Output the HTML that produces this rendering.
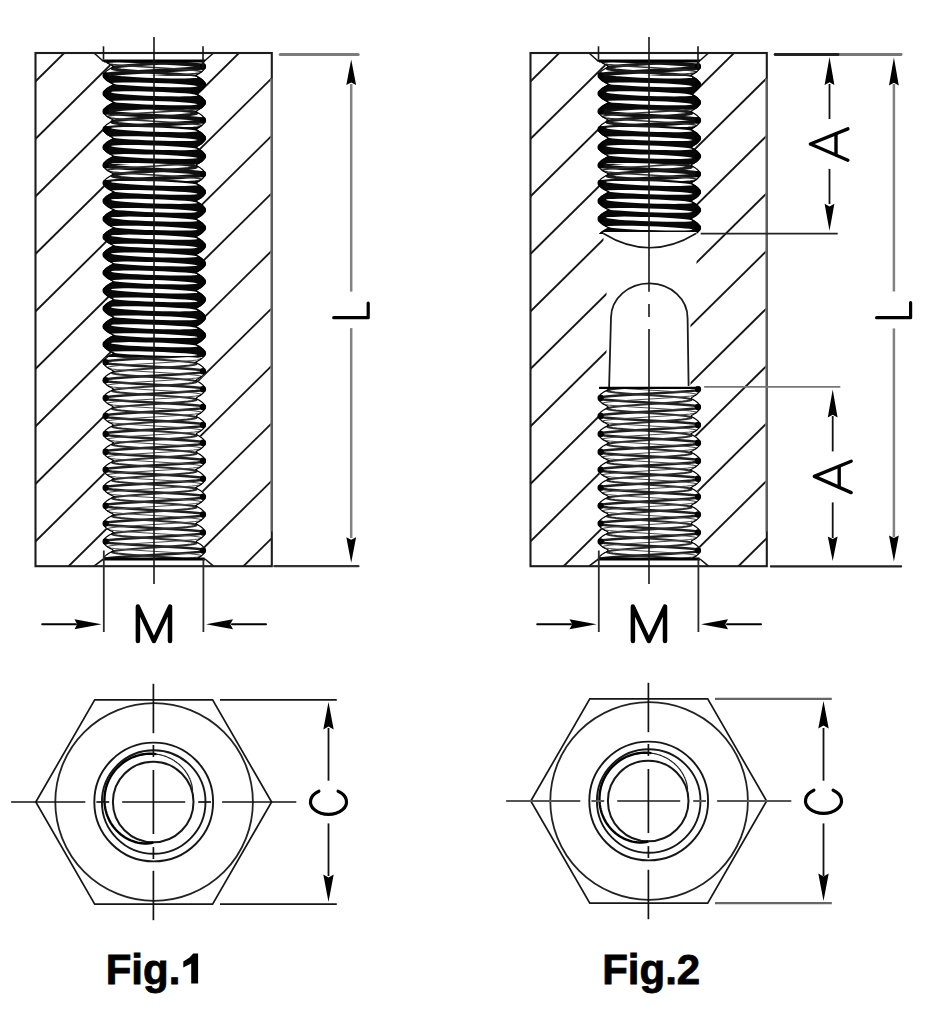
<!DOCTYPE html>
<html><head><meta charset="utf-8"><style>
html,body{margin:0;padding:0;background:#fff;}
body{width:938px;height:1013px;overflow:hidden;font-family:"Liberation Sans",sans-serif;}
svg{display:block;}
</style></head><body>
<svg width="938" height="1013" viewBox="0 0 938 1013">
<rect width="938" height="1013" fill="#fff"/>
<clipPath id="cp0"><rect x="35.5" y="53" width="236.3" height="513.2"/></clipPath>
<line x1="15.5" y1="-13.9" x2="295.5" y2="-290.2" stroke="#161616" stroke-width="1.9" clip-path="url(#cp0)"/>
<line x1="15.5" y1="43.6" x2="295.5" y2="-232.7" stroke="#161616" stroke-width="1.9" clip-path="url(#cp0)"/>
<line x1="15.5" y1="101.1" x2="295.5" y2="-175.2" stroke="#161616" stroke-width="1.9" clip-path="url(#cp0)"/>
<line x1="15.5" y1="158.6" x2="295.5" y2="-117.7" stroke="#161616" stroke-width="1.9" clip-path="url(#cp0)"/>
<line x1="15.5" y1="216.1" x2="295.5" y2="-60.2" stroke="#161616" stroke-width="1.9" clip-path="url(#cp0)"/>
<line x1="15.5" y1="273.6" x2="295.5" y2="-2.7" stroke="#161616" stroke-width="1.9" clip-path="url(#cp0)"/>
<line x1="15.5" y1="331.1" x2="295.5" y2="54.8" stroke="#161616" stroke-width="1.9" clip-path="url(#cp0)"/>
<line x1="15.5" y1="388.6" x2="295.5" y2="112.3" stroke="#161616" stroke-width="1.9" clip-path="url(#cp0)"/>
<line x1="15.5" y1="446.1" x2="295.5" y2="169.8" stroke="#161616" stroke-width="1.9" clip-path="url(#cp0)"/>
<line x1="15.5" y1="503.6" x2="295.5" y2="227.3" stroke="#161616" stroke-width="1.9" clip-path="url(#cp0)"/>
<line x1="15.5" y1="561.1" x2="295.5" y2="284.8" stroke="#161616" stroke-width="1.9" clip-path="url(#cp0)"/>
<line x1="15.5" y1="618.6" x2="295.5" y2="342.3" stroke="#161616" stroke-width="1.9" clip-path="url(#cp0)"/>
<line x1="15.5" y1="676.1" x2="295.5" y2="399.8" stroke="#161616" stroke-width="1.9" clip-path="url(#cp0)"/>
<line x1="15.5" y1="733.6" x2="295.5" y2="457.3" stroke="#161616" stroke-width="1.9" clip-path="url(#cp0)"/>
<line x1="15.5" y1="791.1" x2="295.5" y2="514.8" stroke="#161616" stroke-width="1.9" clip-path="url(#cp0)"/>
<line x1="15.5" y1="848.6" x2="295.5" y2="572.3" stroke="#161616" stroke-width="1.9" clip-path="url(#cp0)"/>
<line x1="15.5" y1="906.1" x2="295.5" y2="629.8" stroke="#161616" stroke-width="1.9" clip-path="url(#cp0)"/>
<line x1="15.5" y1="963.6" x2="295.5" y2="687.3" stroke="#161616" stroke-width="1.9" clip-path="url(#cp0)"/>
<path d="M94.5 53 L103 60.8 L205.4 60.8 L213.5 53Z" fill="#fff"/>
<path d="M94.5 566.2 L103 559.5 L205.4 559.5 L213.5 566.2Z" fill="#fff"/>
<clipPath id="th1"><path d="M104 60.5 L104.5 61.1 L105 61.7 L105.7 62.3 L106.4 62.9 L107.2 63.5 L108.2 64.1 L109.2 64.7 L110.3 65.3 L111.5 65.9 L112.7 66.5 L112 67.1 L110.7 67.7 L109.6 68.3 L108.6 68.9 L107.6 69.5 L106.7 70.1 L106 70.7 L105.3 71.3 L104.7 71.9 L104.2 72.5 L103.8 73.1 L103.4 73.7 L103.2 74.3 L103.1 74.9 L103 75.5 L103 76.1 L103.2 76.7 L103.4 77.3 L103.7 77.9 L104.1 78.5 L104.5 79.1 L105.1 79.7 L105.8 80.3 L106.5 80.9 L107.4 81.5 L108.3 82.1 L109.3 82.7 L110.4 83.3 L111.6 83.9 L112.9 84.5 L111.8 85.1 L110.6 85.7 L109.5 86.3 L108.4 86.9 L107.5 87.5 L106.6 88.1 L105.9 88.7 L105.2 89.3 L104.6 89.9 L104.1 90.5 L103.7 91.1 L103.4 91.7 L103.2 92.3 L103 92.9 L103 93.5 L103 94.1 L103.2 94.7 L103.4 95.3 L103.7 95.9 L104.1 96.5 L104.6 97.1 L105.2 97.7 L105.9 98.3 L106.6 98.9 L107.5 99.5 L108.4 100.1 L109.5 100.7 L110.6 101.3 L111.8 101.9 L112.9 102.5 L111.6 103.1 L110.4 103.7 L109.3 104.3 L108.3 104.9 L107.4 105.5 L106.5 106.1 L105.8 106.7 L105.1 107.3 L104.5 107.9 L104.1 108.5 L103.7 109.1 L103.4 109.7 L103.2 110.3 L103 110.9 L103 111.5 L103.1 112.1 L103.2 112.7 L103.4 113.3 L103.8 113.9 L104.2 114.5 L104.7 115.1 L105.3 115.7 L106 116.3 L106.7 116.9 L107.6 117.5 L108.6 118.1 L109.6 118.7 L110.7 119.3 L112 119.9 L112.7 120.5 L111.5 121.1 L110.3 121.7 L109.2 122.3 L108.2 122.9 L107.2 123.5 L106.4 124.1 L105.7 124.7 L105 125.3 L104.5 125.9 L104 126.5 L103.6 127.1 L103.3 127.7 L103.1 128.3 L103 128.9 L103 129.5 L103.1 130.1 L103.2 130.7 L103.5 131.3 L103.8 131.9 L104.2 132.5 L104.8 133.1 L105.4 133.7 L106.1 134.3 L106.9 134.9 L107.7 135.5 L108.7 136.1 L109.7 136.7 L110.9 137.3 L112.1 137.9 L112.6 138.5 L111.3 139.1 L110.1 139.7 L109 140.3 L108 140.9 L107.1 141.5 L106.3 142.1 L105.6 142.7 L105 143.3 L104.4 143.9 L103.9 144.5 L103.6 145.1 L103.3 145.7 L103.1 146.3 L103 146.9 L103 147.5 L103.1 148.1 L103.3 148.7 L103.5 149.3 L103.9 149.9 L104.3 150.5 L104.8 151.1 L105.5 151.7 L106.2 152.3 L107 152.9 L107.9 153.5 L108.8 154.1 L109.9 154.7 L111.1 155.3 L112.3 155.9 L112.4 156.5 L111.1 157.1 L110 157.7 L108.9 158.3 L107.9 158.9 L107 159.5 L106.2 160.1 L105.5 160.7 L104.9 161.3 L104.3 161.9 L103.9 162.5 L103.5 163.1 L103.3 163.7 L103.1 164.3 L103 164.9 L103 165.5 L103.1 166.1 L103.3 166.7 L103.6 167.3 L103.9 167.9 L104.4 168.5 L104.9 169.1 L105.5 169.7 L106.3 170.3 L107.1 170.9 L108 171.5 L109 172.1 L110 172.7 L111.2 173.3 L112.5 173.9 L112.2 174.5 L111 175.1 L109.8 175.7 L108.8 176.3 L107.8 176.9 L106.9 177.5 L106.1 178.1 L105.4 178.7 L104.8 179.3 L104.3 179.9 L103.8 180.5 L103.5 181.1 L103.2 181.7 L103.1 182.3 L103 182.9 L103 183.5 L103.1 184.1 L103.3 184.7 L103.6 185.3 L104 185.9 L104.4 186.5 L105 187.1 L105.6 187.7 L106.4 188.3 L107.2 188.9 L108.1 189.5 L109.1 190.1 L110.2 190.7 L111.4 191.3 L112.6 191.9 L112 192.5 L110.8 193.1 L109.7 193.7 L108.6 194.3 L107.7 194.9 L106.8 195.5 L106 196.1 L105.3 196.7 L104.7 197.3 L104.2 197.9 L103.8 198.5 L103.5 199.1 L103.2 199.7 L103.1 200.3 L103 200.9 L103 201.5 L103.1 202.1 L103.4 202.7 L103.6 203.3 L104 203.9 L104.5 204.5 L105.1 205.1 L105.7 205.7 L106.5 206.3 L107.3 206.9 L108.2 207.5 L109.2 208.1 L110.3 208.7 L111.5 209.3 L112.8 209.9 L111.9 210.5 L110.7 211.1 L109.5 211.7 L108.5 212.3 L107.5 212.9 L106.7 213.5 L105.9 214.1 L105.2 214.7 L104.7 215.3 L104.2 215.9 L103.7 216.5 L103.4 217.1 L103.2 217.7 L103.1 218.3 L103 218.9 L103 219.5 L103.2 220.1 L103.4 220.7 L103.7 221.3 L104.1 221.9 L104.6 222.5 L105.2 223.1 L105.8 223.7 L106.6 224.3 L107.4 224.9 L108.4 225.5 L109.4 226.1 L110.5 226.7 L111.7 227.3 L113 227.9 L111.7 228.5 L110.5 229.1 L109.4 229.7 L108.4 230.3 L107.4 230.9 L106.6 231.5 L105.8 232.1 L105.2 232.7 L104.6 233.3 L104.1 233.9 L103.7 234.5 L103.4 235.1 L103.2 235.7 L103 236.3 L103 236.9 L103.1 237.5 L103.2 238.1 L103.4 238.7 L103.7 239.3 L104.2 239.9 L104.7 240.5 L105.2 241.1 L105.9 241.7 L106.7 242.3 L107.5 242.9 L108.5 243.5 L109.5 244.1 L110.7 244.7 L111.9 245.3 L112.8 245.9 L111.5 246.5 L110.3 247.1 L109.2 247.7 L108.2 248.3 L107.3 248.9 L106.5 249.5 L105.7 250.1 L105.1 250.7 L104.5 251.3 L104 251.9 L103.6 252.5 L103.4 253.1 L103.1 253.7 L103 254.3 L103 254.9 L103.1 255.5 L103.2 256.1 L103.5 256.7 L103.8 257.3 L104.2 257.9 L104.7 258.5 L105.3 259.1 L106 259.7 L106.8 260.3 L107.7 260.9 L108.6 261.5 L109.7 262.1 L110.8 262.7 L112 263.3 L112.6 263.9 L111.4 264.5 L110.2 265.1 L109.1 265.7 L108.1 266.3 L107.2 266.9 L106.4 267.5 L105.6 268.1 L105 268.7 L104.4 269.3 L104 269.9 L103.6 270.5 L103.3 271.1 L103.1 271.7 L103 272.3 L103 272.9 L103.1 273.5 L103.2 274.1 L103.5 274.7 L103.8 275.3 L104.3 275.9 L104.8 276.5 L105.4 277.1 L106.1 277.7 L106.9 278.3 L107.8 278.9 L108.8 279.5 L109.8 280.1 L111 280.7 L112.2 281.3 L112.5 281.9 L111.2 282.5 L110 283.1 L109 283.7 L108 284.3 L107.1 284.9 L106.3 285.5 L105.5 286.1 L104.9 286.7 L104.4 287.3 L103.9 287.9 L103.6 288.5 L103.3 289.1 L103.1 289.7 L103 290.3 L103 290.9 L103.1 291.5 L103.3 292.1 L103.5 292.7 L103.9 293.3 L104.3 293.9 L104.9 294.5 L105.5 295.1 L106.2 295.7 L107 296.3 L107.9 296.9 L108.9 297.5 L110 298.1 L111.1 298.7 L112.4 299.3 L112.3 299.9 L111.1 300.5 L109.9 301.1 L108.8 301.7 L107.9 302.3 L107 302.9 L106.2 303.5 L105.5 304.1 L104.8 304.7 L104.3 305.3 L103.9 305.9 L103.5 306.5 L103.3 307.1 L103.1 307.7 L103 308.3 L103 308.9 L103.1 309.5 L103.3 310.1 L103.6 310.7 L103.9 311.3 L104.4 311.9 L105 312.5 L105.6 313.1 L106.3 313.7 L107.1 314.3 L108 314.9 L109 315.5 L110.1 316.1 L111.3 316.7 L112.6 317.3 L112.1 317.9 L110.9 318.5 L109.7 319.1 L108.7 319.7 L107.7 320.3 L106.9 320.9 L106.1 321.5 L105.4 322.1 L104.8 322.7 L104.2 323.3 L103.8 323.9 L103.5 324.5 L103.2 325.1 L103.1 325.7 L103 326.3 L103 326.9 L103.1 327.5 L103.3 328.1 L103.6 328.7 L104 329.3 L104.5 329.9 L105 330.5 L105.7 331.1 L106.4 331.7 L107.2 332.3 L108.2 332.9 L109.2 333.5 L110.3 334.1 L111.5 334.7 L112.7 335.3 L112 335.9 L110.7 336.5 L109.6 337.1 L108.6 337.7 L107.6 338.3 L106.7 338.9 L106 339.5 L105.3 340.1 L104.7 340.7 L104.2 341.3 L103.8 341.9 L103.4 342.5 L103.2 343.1 L103.1 343.7 L103 344.3 L103 344.9 L103.2 345.5 L103.4 346.1 L103.7 346.7 L104.1 347.3 L104.5 347.9 L105.1 348.5 L105.8 349.1 L106.5 349.7 L107.4 350.3 L108.3 350.9 L109.3 351.5 L110.4 352.1 L111.6 352.7 L112.9 353.3 L111.8 353.9 L110.6 354.5 L109.5 355.1 L108.4 355.7 L107.5 356.3 L106.6 356.9 L105.9 357.5 L105.2 358.1 L104.6 358.7 L104.1 359.3 L103.7 359.9 L103.4 360.5 L103.2 361.1 L103 361.7 L103 362.3 L103 362.9 L103.2 363.5 L103.4 364.1 L103.7 364.7 L104.1 365.3 L104.6 365.9 L105.2 366.5 L105.9 367.1 L106.6 367.7 L107.5 368.3 L108.4 368.9 L109.5 369.5 L110.6 370.1 L111.8 370.7 L112.9 371.3 L111.6 371.9 L110.4 372.5 L109.3 373.1 L108.3 373.7 L107.4 374.3 L106.5 374.9 L105.8 375.5 L105.1 376.1 L104.5 376.7 L104.1 377.3 L103.7 377.9 L103.4 378.5 L103.2 379.1 L103 379.7 L103 380.3 L103.1 380.9 L103.2 381.5 L103.4 382.1 L103.8 382.7 L104.2 383.3 L104.7 383.9 L105.3 384.5 L106 385.1 L106.7 385.7 L107.6 386.3 L108.6 386.9 L109.6 387.5 L110.7 388.1 L112 388.7 L112.7 389.3 L111.5 389.9 L110.3 390.5 L109.2 391.1 L108.2 391.7 L107.2 392.3 L106.4 392.9 L105.7 393.5 L105 394.1 L104.5 394.7 L104 395.3 L103.6 395.9 L103.3 396.5 L103.1 397.1 L103 397.7 L103 398.3 L103.1 398.9 L103.2 399.5 L103.5 400.1 L103.8 400.7 L104.2 401.3 L104.8 401.9 L105.4 402.5 L106.1 403.1 L106.9 403.7 L107.7 404.3 L108.7 404.9 L109.7 405.5 L110.9 406.1 L112.1 406.7 L112.6 407.3 L111.3 407.9 L110.1 408.5 L109 409.1 L108 409.7 L107.1 410.3 L106.3 410.9 L105.6 411.5 L105 412.1 L104.4 412.7 L103.9 413.3 L103.6 413.9 L103.3 414.5 L103.1 415.1 L103 415.7 L103 416.3 L103.1 416.9 L103.3 417.5 L103.5 418.1 L103.9 418.7 L104.3 419.3 L104.8 419.9 L105.5 420.5 L106.2 421.1 L107 421.7 L107.9 422.3 L108.8 422.9 L109.9 423.5 L111.1 424.1 L112.3 424.7 L112.4 425.3 L111.1 425.9 L110 426.5 L108.9 427.1 L107.9 427.7 L107 428.3 L106.2 428.9 L105.5 429.5 L104.9 430.1 L104.3 430.7 L103.9 431.3 L103.5 431.9 L103.3 432.5 L103.1 433.1 L103 433.7 L103 434.3 L103.1 434.9 L103.3 435.5 L103.6 436.1 L103.9 436.7 L104.4 437.3 L104.9 437.9 L105.5 438.5 L106.3 439.1 L107.1 439.7 L108 440.3 L109 440.9 L110 441.5 L111.2 442.1 L112.5 442.7 L112.2 443.3 L111 443.9 L109.8 444.5 L108.8 445.1 L107.8 445.7 L106.9 446.3 L106.1 446.9 L105.4 447.5 L104.8 448.1 L104.3 448.7 L103.8 449.3 L103.5 449.9 L103.2 450.5 L103.1 451.1 L103 451.7 L103 452.3 L103.1 452.9 L103.3 453.5 L103.6 454.1 L104 454.7 L104.4 455.3 L105 455.9 L105.6 456.5 L106.4 457.1 L107.2 457.7 L108.1 458.3 L109.1 458.9 L110.2 459.5 L111.4 460.1 L112.6 460.7 L112 461.3 L110.8 461.9 L109.7 462.5 L108.6 463.1 L107.7 463.7 L106.8 464.3 L106 464.9 L105.3 465.5 L104.7 466.1 L104.2 466.7 L103.8 467.3 L103.5 467.9 L103.2 468.5 L103.1 469.1 L103 469.7 L103 470.3 L103.1 470.9 L103.4 471.5 L103.6 472.1 L104 472.7 L104.5 473.3 L105.1 473.9 L105.7 474.5 L106.5 475.1 L107.3 475.7 L108.2 476.3 L109.2 476.9 L110.3 477.5 L111.5 478.1 L112.8 478.7 L111.9 479.3 L110.7 479.9 L109.5 480.5 L108.5 481.1 L107.5 481.7 L106.7 482.3 L105.9 482.9 L105.2 483.5 L104.7 484.1 L104.2 484.7 L103.7 485.3 L103.4 485.9 L103.2 486.5 L103.1 487.1 L103 487.7 L103 488.3 L103.2 488.9 L103.4 489.5 L103.7 490.1 L104.1 490.7 L104.6 491.3 L105.2 491.9 L105.8 492.5 L106.6 493.1 L107.4 493.7 L108.4 494.3 L109.4 494.9 L110.5 495.5 L111.7 496.1 L113 496.7 L111.7 497.3 L110.5 497.9 L109.4 498.5 L108.4 499.1 L107.4 499.7 L106.6 500.3 L105.8 500.9 L105.2 501.5 L104.6 502.1 L104.1 502.7 L103.7 503.3 L103.4 503.9 L103.2 504.5 L103 505.1 L103 505.7 L103.1 506.3 L103.2 506.9 L103.4 507.5 L103.7 508.1 L104.2 508.7 L104.7 509.3 L105.2 509.9 L105.9 510.5 L106.7 511.1 L107.5 511.7 L108.5 512.3 L109.5 512.9 L110.7 513.5 L111.9 514.1 L112.8 514.7 L111.5 515.3 L110.3 515.9 L109.2 516.5 L108.2 517.1 L107.3 517.7 L106.5 518.3 L105.7 518.9 L105.1 519.5 L104.5 520.1 L104 520.7 L103.6 521.3 L103.4 521.9 L103.1 522.5 L103 523.1 L103 523.7 L103.1 524.3 L103.2 524.9 L103.5 525.5 L103.8 526.1 L104.2 526.7 L104.7 527.3 L105.3 527.9 L106 528.5 L106.8 529.1 L107.7 529.7 L108.6 530.3 L109.7 530.9 L110.8 531.5 L112 532.1 L112.6 532.7 L111.4 533.3 L110.2 533.9 L109.1 534.5 L108.1 535.1 L107.2 535.7 L106.4 536.3 L105.6 536.9 L105 537.5 L104.4 538.1 L104 538.7 L103.6 539.3 L103.3 539.9 L103.1 540.5 L103 541.1 L103 541.7 L103.1 542.3 L103.2 542.9 L103.5 543.5 L103.8 544.1 L104.3 544.7 L104.8 545.3 L105.4 545.9 L106.1 546.5 L106.9 547.1 L107.8 547.7 L108.8 548.3 L109.8 548.9 L111 549.5 L112.2 550.1 L112.5 550.7 L111.2 551.3 L110 551.9 L109 552.5 L108 553.1 L107.1 553.7 L106.3 554.3 L105.5 554.9 L104.9 555.5 L104.4 556.1 L103.9 556.7 L103.6 557.3 L103.3 557.9 L103.1 558.5 L103 559.1 L197.2 559.1 L198.4 558.5 L199.4 557.9 L200.4 557.3 L201.2 556.7 L202 556.1 L202.8 555.5 L203.4 554.9 L203.9 554.3 L204.4 553.7 L204.8 553.1 L205.1 552.5 L205.4 551.9 L205.5 551.3 L205.6 550.7 L205.6 550.1 L205.5 549.5 L205.3 548.9 L205.1 548.3 L204.7 547.7 L204.3 547.1 L203.8 546.5 L203.3 545.9 L202.6 545.3 L201.9 544.7 L201.1 544.1 L200.2 543.5 L199.2 542.9 L198.1 542.3 L197 541.7 L197.4 541.1 L198.5 540.5 L199.5 539.9 L200.5 539.3 L201.3 538.7 L202.1 538.1 L202.8 537.5 L203.5 536.9 L204 536.3 L204.5 535.7 L204.9 535.1 L205.2 534.5 L205.4 533.9 L205.5 533.3 L205.6 532.7 L205.6 532.1 L205.5 531.5 L205.3 530.9 L205 530.3 L204.7 529.7 L204.3 529.1 L203.8 528.5 L203.2 527.9 L202.5 527.3 L201.8 526.7 L201 526.1 L200 525.5 L199.1 524.9 L198 524.3 L196.8 523.7 L197.5 523.1 L198.6 522.5 L199.7 521.9 L200.6 521.3 L201.5 520.7 L202.2 520.1 L202.9 519.5 L203.5 518.9 L204.1 518.3 L204.5 517.7 L204.9 517.1 L205.2 516.5 L205.4 515.9 L205.5 515.3 L205.6 514.7 L205.6 514.1 L205.5 513.5 L205.3 512.9 L205 512.3 L204.6 511.7 L204.2 511.1 L203.7 510.5 L203.1 509.9 L202.4 509.3 L201.7 508.7 L200.8 508.1 L199.9 507.5 L198.9 506.9 L197.8 506.3 L196.7 505.7 L197.7 505.1 L198.8 504.5 L199.8 503.9 L200.7 503.3 L201.6 502.7 L202.3 502.1 L203 501.5 L203.6 500.9 L204.1 500.3 L204.6 499.7 L205 499.1 L205.2 498.5 L205.4 497.9 L205.6 497.3 L205.6 496.7 L205.6 496.1 L205.4 495.5 L205.2 494.9 L205 494.3 L204.6 493.7 L204.1 493.1 L203.6 492.5 L203 491.9 L202.3 491.3 L201.6 490.7 L200.7 490.1 L199.8 489.5 L198.8 488.9 L197.7 488.3 L196.7 487.7 L197.8 487.1 L198.9 486.5 L199.9 485.9 L200.8 485.3 L201.7 484.7 L202.4 484.1 L203.1 483.5 L203.7 482.9 L204.2 482.3 L204.6 481.7 L205 481.1 L205.3 480.5 L205.5 479.9 L205.6 479.3 L205.6 478.7 L205.5 478.1 L205.4 477.5 L205.2 476.9 L204.9 476.3 L204.5 475.7 L204.1 475.1 L203.5 474.5 L202.9 473.9 L202.2 473.3 L201.5 472.7 L200.6 472.1 L199.7 471.5 L198.6 470.9 L197.5 470.3 L196.8 469.7 L198 469.1 L199.1 468.5 L200 467.9 L201 467.3 L201.8 466.7 L202.5 466.1 L203.2 465.5 L203.8 464.9 L204.3 464.3 L204.7 463.7 L205 463.1 L205.3 462.5 L205.5 461.9 L205.6 461.3 L205.6 460.7 L205.5 460.1 L205.4 459.5 L205.2 458.9 L204.9 458.3 L204.5 457.7 L204 457.1 L203.5 456.5 L202.8 455.9 L202.1 455.3 L201.3 454.7 L200.5 454.1 L199.5 453.5 L198.5 452.9 L197.4 452.3 L197 451.7 L198.1 451.1 L199.2 450.5 L200.2 449.9 L201.1 449.3 L201.9 448.7 L202.6 448.1 L203.3 447.5 L203.8 446.9 L204.3 446.3 L204.7 445.7 L205.1 445.1 L205.3 444.5 L205.5 443.9 L205.6 443.3 L205.6 442.7 L205.5 442.1 L205.4 441.5 L205.1 440.9 L204.8 440.3 L204.4 439.7 L203.9 439.1 L203.4 438.5 L202.8 437.9 L202 437.3 L201.2 436.7 L200.4 436.1 L199.4 435.5 L198.4 434.9 L197.2 434.3 L197.2 433.7 L198.3 433.1 L199.3 432.5 L200.3 431.9 L201.2 431.3 L202 430.7 L202.7 430.1 L203.3 429.5 L203.9 428.9 L204.4 428.3 L204.8 427.7 L205.1 427.1 L205.4 426.5 L205.5 425.9 L205.6 425.3 L205.6 424.7 L205.5 424.1 L205.3 423.5 L205.1 422.9 L204.8 422.3 L204.4 421.7 L203.9 421.1 L203.3 420.5 L202.7 419.9 L201.9 419.3 L201.1 418.7 L200.2 418.1 L199.3 417.5 L198.2 416.9 L197.1 416.3 L197.3 415.7 L198.4 415.1 L199.5 414.5 L200.4 413.9 L201.3 413.3 L202.1 412.7 L202.8 412.1 L203.4 411.5 L204 410.9 L204.5 410.3 L204.8 409.7 L205.2 409.1 L205.4 408.5 L205.5 407.9 L205.6 407.3 L205.6 406.7 L205.5 406.1 L205.3 405.5 L205.1 404.9 L204.7 404.3 L204.3 403.7 L203.8 403.1 L203.2 402.5 L202.6 401.9 L201.8 401.3 L201 400.7 L200.1 400.1 L199.1 399.5 L198.1 398.9 L196.9 398.3 L197.5 397.7 L198.6 397.1 L199.6 396.5 L200.5 395.9 L201.4 395.3 L202.2 394.7 L202.9 394.1 L203.5 393.5 L204 392.9 L204.5 392.3 L204.9 391.7 L205.2 391.1 L205.4 390.5 L205.5 389.9 L205.6 389.3 L205.6 388.7 L205.5 388.1 L205.3 387.5 L205 386.9 L204.7 386.3 L204.2 385.7 L203.7 385.1 L203.1 384.5 L202.5 383.9 L201.7 383.3 L200.9 382.7 L200 382.1 L199 381.5 L197.9 380.9 L196.8 380.3 L197.6 379.7 L198.7 379.1 L199.7 378.5 L200.7 377.9 L201.5 377.3 L202.3 376.7 L203 376.1 L203.6 375.5 L204.1 374.9 L204.6 374.3 L204.9 373.7 L205.2 373.1 L205.4 372.5 L205.6 371.9 L205.6 371.3 L205.6 370.7 L205.4 370.1 L205.3 369.5 L205 368.9 L204.6 368.3 L204.2 367.7 L203.7 367.1 L203.1 366.5 L202.4 365.9 L201.6 365.3 L200.8 364.7 L199.9 364.1 L198.8 363.5 L197.8 362.9 L196.6 362.3 L197.8 361.7 L198.8 361.1 L199.9 360.5 L200.8 359.9 L201.6 359.3 L202.4 358.7 L203.1 358.1 L203.7 357.5 L204.2 356.9 L204.6 356.3 L205 355.7 L205.3 355.1 L205.4 354.5 L205.6 353.9 L205.6 353.3 L205.6 352.7 L205.4 352.1 L205.2 351.5 L204.9 350.9 L204.6 350.3 L204.1 349.7 L203.6 349.1 L203 348.5 L202.3 347.9 L201.5 347.3 L200.7 346.7 L199.7 346.1 L198.7 345.5 L197.6 344.9 L196.8 344.3 L197.9 343.7 L199 343.1 L200 342.5 L200.9 341.9 L201.7 341.3 L202.5 340.7 L203.1 340.1 L203.7 339.5 L204.2 338.9 L204.7 338.3 L205 337.7 L205.3 337.1 L205.5 336.5 L205.6 335.9 L205.6 335.3 L205.5 334.7 L205.4 334.1 L205.2 333.5 L204.9 332.9 L204.5 332.3 L204 331.7 L203.5 331.1 L202.9 330.5 L202.2 329.9 L201.4 329.3 L200.5 328.7 L199.6 328.1 L198.6 327.5 L197.5 326.9 L196.9 326.3 L198.1 325.7 L199.1 325.1 L200.1 324.5 L201 323.9 L201.8 323.3 L202.6 322.7 L203.2 322.1 L203.8 321.5 L204.3 320.9 L204.7 320.3 L205.1 319.7 L205.3 319.1 L205.5 318.5 L205.6 317.9 L205.6 317.3 L205.5 316.7 L205.4 316.1 L205.2 315.5 L204.8 314.9 L204.5 314.3 L204 313.7 L203.4 313.1 L202.8 312.5 L202.1 311.9 L201.3 311.3 L200.4 310.7 L199.5 310.1 L198.4 309.5 L197.3 308.9 L197.1 308.3 L198.2 307.7 L199.3 307.1 L200.2 306.5 L201.1 305.9 L201.9 305.3 L202.7 304.7 L203.3 304.1 L203.9 303.5 L204.4 302.9 L204.8 302.3 L205.1 301.7 L205.3 301.1 L205.5 300.5 L205.6 299.9 L205.6 299.3 L205.5 298.7 L205.4 298.1 L205.1 297.5 L204.8 296.9 L204.4 296.3 L203.9 295.7 L203.3 295.1 L202.7 294.5 L202 293.9 L201.2 293.3 L200.3 292.7 L199.3 292.1 L198.3 291.5 L197.2 290.9 L197.2 290.3 L198.4 289.7 L199.4 289.1 L200.4 288.5 L201.2 287.9 L202 287.3 L202.8 286.7 L203.4 286.1 L203.9 285.5 L204.4 284.9 L204.8 284.3 L205.1 283.7 L205.4 283.1 L205.5 282.5 L205.6 281.9 L205.6 281.3 L205.5 280.7 L205.3 280.1 L205.1 279.5 L204.7 278.9 L204.3 278.3 L203.8 277.7 L203.3 277.1 L202.6 276.5 L201.9 275.9 L201.1 275.3 L200.2 274.7 L199.2 274.1 L198.1 273.5 L197 272.9 L197.4 272.3 L198.5 271.7 L199.5 271.1 L200.5 270.5 L201.3 269.9 L202.1 269.3 L202.8 268.7 L203.5 268.1 L204 267.5 L204.5 266.9 L204.9 266.3 L205.2 265.7 L205.4 265.1 L205.5 264.5 L205.6 263.9 L205.6 263.3 L205.5 262.7 L205.3 262.1 L205 261.5 L204.7 260.9 L204.3 260.3 L203.8 259.7 L203.2 259.1 L202.5 258.5 L201.8 257.9 L201 257.3 L200 256.7 L199.1 256.1 L198 255.5 L196.8 254.9 L197.5 254.3 L198.6 253.7 L199.7 253.1 L200.6 252.5 L201.5 251.9 L202.2 251.3 L202.9 250.7 L203.5 250.1 L204.1 249.5 L204.5 248.9 L204.9 248.3 L205.2 247.7 L205.4 247.1 L205.5 246.5 L205.6 245.9 L205.6 245.3 L205.5 244.7 L205.3 244.1 L205 243.5 L204.6 242.9 L204.2 242.3 L203.7 241.7 L203.1 241.1 L202.4 240.5 L201.7 239.9 L200.8 239.3 L199.9 238.7 L198.9 238.1 L197.8 237.5 L196.7 236.9 L197.7 236.3 L198.8 235.7 L199.8 235.1 L200.7 234.5 L201.6 233.9 L202.3 233.3 L203 232.7 L203.6 232.1 L204.1 231.5 L204.6 230.9 L205 230.3 L205.2 229.7 L205.4 229.1 L205.6 228.5 L205.6 227.9 L205.6 227.3 L205.4 226.7 L205.2 226.1 L205 225.5 L204.6 224.9 L204.1 224.3 L203.6 223.7 L203 223.1 L202.3 222.5 L201.6 221.9 L200.7 221.3 L199.8 220.7 L198.8 220.1 L197.7 219.5 L196.7 218.9 L197.8 218.3 L198.9 217.7 L199.9 217.1 L200.8 216.5 L201.7 215.9 L202.4 215.3 L203.1 214.7 L203.7 214.1 L204.2 213.5 L204.6 212.9 L205 212.3 L205.3 211.7 L205.5 211.1 L205.6 210.5 L205.6 209.9 L205.5 209.3 L205.4 208.7 L205.2 208.1 L204.9 207.5 L204.5 206.9 L204.1 206.3 L203.5 205.7 L202.9 205.1 L202.2 204.5 L201.5 203.9 L200.6 203.3 L199.7 202.7 L198.6 202.1 L197.5 201.5 L196.8 200.9 L198 200.3 L199.1 199.7 L200 199.1 L201 198.5 L201.8 197.9 L202.5 197.3 L203.2 196.7 L203.8 196.1 L204.3 195.5 L204.7 194.9 L205 194.3 L205.3 193.7 L205.5 193.1 L205.6 192.5 L205.6 191.9 L205.5 191.3 L205.4 190.7 L205.2 190.1 L204.9 189.5 L204.5 188.9 L204 188.3 L203.5 187.7 L202.8 187.1 L202.1 186.5 L201.3 185.9 L200.5 185.3 L199.5 184.7 L198.5 184.1 L197.4 183.5 L197 182.9 L198.1 182.3 L199.2 181.7 L200.2 181.1 L201.1 180.5 L201.9 179.9 L202.6 179.3 L203.3 178.7 L203.8 178.1 L204.3 177.5 L204.7 176.9 L205.1 176.3 L205.3 175.7 L205.5 175.1 L205.6 174.5 L205.6 173.9 L205.5 173.3 L205.4 172.7 L205.1 172.1 L204.8 171.5 L204.4 170.9 L203.9 170.3 L203.4 169.7 L202.8 169.1 L202 168.5 L201.2 167.9 L200.4 167.3 L199.4 166.7 L198.4 166.1 L197.2 165.5 L197.2 164.9 L198.3 164.3 L199.3 163.7 L200.3 163.1 L201.2 162.5 L202 161.9 L202.7 161.3 L203.4 160.7 L203.9 160.1 L204.4 159.5 L204.8 158.9 L205.1 158.3 L205.4 157.7 L205.5 157.1 L205.6 156.5 L205.6 155.9 L205.5 155.3 L205.3 154.7 L205.1 154.1 L204.8 153.5 L204.4 152.9 L203.9 152.3 L203.3 151.7 L202.7 151.1 L201.9 150.5 L201.1 149.9 L200.2 149.3 L199.3 148.7 L198.2 148.1 L197.1 147.5 L197.3 146.9 L198.4 146.3 L199.5 145.7 L200.4 145.1 L201.3 144.5 L202.1 143.9 L202.8 143.3 L203.4 142.7 L204 142.1 L204.5 141.5 L204.8 140.9 L205.2 140.3 L205.4 139.7 L205.5 139.1 L205.6 138.5 L205.6 137.9 L205.5 137.3 L205.3 136.7 L205.1 136.1 L204.7 135.5 L204.3 134.9 L203.8 134.3 L203.2 133.7 L202.6 133.1 L201.8 132.5 L201 131.9 L200.1 131.3 L199.1 130.7 L198.1 130.1 L196.9 129.5 L197.5 128.9 L198.6 128.3 L199.6 127.7 L200.5 127.1 L201.4 126.5 L202.2 125.9 L202.9 125.3 L203.5 124.7 L204 124.1 L204.5 123.5 L204.9 122.9 L205.2 122.3 L205.4 121.7 L205.5 121.1 L205.6 120.5 L205.6 119.9 L205.5 119.3 L205.3 118.7 L205 118.1 L204.7 117.5 L204.2 116.9 L203.7 116.3 L203.1 115.7 L202.5 115.1 L201.7 114.5 L200.9 113.9 L200 113.3 L199 112.7 L197.9 112.1 L196.8 111.5 L197.6 110.9 L198.7 110.3 L199.7 109.7 L200.7 109.1 L201.5 108.5 L202.3 107.9 L203 107.3 L203.6 106.7 L204.1 106.1 L204.6 105.5 L204.9 104.9 L205.2 104.3 L205.4 103.7 L205.6 103.1 L205.6 102.5 L205.6 101.9 L205.4 101.3 L205.3 100.7 L205 100.1 L204.6 99.5 L204.2 98.9 L203.7 98.3 L203.1 97.7 L202.4 97.1 L201.6 96.5 L200.8 95.9 L199.9 95.3 L198.8 94.7 L197.8 94.1 L196.6 93.5 L197.8 92.9 L198.8 92.3 L199.9 91.7 L200.8 91.1 L201.6 90.5 L202.4 89.9 L203.1 89.3 L203.7 88.7 L204.2 88.1 L204.6 87.5 L205 86.9 L205.3 86.3 L205.4 85.7 L205.6 85.1 L205.6 84.5 L205.6 83.9 L205.4 83.3 L205.2 82.7 L204.9 82.1 L204.6 81.5 L204.1 80.9 L203.6 80.3 L203 79.7 L202.3 79.1 L201.5 78.5 L200.7 77.9 L199.7 77.3 L198.7 76.7 L197.6 76.1 L196.8 75.5 L197.9 74.9 L199 74.3 L200 73.7 L200.9 73.1 L201.7 72.5 L202.5 71.9 L203.1 71.3 L203.7 70.7 L204.2 70.1 L204.7 69.5 L205 68.9 L205.3 68.3 L205.5 67.7 L205.6 67.1 L205.6 66.5 L205.5 65.9 L205.4 65.3 L205.2 64.7 L204.9 64.1 L204.5 63.5 L204 62.9 L203.5 62.3 L202.9 61.7 L202.2 61.1 L201.4 60.5Z"/></clipPath>
<g clip-path="url(#th1)">
<rect x="101" y="60.5" width="106.6" height="15.5" fill="#fff"/>
<clipPath id="th1_60"><rect x="101" y="60.5" width="106.6" height="15.5"/></clipPath>
<g clip-path="url(#th1_60)" fill="none" stroke-linejoin="round">
<path d="M166.4 52.5 L157.5 53 L148.6 53.5 L139.8 54 L131.4 54.5 L123.7 55 L117 55.5 L111.4 56 L107.2 56.5 L104.4 57 L103.1 57.5 L103.4 58 L105.2 58.5 L108.6 59 L113.3 59.5 L119.3 60 L126.4 60.5 L134.3 61 L142.9 61.5 L151.8 62 L160.8 62.5 L169.5 63 L177.8 63.5 L185.4 64 L192.1 64.5 L197.5 65 L201.7 65.5 L204.4 66 L205.6 66.5 L205.1 67 L203.2 67.5 L199.7 68 L194.9 68.5 L188.8 69 L181.6 69.5 L173.6 70 L165 70.5 L156.1 71 L147.1 71.5 L138.4 72 L130.1 72.5 L122.6 73 L116 73.5 L110.7 74 L106.6 74.5 L104.1 75 L103 75.5 L103.6 76 L105.6 76.5 L109.2 77 L114.2 77.5 L120.4 78 L127.6 78.5 L135.7 79 L144.3 79.5 L153.2 80 L162.2 80.5 L170.9 81 L179.1 81.5 L186.6 82 L193 82.5 L198.3 83 L202.2 83.5 L204.7 84" stroke="#111" stroke-width="3.8"/>
<path d="M125 52.5 L130.8 53 L137.3 53.5 L144.3 54 L151.6 54.5 L159 55 L166.3 55.5 L173.2 56 L179.5 56.5 L185 57 L189.6 57.5 L193.1 58 L195.5 58.5 L196.5 59 L196.3 59.5 L194.8 60 L192 60.5 L188.1 61 L183.1 61.5 L177.3 62 L170.8 62.5 L163.7 63 L156.4 63.5 L149 64 L141.7 64.5 L134.9 65 L128.6 65.5 L123.2 66 L118.6 66.5 L115.2 67 L113 67.5 L112 68 L112.4 68.5 L114 69 L116.9 69.5 L120.9 70 L125.9 70.5 L131.8 71 L138.4 71.5 L145.5 72 L152.8 72.5 L160.2 73 L167.4 73.5 L174.2 74 L180.4 74.5 L185.8 75 L190.3 75.5 L193.6 76 L195.7 76.5 L196.6 77 L196.1 77.5 L194.4 78 L191.5 78.5 L187.4 79 L182.3 79.5 L176.3 80 L169.7 80.5 L162.6 81 L155.2 81.5 L147.8 82 L140.6 82.5 L133.8 83 L127.7 83.5 L122.4 84" stroke="#1a1a1a" stroke-width="3.2"/>
<path d="M194.6 52.5 L198.3 53 L200.6 53.5 L201.6 54 L201.1 54.5 L199.1 55 L195.8 55.5 L191.2 56 L185.5 56.5 L178.8 57 L171.4 57.5 L163.5 58 L155.2 58.5 L147 59 L138.9 59.5 L131.4 60 L124.5 60.5 L118.5 61 L113.7 61.5 L110.1 62 L107.8 62.5 L107 63 L107.6 63.5 L109.7 64 L113.1 64.5 L117.8 65 L123.6 65.5 L130.3 66 L137.8 66.5 L145.8 67 L154 67.5 L162.3 68 L170.3 68.5 L177.8 69 L184.6 69.5 L190.5 70 L195.2 70.5 L198.7 71 L200.9 71.5 L201.6 72 L200.9 72.5 L198.7 73 L195.2 73.5 L190.4 74 L184.5 74.5 L177.7 75 L170.2 75.5 L162.2 76 L153.9 76.5 L145.7 77 L137.7 77.5 L130.2 78 L123.5 78.5 L117.7 79 L113 79.5 L109.6 80 L107.6 80.5 L107 81 L107.9 81.5 L110.1 82 L113.8 82.5 L118.6 83 L124.6 83.5 L131.5 84" stroke="#333" stroke-width="1.6"/>
</g>
<rect x="101" y="76" width="106.6" height="33" fill="#080808"/>
<clipPath id="th1_76"><rect x="101" y="76" width="106.6" height="33"/></clipPath>
<g clip-path="url(#th1_76)">
<ellipse cx="154.3" cy="75.9" rx="43.3" ry="2.1" transform="rotate(1.98 154.3 75.9)" fill="#fff"/>
<ellipse cx="154.3" cy="84.8" rx="43.3" ry="1.9" transform="rotate(1.98 154.3 84.8)" fill="#fff"/>
<ellipse cx="154.3" cy="93.8" rx="43.3" ry="2.1" transform="rotate(1.98 154.3 93.8)" fill="#fff"/>
<ellipse cx="154.3" cy="102.8" rx="43.3" ry="1.9" transform="rotate(1.98 154.3 102.8)" fill="#fff"/>
<ellipse cx="154.3" cy="111.7" rx="43.3" ry="2.1" transform="rotate(1.98 154.3 111.7)" fill="#fff"/>
</g>
<rect x="101" y="109" width="106.6" height="18" fill="#fff"/>
<clipPath id="th1_109"><rect x="101" y="109" width="106.6" height="18"/></clipPath>
<g clip-path="url(#th1_109)" fill="none" stroke-linejoin="round">
<path d="M199 101 L202.7 101.5 L204.9 102 L205.6 102.5 L204.7 103 L202.2 103.5 L198.3 104 L193 104.5 L186.6 105 L179.1 105.5 L170.9 106 L162.2 106.5 L153.2 107 L144.3 107.5 L135.7 108 L127.6 108.5 L120.4 109 L114.2 109.5 L109.2 110 L105.6 110.5 L103.6 111 L103 111.5 L104.1 112 L106.6 112.5 L110.7 113 L116 113.5 L122.6 114 L130.1 114.5 L138.4 115 L147.1 115.5 L156.1 116 L165 116.5 L173.6 117 L181.6 117.5 L188.8 118 L194.9 118.5 L199.7 119 L203.2 119.5 L205.1 120 L205.6 120.5 L204.4 121 L201.7 121.5 L197.5 122 L192.1 122.5 L185.4 123 L177.8 123.5 L169.5 124 L160.8 124.5 L151.8 125 L142.9 125.5 L134.3 126 L126.4 126.5 L119.3 127 L113.3 127.5 L108.6 128 L105.2 128.5 L103.4 129 L103.1 129.5 L104.4 130 L107.2 130.5 L111.4 131 L117 131.5 L123.7 132 L131.4 132.5 L139.8 133 L148.6 133.5 L157.5 134 L166.4 134.5 L174.9 135" stroke="#111" stroke-width="3.8"/>
<path d="M132.8 101 L126.8 101.5 L121.6 102 L117.4 102.5 L114.4 103 L112.5 103.5 L112 104 L112.8 104.5 L114.8 105 L118 105.5 L122.4 106 L127.7 106.5 L133.8 107 L140.6 107.5 L147.8 108 L155.2 108.5 L162.6 109 L169.7 109.5 L176.3 110 L182.3 110.5 L187.4 111 L191.5 111.5 L194.4 112 L196.1 112.5 L196.6 113 L195.7 113.5 L193.6 114 L190.3 114.5 L185.8 115 L180.4 115.5 L174.2 116 L167.4 116.5 L160.2 117 L152.8 117.5 L145.5 118 L138.4 118.5 L131.8 119 L125.9 119.5 L120.9 120 L116.9 120.5 L114 121 L112.4 121.5 L112 122 L113 122.5 L115.2 123 L118.6 123.5 L123.2 124 L128.6 124.5 L134.9 125 L141.7 125.5 L149 126 L156.4 126.5 L163.7 127 L170.8 127.5 L177.3 128 L183.1 128.5 L188.1 129 L192 129.5 L194.8 130 L196.3 130.5 L196.5 131 L195.5 131.5 L193.1 132 L189.6 132.5 L185 133 L179.5 133.5 L173.2 134 L166.3 134.5 L159 135" stroke="#1a1a1a" stroke-width="3.2"/>
<path d="M119.5 101 L125.6 101.5 L132.6 102 L140.3 102.5 L148.4 103 L156.7 103.5 L164.9 104 L172.8 104.5 L180.1 105 L186.6 105.5 L192.1 106 L196.5 106.5 L199.6 107 L201.3 107.5 L201.5 108 L200.3 108.5 L197.7 109 L193.8 109.5 L188.6 110 L182.4 110.5 L175.4 111 L167.6 111.5 L159.5 112 L151.3 112.5 L143.1 113 L135.2 113.5 L128 114 L121.5 114.5 L116.1 115 L111.8 115.5 L108.8 116 L107.3 116.5 L107.1 117 L108.4 117.5 L111.2 118 L115.2 118.5 L120.4 119 L126.7 119.5 L133.8 120 L141.6 120.5 L149.7 121 L158 121.5 L166.2 122 L174 122.5 L181.2 123 L187.6 123.5 L192.9 124 L197.1 124.5 L199.9 125 L201.4 125.5 L201.4 126 L200 126.5 L197.2 127 L193 127.5 L187.7 128 L181.3 128.5 L174.2 129 L166.4 129.5 L158.2 130 L149.9 130.5 L141.8 131 L134 131.5 L126.9 132 L120.6 132.5 L115.3 133 L111.2 133.5 L108.5 134 L107.1 134.5 L107.2 135" stroke="#333" stroke-width="1.6"/>
</g>
<rect x="101" y="127" width="106.6" height="37" fill="#080808"/>
<clipPath id="th1_127"><rect x="101" y="127" width="106.6" height="37"/></clipPath>
<g clip-path="url(#th1_127)">
<ellipse cx="154.3" cy="129.6" rx="43.3" ry="2.1" transform="rotate(1.98 154.3 129.6)" fill="#fff"/>
<ellipse cx="154.3" cy="138.6" rx="43.3" ry="1.9" transform="rotate(1.98 154.3 138.6)" fill="#fff"/>
<ellipse cx="154.3" cy="147.6" rx="43.3" ry="2.1" transform="rotate(1.98 154.3 147.6)" fill="#fff"/>
<ellipse cx="154.3" cy="156.5" rx="43.3" ry="1.9" transform="rotate(1.98 154.3 156.5)" fill="#fff"/>
<ellipse cx="154.3" cy="165.5" rx="43.3" ry="2.1" transform="rotate(1.98 154.3 165.5)" fill="#fff"/>
</g>
<rect x="101" y="164" width="106.6" height="17" fill="#fff"/>
<clipPath id="th1_164"><rect x="101" y="164" width="106.6" height="17"/></clipPath>
<g clip-path="url(#th1_164)" fill="none" stroke-linejoin="round">
<path d="M205.4 156 L205.4 156.5 L203.7 157 L200.5 157.5 L195.9 158 L190.1 158.5 L183.1 159 L175.3 159.5 L166.8 160 L157.9 160.5 L148.9 161 L140.1 161.5 L131.7 162 L124 162.5 L117.3 163 L111.6 163.5 L107.3 164 L104.5 164.5 L103.1 165 L103.3 165.5 L105.1 166 L108.4 166.5 L113.1 167 L119.1 167.5 L126.1 168 L134 168.5 L142.5 169 L151.4 169.5 L160.4 170 L169.2 170.5 L177.5 171 L185.1 171.5 L191.8 172 L197.3 172.5 L201.6 173 L204.3 173.5 L205.5 174 L205.2 174.5 L203.3 175 L199.9 175.5 L195.1 176 L189 176.5 L181.9 177 L173.9 177.5 L165.4 178 L156.5 178.5 L147.5 179 L138.7 179.5 L130.4 180 L122.9 180.5 L116.3 181 L110.9 181.5 L106.8 182 L104.1 182.5 L103 183 L103.5 183.5 L105.5 184 L109.1 184.5 L114 185 L120.1 185.5 L127.3 186 L135.3 186.5 L143.9 187 L152.9 187.5 L161.8 188 L170.6 188.5 L178.8 189" stroke="#111" stroke-width="3.8"/>
<path d="M119.5 156 L115.8 156.5 L113.3 157 L112.1 157.5 L112.2 158 L113.6 158.5 L116.2 159 L120 159.5 L124.8 160 L130.6 160.5 L137 161 L144 161.5 L151.3 162 L158.7 162.5 L166 163 L172.9 163.5 L179.3 164 L184.8 164.5 L189.5 165 L193 165.5 L195.4 166 L196.5 166.5 L196.3 167 L194.9 167.5 L192.1 168 L188.3 168.5 L183.4 169 L177.6 169.5 L171 170 L164 170.5 L156.7 171 L149.3 171.5 L142 172 L135.1 172.5 L128.9 173 L123.4 173.5 L118.8 174 L115.3 174.5 L113.1 175 L112.1 175.5 L112.3 176 L113.9 176.5 L116.7 177 L120.7 177.5 L125.7 178 L131.5 178.5 L138.1 179 L145.2 179.5 L152.5 180 L159.9 180.5 L167.1 181 L174 181.5 L180.2 182 L185.6 182.5 L190.1 183 L193.5 183.5 L195.7 184 L196.6 184.5 L196.2 185 L194.5 185.5 L191.6 186 L187.6 186.5 L182.5 187 L176.6 187.5 L169.9 188 L162.8 188.5 L155.5 189" stroke="#1a1a1a" stroke-width="3.2"/>
<path d="M136.3 156 L144.2 156.5 L152.4 157 L160.6 157.5 L168.7 158 L176.4 158.5 L183.3 159 L189.4 159.5 L194.4 160 L198.2 160.5 L200.6 161 L201.6 161.5 L201.1 162 L199.2 162.5 L196 163 L191.4 163.5 L185.8 164 L179.1 164.5 L171.7 165 L163.8 165.5 L155.6 166 L147.3 166.5 L139.2 167 L131.7 167.5 L124.8 168 L118.8 168.5 L113.9 169 L110.2 169.5 L107.9 170 L107 170.5 L107.6 171 L109.6 171.5 L112.9 172 L117.6 172.5 L123.3 173 L130 173.5 L137.5 174 L145.5 174.5 L153.7 175 L162 175.5 L170 176 L177.5 176.5 L184.4 177 L190.3 177.5 L195.1 178 L198.6 178.5 L200.8 179 L201.6 179.5 L200.9 180 L198.8 180.5 L195.3 181 L190.6 181.5 L184.8 182 L178 182.5 L170.5 183 L162.5 183.5 L154.2 184 L146 184.5 L138 185 L130.5 185.5 L123.7 186 L117.9 186.5 L113.2 187 L109.7 187.5 L107.7 188 L107 188.5 L107.8 189" stroke="#333" stroke-width="1.6"/>
</g>
<rect x="101" y="181" width="106.6" height="176" fill="#080808"/>
<clipPath id="th1_181"><rect x="101" y="181" width="106.6" height="176"/></clipPath>
<g clip-path="url(#th1_181)">
<ellipse cx="154.3" cy="183.4" rx="43.3" ry="2.1" transform="rotate(1.98 154.3 183.4)" fill="#fff"/>
<ellipse cx="154.3" cy="192.4" rx="43.3" ry="1.9" transform="rotate(1.98 154.3 192.4)" fill="#fff"/>
<ellipse cx="154.3" cy="201.3" rx="43.3" ry="2.1" transform="rotate(1.98 154.3 201.3)" fill="#fff"/>
<ellipse cx="154.3" cy="210.3" rx="43.3" ry="1.9" transform="rotate(1.98 154.3 210.3)" fill="#fff"/>
<ellipse cx="154.3" cy="219.2" rx="43.3" ry="2.1" transform="rotate(1.98 154.3 219.2)" fill="#fff"/>
<ellipse cx="154.3" cy="228.2" rx="43.3" ry="1.9" transform="rotate(1.98 154.3 228.2)" fill="#fff"/>
<ellipse cx="154.3" cy="237.2" rx="43.3" ry="2.1" transform="rotate(1.98 154.3 237.2)" fill="#fff"/>
<ellipse cx="154.3" cy="246.1" rx="43.3" ry="1.9" transform="rotate(1.98 154.3 246.1)" fill="#fff"/>
<ellipse cx="154.3" cy="255.1" rx="43.3" ry="2.1" transform="rotate(1.98 154.3 255.1)" fill="#fff"/>
<ellipse cx="154.3" cy="264" rx="43.3" ry="1.9" transform="rotate(1.98 154.3 264)" fill="#fff"/>
<ellipse cx="154.3" cy="273" rx="43.3" ry="2.1" transform="rotate(1.98 154.3 273)" fill="#fff"/>
<ellipse cx="154.3" cy="282" rx="43.3" ry="1.9" transform="rotate(1.98 154.3 282)" fill="#fff"/>
<ellipse cx="154.3" cy="290.9" rx="43.3" ry="2.1" transform="rotate(1.98 154.3 290.9)" fill="#fff"/>
<ellipse cx="154.3" cy="299.9" rx="43.3" ry="1.9" transform="rotate(1.98 154.3 299.9)" fill="#fff"/>
<ellipse cx="154.3" cy="308.8" rx="43.3" ry="2.1" transform="rotate(1.98 154.3 308.8)" fill="#fff"/>
<ellipse cx="154.3" cy="317.8" rx="43.3" ry="1.9" transform="rotate(1.98 154.3 317.8)" fill="#fff"/>
<ellipse cx="154.3" cy="326.8" rx="43.3" ry="2.1" transform="rotate(1.98 154.3 326.8)" fill="#fff"/>
<ellipse cx="154.3" cy="335.7" rx="43.3" ry="1.9" transform="rotate(1.98 154.3 335.7)" fill="#fff"/>
<ellipse cx="154.3" cy="344.7" rx="43.3" ry="2.1" transform="rotate(1.98 154.3 344.7)" fill="#fff"/>
<ellipse cx="154.3" cy="353.6" rx="43.3" ry="1.9" transform="rotate(1.98 154.3 353.6)" fill="#fff"/>
</g>
<rect x="101" y="357" width="106.6" height="202.5" fill="#fff"/>
<clipPath id="th1_357"><rect x="101" y="357" width="106.6" height="202.5"/></clipPath>
<g clip-path="url(#th1_357)" fill="none" stroke-linejoin="round">
<path d="M156.8 349 L165.7 349.5 L174.3 350 L182.2 350.5 L189.3 351 L195.3 351.5 L200 352 L203.4 352.5 L205.2 353 L205.5 353.5 L204.2 354 L201.4 354.5 L197.2 355 L191.6 355.5 L184.9 356 L177.2 356.5 L168.8 357 L160 357.5 L151.1 358 L142.2 358.5 L133.7 359 L125.8 359.5 L118.8 360 L112.9 360.5 L108.2 361 L105 361.5 L103.3 362 L103.1 362.5 L104.5 363 L107.5 363.5 L111.8 364 L117.5 364.5 L124.3 365 L132 365.5 L140.4 366 L149.3 366.5 L158.3 367 L167.1 367.5 L175.6 368 L183.4 368.5 L190.3 369 L196.1 369.5 L200.7 370 L203.8 370.5 L205.4 371 L205.4 371.5 L203.9 372 L200.8 372.5 L196.3 373 L190.6 373.5 L183.7 374 L175.9 374.5 L167.5 375 L158.6 375.5 L149.6 376 L140.8 376.5 L132.4 377 L124.6 377.5 L117.8 378 L112 378.5 L107.6 379 L104.6 379.5 L103.2 380 L103.2 380.5 L104.9 381 L108.1 381.5 L112.7 382 L118.5 382.5 L125.5 383 L133.3 383.5 L141.8 384 L150.7 384.5 L159.7 385 L168.5 385.5 L176.9 386 L184.6 386.5 L191.3 387 L197 387.5 L201.3 388 L204.1 388.5 L205.5 389 L205.3 389.5 L203.5 390 L200.2 390.5 L195.5 391 L189.5 391.5 L182.5 392 L174.6 392.5 L166.1 393 L157.2 393.5 L148.2 394 L139.4 394.5 L131.1 395 L123.5 395.5 L116.8 396 L111.3 396.5 L107 397 L104.3 397.5 L103.1 398 L103.4 398.5 L105.3 399 L108.7 399.5 L113.5 400 L119.6 400.5 L126.7 401 L134.7 401.5 L143.2 402 L152.1 402.5 L161.1 403 L169.9 403.5 L178.2 404 L185.7 404.5 L192.3 405 L197.7 405.5 L201.8 406 L204.5 406.5 L205.6 407 L205.1 407.5 L203.1 408 L199.5 408.5 L194.6 409 L188.5 409.5 L181.3 410 L173.3 410.5 L164.7 411 L155.7 411.5 L146.8 412 L138 412.5 L129.8 413 L122.3 413.5 L115.8 414 L110.5 414.5 L106.5 415 L104 415.5 L103 416 L103.6 416.5 L105.8 417 L109.4 417.5 L114.4 418 L120.7 418.5 L127.9 419 L136 419.5 L144.6 420 L153.6 420.5 L162.5 421 L171.2 421.5 L179.4 422 L186.8 422.5 L193.3 423 L198.5 423.5 L202.4 424 L204.7 424.5 L205.6 425 L204.9 425.5 L202.6 426 L198.8 426.5 L193.7 427 L187.4 427.5 L180.1 428 L171.9 428.5 L163.2 429 L154.3 429.5 L145.4 430 L136.7 430.5 L128.5 431 L121.2 431.5 L114.9 432 L109.8 432.5 L106 433 L103.7 433.5 L103 434 L103.9 434.5 L106.2 435 L110.1 435.5 L115.3 436 L121.8 436.5 L129.2 437 L137.4 437.5 L146.1 438 L155 438.5 L164 439 L172.6 439.5 L180.7 440 L187.9 440.5 L194.2 441 L199.2 441.5 L202.8 442 L205 442.5 L205.6 443 L204.6 443.5 L202.1 444 L198.1 444.5 L192.8 445 L186.3 445.5 L178.8 446 L170.6 446.5 L161.8 447 L152.9 447.5 L143.9 448 L135.3 448.5 L127.3 449 L120.1 449.5 L114 450 L109.1 450.5 L105.5 451 L103.5 451.5 L103 452 L104.1 452.5 L106.8 453 L110.9 453.5 L116.3 454 L122.9 454.5 L130.4 455 L138.7 455.5 L147.5 456 L156.5 456.5 L165.4 457 L173.9 457.5 L181.9 458 L189 458.5 L195.1 459 L199.9 459.5 L203.3 460 L205.2 460.5 L205.5 461 L204.3 461.5 L201.6 462 L197.3 462.5 L191.8 463 L185.1 463.5 L177.5 464 L169.2 464.5 L160.4 465 L151.4 465.5 L142.5 466 L134 466.5 L126.1 467 L119.1 467.5 L113.1 468 L108.4 468.5 L105.1 469 L103.3 469.5 L103.1 470 L104.5 470.5 L107.3 471 L111.6 471.5 L117.3 472 L124 472.5 L131.7 473 L140.1 473.5 L148.9 474 L157.9 474.5 L166.8 475 L175.3 475.5 L183.1 476 L190.1 476.5 L195.9 477 L200.5 477.5 L203.7 478 L205.4 478.5 L205.4 479 L204 479.5 L201 480 L196.6 480.5 L190.8 481 L184 481.5 L176.2 482 L167.8 482.5 L159 483 L150 483.5 L141.1 484 L132.7 484.5 L124.9 485 L118 485.5 L112.3 486 L107.8 486.5 L104.7 487 L103.2 487.5 L103.2 488 L104.8 488.5 L107.9 489 L112.5 489.5 L118.3 490 L125.2 490.5 L133 491 L141.5 491.5 L150.3 492 L159.3 492.5 L168.2 493 L176.6 493.5 L184.3 494 L191.1 494.5 L196.8 495 L201.1 495.5 L204.1 496 L205.5 496.5 L205.3 497 L203.6 497.5 L200.4 498 L195.7 498.5 L189.8 499 L182.8 499.5 L174.9 500 L166.4 500.5 L157.5 501 L148.6 501.5 L139.8 502 L131.4 502.5 L123.7 503 L117 503.5 L111.4 504 L107.2 504.5 L104.4 505 L103.1 505.5 L103.4 506 L105.2 506.5 L108.6 507 L113.3 507.5 L119.3 508 L126.4 508.5 L134.3 509 L142.9 509.5 L151.8 510 L160.8 510.5 L169.5 511 L177.8 511.5 L185.4 512 L192.1 512.5 L197.5 513 L201.7 513.5 L204.4 514 L205.6 514.5 L205.1 515 L203.2 515.5 L199.7 516 L194.9 516.5 L188.8 517 L181.6 517.5 L173.6 518 L165 518.5 L156.1 519 L147.1 519.5 L138.4 520 L130.1 520.5 L122.6 521 L116 521.5 L110.7 522 L106.6 522.5 L104.1 523 L103 523.5 L103.6 524 L105.6 524.5 L109.2 525 L114.2 525.5 L120.4 526 L127.6 526.5 L135.7 527 L144.3 527.5 L153.2 528 L162.2 528.5 L170.9 529 L179.1 529.5 L186.6 530 L193 530.5 L198.3 531 L202.2 531.5 L204.7 532 L205.6 532.5 L204.9 533 L202.7 533.5 L199 534 L194 534.5 L187.7 535 L180.4 535.5 L172.3 536 L163.6 536.5 L154.7 537 L145.7 537.5 L137 538 L128.9 538.5 L121.5 539 L115.1 539.5 L109.9 540 L106.1 540.5 L103.8 541 L103 541.5 L103.8 542 L106.1 542.5 L109.9 543 L115.1 543.5 L121.5 544 L128.9 544.5 L137 545 L145.7 545.5 L154.7 546 L163.6 546.5 L172.3 547 L180.4 547.5 L187.7 548 L194 548.5 L199 549 L202.7 549.5 L204.9 550 L205.6 550.5 L204.7 551 L202.2 551.5 L198.3 552 L193 552.5 L186.6 553 L179.1 553.5 L170.9 554 L162.2 554.5 L153.2 555 L144.3 555.5 L135.7 556 L127.6 556.5 L120.4 557 L114.2 557.5 L109.2 558 L105.6 558.5 L103.6 559 L103 559.5 L104.1 560 L106.6 560.5 L110.7 561 L116 561.5 L122.6 562 L130.1 562.5 L138.4 563 L147.1 563.5 L156.1 564 L165 564.5 L173.6 565 L181.6 565.5 L188.8 566 L194.9 566.5 L199.7 567 L203.2 567.5" stroke="#1e1e1e" stroke-width="2.7"/>
<path d="M173.7 349 L166.9 349.5 L159.6 350 L152.2 350.5 L144.9 351 L137.8 351.5 L131.3 352 L125.5 352.5 L120.5 353 L116.6 353.5 L113.8 354 L112.3 354.5 L112.1 355 L113.1 355.5 L115.5 356 L119 356.5 L123.6 357 L129.1 357.5 L135.4 358 L142.3 358.5 L149.6 359 L157 359.5 L164.3 360 L171.3 360.5 L177.8 361 L183.6 361.5 L188.5 362 L192.3 362.5 L194.9 363 L196.4 363.5 L196.5 364 L195.3 364.5 L192.9 365 L189.3 365.5 L184.6 366 L179 366.5 L172.7 367 L165.7 367.5 L158.4 368 L151 368.5 L143.7 369 L136.8 369.5 L130.3 370 L124.6 370.5 L119.8 371 L116.1 371.5 L113.5 372 L112.2 372.5 L112.1 373 L113.4 373.5 L115.9 374 L119.6 374.5 L124.4 375 L130.1 375.5 L136.5 376 L143.4 376.5 L150.7 377 L158.2 377.5 L165.4 378 L172.4 378.5 L178.8 379 L184.4 379.5 L189.1 380 L192.8 380.5 L195.3 381 L196.5 381.5 L196.4 382 L195 382.5 L192.4 383 L188.6 383.5 L183.8 384 L178 384.5 L171.6 385 L164.6 385.5 L157.3 386 L149.9 386.5 L142.6 387 L135.7 387.5 L129.3 388 L123.8 388.5 L119.1 389 L115.6 389.5 L113.2 390 L112.1 390.5 L112.3 391 L113.7 391.5 L116.5 392 L120.3 392.5 L125.2 393 L131 393.5 L137.6 394 L144.6 394.5 L151.9 395 L159.3 395.5 L166.6 396 L173.5 396.5 L179.7 397 L185.2 397.5 L189.8 398 L193.3 398.5 L195.5 399 L196.5 399.5 L196.3 400 L194.7 400.5 L191.9 401 L187.9 401.5 L182.9 402 L177.1 402.5 L170.5 403 L163.4 403.5 L156.1 404 L148.7 404.5 L141.5 405 L134.6 405.5 L128.4 406 L123 406.5 L118.5 407 L115.1 407.5 L112.9 408 L112 408.5 L112.4 409 L114.1 409.5 L117 410 L121 410.5 L126.1 411 L132 411.5 L138.7 412 L145.8 412.5 L153.1 413 L160.5 413.5 L167.7 414 L174.5 414.5 L180.7 415 L186 415.5 L190.4 416 L193.7 416.5 L195.8 417 L196.6 417.5 L196.1 418 L194.3 418.5 L191.3 419 L187.2 419.5 L182 420 L176 420.5 L169.4 421 L162.3 421.5 L154.9 422 L147.5 422.5 L140.3 423 L133.6 423.5 L127.5 424 L122.2 424.5 L117.9 425 L114.7 425.5 L112.7 426 L112 426.5 L112.6 427 L114.5 427.5 L117.6 428 L121.8 428.5 L127 429 L133.1 429.5 L139.8 430 L146.9 430.5 L154.3 431 L161.7 431.5 L168.8 432 L175.5 432.5 L181.6 433 L186.8 433.5 L191 434 L194.1 434.5 L196 435 L196.6 435.5 L195.9 436 L193.9 436.5 L190.7 437 L186.4 437.5 L181.1 438 L175 438.5 L168.3 439 L161.1 439.5 L153.7 440 L146.3 440.5 L139.2 441 L132.6 441.5 L126.6 442 L121.4 442.5 L117.3 443 L114.3 443.5 L112.5 444 L112 444.5 L112.8 445 L114.9 445.5 L118.2 446 L122.6 446.5 L127.9 447 L134.1 447.5 L140.9 448 L148.1 448.5 L155.5 449 L162.8 449.5 L169.9 450 L176.6 450.5 L182.5 451 L187.6 451.5 L191.6 452 L194.5 452.5 L196.2 453 L196.6 453.5 L195.7 454 L193.5 454.5 L190.1 455 L185.6 455.5 L180.2 456 L174 456.5 L167.1 457 L159.9 457.5 L152.5 458 L145.2 458.5 L138.1 459 L131.5 459.5 L125.7 460 L120.7 460.5 L116.7 461 L113.9 461.5 L112.3 462 L112.1 462.5 L113.1 463 L115.3 463.5 L118.8 464 L123.4 464.5 L128.9 465 L135.1 465.5 L142 466 L149.3 466.5 L156.7 467 L164 467.5 L171 468 L177.6 468.5 L183.4 469 L188.3 469.5 L192.1 470 L194.9 470.5 L196.3 471 L196.5 471.5 L195.4 472 L193 472.5 L189.5 473 L184.8 473.5 L179.3 474 L172.9 474.5 L166 475 L158.7 475.5 L151.3 476 L144 476.5 L137 477 L130.6 477.5 L124.8 478 L120 478.5 L116.2 479 L113.6 479.5 L112.2 480 L112.1 480.5 L113.3 481 L115.8 481.5 L119.5 482 L124.2 482.5 L129.8 483 L136.2 483.5 L143.2 484 L150.4 484.5 L157.9 485 L165.2 485.5 L172.1 486 L178.5 486.5 L184.2 487 L189 487.5 L192.7 488 L195.2 488.5 L196.5 489 L196.4 489.5 L195.1 490 L192.5 490.5 L188.8 491 L184 491.5 L178.3 492 L171.8 492.5 L164.9 493 L157.6 493.5 L150.2 494 L142.9 494.5 L135.9 495 L129.6 495.5 L124 496 L119.3 496.5 L115.7 497 L113.3 497.5 L112.1 498 L112.2 498.5 L113.7 499 L116.3 499.5 L120.1 500 L125 500.5 L130.8 501 L137.3 501.5 L144.3 502 L151.6 502.5 L159 503 L166.3 503.5 L173.2 504 L179.5 504.5 L185 505 L189.6 505.5 L193.1 506 L195.5 506.5 L196.5 507 L196.3 507.5 L194.8 508 L192 508.5 L188.1 509 L183.1 509.5 L177.3 510 L170.8 510.5 L163.7 511 L156.4 511.5 L149 512 L141.7 512.5 L134.9 513 L128.6 513.5 L123.2 514 L118.6 514.5 L115.2 515 L113 515.5 L112 516 L112.4 516.5 L114 517 L116.9 517.5 L120.9 518 L125.9 518.5 L131.8 519 L138.4 519.5 L145.5 520 L152.8 520.5 L160.2 521 L167.4 521.5 L174.2 522 L180.4 522.5 L185.8 523 L190.3 523.5 L193.6 524 L195.7 524.5 L196.6 525 L196.1 525.5 L194.4 526 L191.5 526.5 L187.4 527 L182.3 527.5 L176.3 528 L169.7 528.5 L162.6 529 L155.2 529.5 L147.8 530 L140.6 530.5 L133.8 531 L127.7 531.5 L122.4 532 L118 532.5 L114.8 533 L112.8 533.5 L112 534 L112.5 534.5 L114.4 535 L117.4 535.5 L121.6 536 L126.8 536.5 L132.8 537 L139.5 537.5 L146.6 538 L154 538.5 L161.4 539 L168.6 539.5 L175.3 540 L181.4 540.5 L186.6 541 L190.9 541.5 L194 542 L196 542.5 L196.6 543 L196 543.5 L194 544 L190.9 544.5 L186.6 545 L181.4 545.5 L175.3 546 L168.6 546.5 L161.4 547 L154 547.5 L146.6 548 L139.5 548.5 L132.8 549 L126.8 549.5 L121.6 550 L117.4 550.5 L114.4 551 L112.5 551.5 L112 552 L112.8 552.5 L114.8 553 L118 553.5 L122.4 554 L127.7 554.5 L133.8 555 L140.6 555.5 L147.8 556 L155.2 556.5 L162.6 557 L169.7 557.5 L176.3 558 L182.3 558.5 L187.4 559 L191.5 559.5 L194.4 560 L196.1 560.5 L196.6 561 L195.7 561.5 L193.6 562 L190.3 562.5 L185.8 563 L180.4 563.5 L174.2 564 L167.4 564.5 L160.2 565 L152.8 565.5 L145.5 566 L138.4 566.5 L131.8 567 L125.9 567.5" stroke="#2c2c2c" stroke-width="2.2"/>
<path d="M108.7 349 L107.2 349.5 L107.2 350 L108.6 350.5 L111.4 351 L115.6 351.5 L120.9 352 L127.3 352.5 L134.4 353 L142.2 353.5 L150.4 354 L158.7 354.5 L166.8 355 L174.6 355.5 L181.7 356 L188 356.5 L193.3 357 L197.4 357.5 L200.1 358 L201.5 358.5 L201.4 359 L199.8 359.5 L196.9 360 L192.6 360.5 L187.2 361 L180.8 361.5 L173.6 362 L165.7 362.5 L157.5 363 L149.3 363.5 L141.1 364 L133.4 364.5 L126.3 365 L120.1 365.5 L114.9 366 L111 366.5 L108.3 367 L107.1 367.5 L107.3 368 L109 368.5 L112 369 L116.3 369.5 L121.9 370 L128.4 370.5 L135.6 371 L143.5 371.5 L151.7 372 L160 372.5 L168.1 373 L175.8 373.5 L182.8 374 L188.9 374.5 L194 375 L197.9 375.5 L200.4 376 L201.5 376.5 L201.2 377 L199.4 377.5 L196.3 378 L191.9 378.5 L186.3 379 L179.7 379.5 L172.3 380 L164.4 380.5 L156.2 381 L148 381.5 L139.9 382 L132.2 382.5 L125.3 383 L119.2 383.5 L114.2 384 L110.4 384.5 L108 385 L107 385.5 L107.5 386 L109.4 386.5 L112.6 387 L117.2 387.5 L122.8 388 L129.5 388.5 L136.9 389 L144.8 389.5 L153 390 L161.3 390.5 L169.4 391 L176.9 391.5 L183.8 392 L189.8 392.5 L194.7 393 L198.4 393.5 L200.7 394 L201.6 394.5 L201 395 L199 395.5 L195.7 396 L191 396.5 L185.3 397 L178.6 397.5 L171.1 398 L163.1 398.5 L154.9 399 L146.6 399.5 L138.6 400 L131.1 400.5 L124.2 401 L118.3 401.5 L113.5 402 L110 402.5 L107.8 403 L107 403.5 L107.7 404 L109.8 404.5 L113.3 405 L118 405.5 L123.8 406 L130.6 406.5 L138.1 407 L146.1 407.5 L154.4 408 L162.6 408.5 L170.6 409 L178.1 409.5 L184.9 410 L190.7 410.5 L195.4 411 L198.9 411.5 L200.9 412 L201.6 412.5 L200.8 413 L198.6 413.5 L195 414 L190.2 414.5 L184.3 415 L177.4 415.5 L169.9 416 L161.8 416.5 L153.6 417 L145.3 417.5 L137.4 418 L129.9 418.5 L123.2 419 L117.5 419.5 L112.9 420 L109.5 420.5 L107.6 421 L107 421.5 L107.9 422 L110.3 422.5 L113.9 423 L118.9 423.5 L124.9 424 L131.8 424.5 L139.4 425 L147.4 425.5 L155.7 426 L163.9 426.5 L171.8 427 L179.2 427.5 L185.9 428 L191.5 428.5 L196 429 L199.3 429.5 L201.1 430 L201.6 430.5 L200.5 431 L198.1 431.5 L194.3 432 L189.3 432.5 L183.2 433 L176.2 433.5 L168.6 434 L160.5 434.5 L152.2 435 L144 435.5 L136.1 436 L128.8 436.5 L122.2 437 L116.7 437.5 L112.2 438 L109.1 438.5 L107.4 439 L107.1 439.5 L108.2 440 L110.8 440.5 L114.6 441 L119.7 441.5 L125.9 442 L132.9 442.5 L140.6 443 L148.7 443.5 L157 444 L165.2 444.5 L173.1 445 L180.4 445.5 L186.8 446 L192.3 446.5 L196.7 447 L199.7 447.5 L201.3 448 L201.5 448.5 L200.2 449 L197.6 449.5 L193.6 450 L188.4 450.5 L182.2 451 L175.1 451.5 L167.3 452 L159.2 452.5 L150.9 453 L142.7 453.5 L134.9 454 L127.7 454.5 L121.3 455 L115.9 455.5 L111.7 456 L108.7 456.5 L107.2 457 L107.1 457.5 L108.5 458 L111.3 458.5 L115.4 459 L120.7 459.5 L127 460 L134.1 460.5 L141.9 461 L150.1 461.5 L158.3 462 L166.5 462.5 L174.3 463 L181.5 463.5 L187.8 464 L193.1 464.5 L197.2 465 L200 465.5 L201.4 466 L201.4 466.5 L199.9 467 L197 467.5 L192.8 468 L187.5 468.5 L181.1 469 L173.9 469.5 L166.1 470 L157.9 470.5 L149.6 471 L141.5 471.5 L133.7 472 L126.6 472.5 L120.3 473 L115.1 473.5 L111.1 474 L108.4 474.5 L107.1 475 L107.3 475.5 L108.9 476 L111.9 476.5 L116.2 477 L121.6 477.5 L128.1 478 L135.3 478.5 L143.2 479 L151.4 479.5 L159.7 480 L167.8 480.5 L175.5 481 L182.5 481.5 L188.7 482 L193.8 482.5 L197.8 483 L200.4 483.5 L201.5 484 L201.3 484.5 L199.5 485 L196.4 485.5 L192.1 486 L186.5 486.5 L180 487 L172.6 487.5 L164.8 488 L156.6 488.5 L148.3 489 L140.2 489.5 L132.5 490 L125.5 490.5 L119.4 491 L114.4 491.5 L110.6 492 L108.1 492.5 L107 493 L107.4 493.5 L109.3 494 L112.5 494.5 L117 495 L122.6 495.5 L129.2 496 L136.6 496.5 L144.5 497 L152.7 497.5 L161 498 L169 498.5 L176.7 499 L183.6 499.5 L189.6 500 L194.6 500.5 L198.3 501 L200.6 501.5 L201.6 502 L201.1 502.5 L199.1 503 L195.8 503.5 L191.2 504 L185.5 504.5 L178.8 505 L171.4 505.5 L163.5 506 L155.2 506.5 L147 507 L138.9 507.5 L131.4 508 L124.5 508.5 L118.5 509 L113.7 509.5 L110.1 510 L107.8 510.5 L107 511 L107.6 511.5 L109.7 512 L113.1 512.5 L117.8 513 L123.6 513.5 L130.3 514 L137.8 514.5 L145.8 515 L154 515.5 L162.3 516 L170.3 516.5 L177.8 517 L184.6 517.5 L190.5 518 L195.2 518.5 L198.7 519 L200.9 519.5 L201.6 520 L200.9 520.5 L198.7 521 L195.2 521.5 L190.4 522 L184.5 522.5 L177.7 523 L170.2 523.5 L162.2 524 L153.9 524.5 L145.7 525 L137.7 525.5 L130.2 526 L123.5 526.5 L117.7 527 L113 527.5 L109.6 528 L107.6 528.5 L107 529 L107.9 529.5 L110.1 530 L113.8 530.5 L118.6 531 L124.6 531.5 L131.5 532 L139.1 532.5 L147.1 533 L155.4 533.5 L163.6 534 L171.5 534.5 L179 535 L185.6 535.5 L191.3 536 L195.9 536.5 L199.2 537 L201.1 537.5 L201.6 538 L200.6 538.5 L198.2 539 L194.5 539.5 L189.5 540 L183.5 540.5 L176.5 541 L168.9 541.5 L160.8 542 L152.6 542.5 L144.4 543 L136.4 543.5 L129.1 544 L122.5 544.5 L116.9 545 L112.4 545.5 L109.2 546 L107.4 546.5 L107 547 L108.1 547.5 L110.6 548 L114.5 548.5 L119.5 549 L125.6 549.5 L132.6 550 L140.3 550.5 L148.4 551 L156.7 551.5 L164.9 552 L172.8 552.5 L180.1 553 L186.6 553.5 L192.1 554 L196.5 554.5 L199.6 555 L201.3 555.5 L201.5 556 L200.3 556.5 L197.7 557 L193.8 557.5 L188.6 558 L182.4 558.5 L175.4 559 L167.6 559.5 L159.5 560 L151.3 560.5 L143.1 561 L135.2 561.5 L128 562 L121.5 562.5 L116.1 563 L111.8 563.5 L108.8 564 L107.3 564.5 L107.1 565 L108.4 565.5 L111.2 566 L115.2 566.5 L120.4 567 L126.7 567.5" stroke="#4a4a4a" stroke-width="1.1"/>
</g>
<path d="M104 60.5 L104.5 61.1 L105 61.7 L105.7 62.3 L106.4 62.9 L107.2 63.5 L108.2 64.1 L109.2 64.7 L110.3 65.3 L111.5 65.9 L112.7 66.5 L112 67.1 L110.7 67.7 L109.6 68.3 L108.6 68.9 L107.6 69.5 L106.7 70.1 L106 70.7 L105.3 71.3 L104.7 71.9 L104.2 72.5 L103.8 73.1 L103.4 73.7 L103.2 74.3 L103.1 74.9 L103 75.5 L103 76.1 L103.2 76.7 L103.4 77.3 L103.7 77.9 L104.1 78.5 L104.5 79.1 L105.1 79.7 L105.8 80.3 L106.5 80.9 L107.4 81.5 L108.3 82.1 L109.3 82.7 L110.4 83.3 L111.6 83.9 L112.9 84.5 L111.8 85.1 L110.6 85.7 L109.5 86.3 L108.4 86.9 L107.5 87.5 L106.6 88.1 L105.9 88.7 L105.2 89.3 L104.6 89.9 L104.1 90.5 L103.7 91.1 L103.4 91.7 L103.2 92.3 L103 92.9 L103 93.5 L103 94.1 L103.2 94.7 L103.4 95.3 L103.7 95.9 L104.1 96.5 L104.6 97.1 L105.2 97.7 L105.9 98.3 L106.6 98.9 L107.5 99.5 L108.4 100.1 L109.5 100.7 L110.6 101.3 L111.8 101.9 L112.9 102.5 L111.6 103.1 L110.4 103.7 L109.3 104.3 L108.3 104.9 L107.4 105.5 L106.5 106.1 L105.8 106.7 L105.1 107.3 L104.5 107.9 L104.1 108.5 L103.7 109.1 L103.4 109.7 L103.2 110.3 L103 110.9 L103 111.5 L103.1 112.1 L103.2 112.7 L103.4 113.3 L103.8 113.9 L104.2 114.5 L104.7 115.1 L105.3 115.7 L106 116.3 L106.7 116.9 L107.6 117.5 L108.6 118.1 L109.6 118.7 L110.7 119.3 L112 119.9 L112.7 120.5 L111.5 121.1 L110.3 121.7 L109.2 122.3 L108.2 122.9 L107.2 123.5 L106.4 124.1 L105.7 124.7 L105 125.3 L104.5 125.9 L104 126.5 L103.6 127.1 L103.3 127.7 L103.1 128.3 L103 128.9 L103 129.5 L103.1 130.1 L103.2 130.7 L103.5 131.3 L103.8 131.9 L104.2 132.5 L104.8 133.1 L105.4 133.7 L106.1 134.3 L106.9 134.9 L107.7 135.5 L108.7 136.1 L109.7 136.7 L110.9 137.3 L112.1 137.9 L112.6 138.5 L111.3 139.1 L110.1 139.7 L109 140.3 L108 140.9 L107.1 141.5 L106.3 142.1 L105.6 142.7 L105 143.3 L104.4 143.9 L103.9 144.5 L103.6 145.1 L103.3 145.7 L103.1 146.3 L103 146.9 L103 147.5 L103.1 148.1 L103.3 148.7 L103.5 149.3 L103.9 149.9 L104.3 150.5 L104.8 151.1 L105.5 151.7 L106.2 152.3 L107 152.9 L107.9 153.5 L108.8 154.1 L109.9 154.7 L111.1 155.3 L112.3 155.9 L112.4 156.5 L111.1 157.1 L110 157.7 L108.9 158.3 L107.9 158.9 L107 159.5 L106.2 160.1 L105.5 160.7 L104.9 161.3 L104.3 161.9 L103.9 162.5 L103.5 163.1 L103.3 163.7 L103.1 164.3 L103 164.9 L103 165.5 L103.1 166.1 L103.3 166.7 L103.6 167.3 L103.9 167.9 L104.4 168.5 L104.9 169.1 L105.5 169.7 L106.3 170.3 L107.1 170.9 L108 171.5 L109 172.1 L110 172.7 L111.2 173.3 L112.5 173.9 L112.2 174.5 L111 175.1 L109.8 175.7 L108.8 176.3 L107.8 176.9 L106.9 177.5 L106.1 178.1 L105.4 178.7 L104.8 179.3 L104.3 179.9 L103.8 180.5 L103.5 181.1 L103.2 181.7 L103.1 182.3 L103 182.9 L103 183.5 L103.1 184.1 L103.3 184.7 L103.6 185.3 L104 185.9 L104.4 186.5 L105 187.1 L105.6 187.7 L106.4 188.3 L107.2 188.9 L108.1 189.5 L109.1 190.1 L110.2 190.7 L111.4 191.3 L112.6 191.9 L112 192.5 L110.8 193.1 L109.7 193.7 L108.6 194.3 L107.7 194.9 L106.8 195.5 L106 196.1 L105.3 196.7 L104.7 197.3 L104.2 197.9 L103.8 198.5 L103.5 199.1 L103.2 199.7 L103.1 200.3 L103 200.9 L103 201.5 L103.1 202.1 L103.4 202.7 L103.6 203.3 L104 203.9 L104.5 204.5 L105.1 205.1 L105.7 205.7 L106.5 206.3 L107.3 206.9 L108.2 207.5 L109.2 208.1 L110.3 208.7 L111.5 209.3 L112.8 209.9 L111.9 210.5 L110.7 211.1 L109.5 211.7 L108.5 212.3 L107.5 212.9 L106.7 213.5 L105.9 214.1 L105.2 214.7 L104.7 215.3 L104.2 215.9 L103.7 216.5 L103.4 217.1 L103.2 217.7 L103.1 218.3 L103 218.9 L103 219.5 L103.2 220.1 L103.4 220.7 L103.7 221.3 L104.1 221.9 L104.6 222.5 L105.2 223.1 L105.8 223.7 L106.6 224.3 L107.4 224.9 L108.4 225.5 L109.4 226.1 L110.5 226.7 L111.7 227.3 L113 227.9 L111.7 228.5 L110.5 229.1 L109.4 229.7 L108.4 230.3 L107.4 230.9 L106.6 231.5 L105.8 232.1 L105.2 232.7 L104.6 233.3 L104.1 233.9 L103.7 234.5 L103.4 235.1 L103.2 235.7 L103 236.3 L103 236.9 L103.1 237.5 L103.2 238.1 L103.4 238.7 L103.7 239.3 L104.2 239.9 L104.7 240.5 L105.2 241.1 L105.9 241.7 L106.7 242.3 L107.5 242.9 L108.5 243.5 L109.5 244.1 L110.7 244.7 L111.9 245.3 L112.8 245.9 L111.5 246.5 L110.3 247.1 L109.2 247.7 L108.2 248.3 L107.3 248.9 L106.5 249.5 L105.7 250.1 L105.1 250.7 L104.5 251.3 L104 251.9 L103.6 252.5 L103.4 253.1 L103.1 253.7 L103 254.3 L103 254.9 L103.1 255.5 L103.2 256.1 L103.5 256.7 L103.8 257.3 L104.2 257.9 L104.7 258.5 L105.3 259.1 L106 259.7 L106.8 260.3 L107.7 260.9 L108.6 261.5 L109.7 262.1 L110.8 262.7 L112 263.3 L112.6 263.9 L111.4 264.5 L110.2 265.1 L109.1 265.7 L108.1 266.3 L107.2 266.9 L106.4 267.5 L105.6 268.1 L105 268.7 L104.4 269.3 L104 269.9 L103.6 270.5 L103.3 271.1 L103.1 271.7 L103 272.3 L103 272.9 L103.1 273.5 L103.2 274.1 L103.5 274.7 L103.8 275.3 L104.3 275.9 L104.8 276.5 L105.4 277.1 L106.1 277.7 L106.9 278.3 L107.8 278.9 L108.8 279.5 L109.8 280.1 L111 280.7 L112.2 281.3 L112.5 281.9 L111.2 282.5 L110 283.1 L109 283.7 L108 284.3 L107.1 284.9 L106.3 285.5 L105.5 286.1 L104.9 286.7 L104.4 287.3 L103.9 287.9 L103.6 288.5 L103.3 289.1 L103.1 289.7 L103 290.3 L103 290.9 L103.1 291.5 L103.3 292.1 L103.5 292.7 L103.9 293.3 L104.3 293.9 L104.9 294.5 L105.5 295.1 L106.2 295.7 L107 296.3 L107.9 296.9 L108.9 297.5 L110 298.1 L111.1 298.7 L112.4 299.3 L112.3 299.9 L111.1 300.5 L109.9 301.1 L108.8 301.7 L107.9 302.3 L107 302.9 L106.2 303.5 L105.5 304.1 L104.8 304.7 L104.3 305.3 L103.9 305.9 L103.5 306.5 L103.3 307.1 L103.1 307.7 L103 308.3 L103 308.9 L103.1 309.5 L103.3 310.1 L103.6 310.7 L103.9 311.3 L104.4 311.9 L105 312.5 L105.6 313.1 L106.3 313.7 L107.1 314.3 L108 314.9 L109 315.5 L110.1 316.1 L111.3 316.7 L112.6 317.3 L112.1 317.9 L110.9 318.5 L109.7 319.1 L108.7 319.7 L107.7 320.3 L106.9 320.9 L106.1 321.5 L105.4 322.1 L104.8 322.7 L104.2 323.3 L103.8 323.9 L103.5 324.5 L103.2 325.1 L103.1 325.7 L103 326.3 L103 326.9 L103.1 327.5 L103.3 328.1 L103.6 328.7 L104 329.3 L104.5 329.9 L105 330.5 L105.7 331.1 L106.4 331.7 L107.2 332.3 L108.2 332.9 L109.2 333.5 L110.3 334.1 L111.5 334.7 L112.7 335.3 L112 335.9 L110.7 336.5 L109.6 337.1 L108.6 337.7 L107.6 338.3 L106.7 338.9 L106 339.5 L105.3 340.1 L104.7 340.7 L104.2 341.3 L103.8 341.9 L103.4 342.5 L103.2 343.1 L103.1 343.7 L103 344.3 L103 344.9 L103.2 345.5 L103.4 346.1 L103.7 346.7 L104.1 347.3 L104.5 347.9 L105.1 348.5 L105.8 349.1 L106.5 349.7 L107.4 350.3 L108.3 350.9 L109.3 351.5 L110.4 352.1 L111.6 352.7 L112.9 353.3 L111.8 353.9 L110.6 354.5 L109.5 355.1 L108.4 355.7 L107.5 356.3 L106.6 356.9 L105.9 357.5 L105.2 358.1 L104.6 358.7 L104.1 359.3 L103.7 359.9 L103.4 360.5 L103.2 361.1 L103 361.7 L103 362.3 L103 362.9 L103.2 363.5 L103.4 364.1 L103.7 364.7 L104.1 365.3 L104.6 365.9 L105.2 366.5 L105.9 367.1 L106.6 367.7 L107.5 368.3 L108.4 368.9 L109.5 369.5 L110.6 370.1 L111.8 370.7 L112.9 371.3 L111.6 371.9 L110.4 372.5 L109.3 373.1 L108.3 373.7 L107.4 374.3 L106.5 374.9 L105.8 375.5 L105.1 376.1 L104.5 376.7 L104.1 377.3 L103.7 377.9 L103.4 378.5 L103.2 379.1 L103 379.7 L103 380.3 L103.1 380.9 L103.2 381.5 L103.4 382.1 L103.8 382.7 L104.2 383.3 L104.7 383.9 L105.3 384.5 L106 385.1 L106.7 385.7 L107.6 386.3 L108.6 386.9 L109.6 387.5 L110.7 388.1 L112 388.7 L112.7 389.3 L111.5 389.9 L110.3 390.5 L109.2 391.1 L108.2 391.7 L107.2 392.3 L106.4 392.9 L105.7 393.5 L105 394.1 L104.5 394.7 L104 395.3 L103.6 395.9 L103.3 396.5 L103.1 397.1 L103 397.7 L103 398.3 L103.1 398.9 L103.2 399.5 L103.5 400.1 L103.8 400.7 L104.2 401.3 L104.8 401.9 L105.4 402.5 L106.1 403.1 L106.9 403.7 L107.7 404.3 L108.7 404.9 L109.7 405.5 L110.9 406.1 L112.1 406.7 L112.6 407.3 L111.3 407.9 L110.1 408.5 L109 409.1 L108 409.7 L107.1 410.3 L106.3 410.9 L105.6 411.5 L105 412.1 L104.4 412.7 L103.9 413.3 L103.6 413.9 L103.3 414.5 L103.1 415.1 L103 415.7 L103 416.3 L103.1 416.9 L103.3 417.5 L103.5 418.1 L103.9 418.7 L104.3 419.3 L104.8 419.9 L105.5 420.5 L106.2 421.1 L107 421.7 L107.9 422.3 L108.8 422.9 L109.9 423.5 L111.1 424.1 L112.3 424.7 L112.4 425.3 L111.1 425.9 L110 426.5 L108.9 427.1 L107.9 427.7 L107 428.3 L106.2 428.9 L105.5 429.5 L104.9 430.1 L104.3 430.7 L103.9 431.3 L103.5 431.9 L103.3 432.5 L103.1 433.1 L103 433.7 L103 434.3 L103.1 434.9 L103.3 435.5 L103.6 436.1 L103.9 436.7 L104.4 437.3 L104.9 437.9 L105.5 438.5 L106.3 439.1 L107.1 439.7 L108 440.3 L109 440.9 L110 441.5 L111.2 442.1 L112.5 442.7 L112.2 443.3 L111 443.9 L109.8 444.5 L108.8 445.1 L107.8 445.7 L106.9 446.3 L106.1 446.9 L105.4 447.5 L104.8 448.1 L104.3 448.7 L103.8 449.3 L103.5 449.9 L103.2 450.5 L103.1 451.1 L103 451.7 L103 452.3 L103.1 452.9 L103.3 453.5 L103.6 454.1 L104 454.7 L104.4 455.3 L105 455.9 L105.6 456.5 L106.4 457.1 L107.2 457.7 L108.1 458.3 L109.1 458.9 L110.2 459.5 L111.4 460.1 L112.6 460.7 L112 461.3 L110.8 461.9 L109.7 462.5 L108.6 463.1 L107.7 463.7 L106.8 464.3 L106 464.9 L105.3 465.5 L104.7 466.1 L104.2 466.7 L103.8 467.3 L103.5 467.9 L103.2 468.5 L103.1 469.1 L103 469.7 L103 470.3 L103.1 470.9 L103.4 471.5 L103.6 472.1 L104 472.7 L104.5 473.3 L105.1 473.9 L105.7 474.5 L106.5 475.1 L107.3 475.7 L108.2 476.3 L109.2 476.9 L110.3 477.5 L111.5 478.1 L112.8 478.7 L111.9 479.3 L110.7 479.9 L109.5 480.5 L108.5 481.1 L107.5 481.7 L106.7 482.3 L105.9 482.9 L105.2 483.5 L104.7 484.1 L104.2 484.7 L103.7 485.3 L103.4 485.9 L103.2 486.5 L103.1 487.1 L103 487.7 L103 488.3 L103.2 488.9 L103.4 489.5 L103.7 490.1 L104.1 490.7 L104.6 491.3 L105.2 491.9 L105.8 492.5 L106.6 493.1 L107.4 493.7 L108.4 494.3 L109.4 494.9 L110.5 495.5 L111.7 496.1 L113 496.7 L111.7 497.3 L110.5 497.9 L109.4 498.5 L108.4 499.1 L107.4 499.7 L106.6 500.3 L105.8 500.9 L105.2 501.5 L104.6 502.1 L104.1 502.7 L103.7 503.3 L103.4 503.9 L103.2 504.5 L103 505.1 L103 505.7 L103.1 506.3 L103.2 506.9 L103.4 507.5 L103.7 508.1 L104.2 508.7 L104.7 509.3 L105.2 509.9 L105.9 510.5 L106.7 511.1 L107.5 511.7 L108.5 512.3 L109.5 512.9 L110.7 513.5 L111.9 514.1 L112.8 514.7 L111.5 515.3 L110.3 515.9 L109.2 516.5 L108.2 517.1 L107.3 517.7 L106.5 518.3 L105.7 518.9 L105.1 519.5 L104.5 520.1 L104 520.7 L103.6 521.3 L103.4 521.9 L103.1 522.5 L103 523.1 L103 523.7 L103.1 524.3 L103.2 524.9 L103.5 525.5 L103.8 526.1 L104.2 526.7 L104.7 527.3 L105.3 527.9 L106 528.5 L106.8 529.1 L107.7 529.7 L108.6 530.3 L109.7 530.9 L110.8 531.5 L112 532.1 L112.6 532.7 L111.4 533.3 L110.2 533.9 L109.1 534.5 L108.1 535.1 L107.2 535.7 L106.4 536.3 L105.6 536.9 L105 537.5 L104.4 538.1 L104 538.7 L103.6 539.3 L103.3 539.9 L103.1 540.5 L103 541.1 L103 541.7 L103.1 542.3 L103.2 542.9 L103.5 543.5 L103.8 544.1 L104.3 544.7 L104.8 545.3 L105.4 545.9 L106.1 546.5 L106.9 547.1 L107.8 547.7 L108.8 548.3 L109.8 548.9 L111 549.5 L112.2 550.1 L112.5 550.7 L111.2 551.3 L110 551.9 L109 552.5 L108 553.1 L107.1 553.7 L106.3 554.3 L105.5 554.9 L104.9 555.5 L104.4 556.1 L103.9 556.7 L103.6 557.3 L103.3 557.9 L103.1 558.5 L103 559.1 L197.2 559.1 L198.4 558.5 L199.4 557.9 L200.4 557.3 L201.2 556.7 L202 556.1 L202.8 555.5 L203.4 554.9 L203.9 554.3 L204.4 553.7 L204.8 553.1 L205.1 552.5 L205.4 551.9 L205.5 551.3 L205.6 550.7 L205.6 550.1 L205.5 549.5 L205.3 548.9 L205.1 548.3 L204.7 547.7 L204.3 547.1 L203.8 546.5 L203.3 545.9 L202.6 545.3 L201.9 544.7 L201.1 544.1 L200.2 543.5 L199.2 542.9 L198.1 542.3 L197 541.7 L197.4 541.1 L198.5 540.5 L199.5 539.9 L200.5 539.3 L201.3 538.7 L202.1 538.1 L202.8 537.5 L203.5 536.9 L204 536.3 L204.5 535.7 L204.9 535.1 L205.2 534.5 L205.4 533.9 L205.5 533.3 L205.6 532.7 L205.6 532.1 L205.5 531.5 L205.3 530.9 L205 530.3 L204.7 529.7 L204.3 529.1 L203.8 528.5 L203.2 527.9 L202.5 527.3 L201.8 526.7 L201 526.1 L200 525.5 L199.1 524.9 L198 524.3 L196.8 523.7 L197.5 523.1 L198.6 522.5 L199.7 521.9 L200.6 521.3 L201.5 520.7 L202.2 520.1 L202.9 519.5 L203.5 518.9 L204.1 518.3 L204.5 517.7 L204.9 517.1 L205.2 516.5 L205.4 515.9 L205.5 515.3 L205.6 514.7 L205.6 514.1 L205.5 513.5 L205.3 512.9 L205 512.3 L204.6 511.7 L204.2 511.1 L203.7 510.5 L203.1 509.9 L202.4 509.3 L201.7 508.7 L200.8 508.1 L199.9 507.5 L198.9 506.9 L197.8 506.3 L196.7 505.7 L197.7 505.1 L198.8 504.5 L199.8 503.9 L200.7 503.3 L201.6 502.7 L202.3 502.1 L203 501.5 L203.6 500.9 L204.1 500.3 L204.6 499.7 L205 499.1 L205.2 498.5 L205.4 497.9 L205.6 497.3 L205.6 496.7 L205.6 496.1 L205.4 495.5 L205.2 494.9 L205 494.3 L204.6 493.7 L204.1 493.1 L203.6 492.5 L203 491.9 L202.3 491.3 L201.6 490.7 L200.7 490.1 L199.8 489.5 L198.8 488.9 L197.7 488.3 L196.7 487.7 L197.8 487.1 L198.9 486.5 L199.9 485.9 L200.8 485.3 L201.7 484.7 L202.4 484.1 L203.1 483.5 L203.7 482.9 L204.2 482.3 L204.6 481.7 L205 481.1 L205.3 480.5 L205.5 479.9 L205.6 479.3 L205.6 478.7 L205.5 478.1 L205.4 477.5 L205.2 476.9 L204.9 476.3 L204.5 475.7 L204.1 475.1 L203.5 474.5 L202.9 473.9 L202.2 473.3 L201.5 472.7 L200.6 472.1 L199.7 471.5 L198.6 470.9 L197.5 470.3 L196.8 469.7 L198 469.1 L199.1 468.5 L200 467.9 L201 467.3 L201.8 466.7 L202.5 466.1 L203.2 465.5 L203.8 464.9 L204.3 464.3 L204.7 463.7 L205 463.1 L205.3 462.5 L205.5 461.9 L205.6 461.3 L205.6 460.7 L205.5 460.1 L205.4 459.5 L205.2 458.9 L204.9 458.3 L204.5 457.7 L204 457.1 L203.5 456.5 L202.8 455.9 L202.1 455.3 L201.3 454.7 L200.5 454.1 L199.5 453.5 L198.5 452.9 L197.4 452.3 L197 451.7 L198.1 451.1 L199.2 450.5 L200.2 449.9 L201.1 449.3 L201.9 448.7 L202.6 448.1 L203.3 447.5 L203.8 446.9 L204.3 446.3 L204.7 445.7 L205.1 445.1 L205.3 444.5 L205.5 443.9 L205.6 443.3 L205.6 442.7 L205.5 442.1 L205.4 441.5 L205.1 440.9 L204.8 440.3 L204.4 439.7 L203.9 439.1 L203.4 438.5 L202.8 437.9 L202 437.3 L201.2 436.7 L200.4 436.1 L199.4 435.5 L198.4 434.9 L197.2 434.3 L197.2 433.7 L198.3 433.1 L199.3 432.5 L200.3 431.9 L201.2 431.3 L202 430.7 L202.7 430.1 L203.3 429.5 L203.9 428.9 L204.4 428.3 L204.8 427.7 L205.1 427.1 L205.4 426.5 L205.5 425.9 L205.6 425.3 L205.6 424.7 L205.5 424.1 L205.3 423.5 L205.1 422.9 L204.8 422.3 L204.4 421.7 L203.9 421.1 L203.3 420.5 L202.7 419.9 L201.9 419.3 L201.1 418.7 L200.2 418.1 L199.3 417.5 L198.2 416.9 L197.1 416.3 L197.3 415.7 L198.4 415.1 L199.5 414.5 L200.4 413.9 L201.3 413.3 L202.1 412.7 L202.8 412.1 L203.4 411.5 L204 410.9 L204.5 410.3 L204.8 409.7 L205.2 409.1 L205.4 408.5 L205.5 407.9 L205.6 407.3 L205.6 406.7 L205.5 406.1 L205.3 405.5 L205.1 404.9 L204.7 404.3 L204.3 403.7 L203.8 403.1 L203.2 402.5 L202.6 401.9 L201.8 401.3 L201 400.7 L200.1 400.1 L199.1 399.5 L198.1 398.9 L196.9 398.3 L197.5 397.7 L198.6 397.1 L199.6 396.5 L200.5 395.9 L201.4 395.3 L202.2 394.7 L202.9 394.1 L203.5 393.5 L204 392.9 L204.5 392.3 L204.9 391.7 L205.2 391.1 L205.4 390.5 L205.5 389.9 L205.6 389.3 L205.6 388.7 L205.5 388.1 L205.3 387.5 L205 386.9 L204.7 386.3 L204.2 385.7 L203.7 385.1 L203.1 384.5 L202.5 383.9 L201.7 383.3 L200.9 382.7 L200 382.1 L199 381.5 L197.9 380.9 L196.8 380.3 L197.6 379.7 L198.7 379.1 L199.7 378.5 L200.7 377.9 L201.5 377.3 L202.3 376.7 L203 376.1 L203.6 375.5 L204.1 374.9 L204.6 374.3 L204.9 373.7 L205.2 373.1 L205.4 372.5 L205.6 371.9 L205.6 371.3 L205.6 370.7 L205.4 370.1 L205.3 369.5 L205 368.9 L204.6 368.3 L204.2 367.7 L203.7 367.1 L203.1 366.5 L202.4 365.9 L201.6 365.3 L200.8 364.7 L199.9 364.1 L198.8 363.5 L197.8 362.9 L196.6 362.3 L197.8 361.7 L198.8 361.1 L199.9 360.5 L200.8 359.9 L201.6 359.3 L202.4 358.7 L203.1 358.1 L203.7 357.5 L204.2 356.9 L204.6 356.3 L205 355.7 L205.3 355.1 L205.4 354.5 L205.6 353.9 L205.6 353.3 L205.6 352.7 L205.4 352.1 L205.2 351.5 L204.9 350.9 L204.6 350.3 L204.1 349.7 L203.6 349.1 L203 348.5 L202.3 347.9 L201.5 347.3 L200.7 346.7 L199.7 346.1 L198.7 345.5 L197.6 344.9 L196.8 344.3 L197.9 343.7 L199 343.1 L200 342.5 L200.9 341.9 L201.7 341.3 L202.5 340.7 L203.1 340.1 L203.7 339.5 L204.2 338.9 L204.7 338.3 L205 337.7 L205.3 337.1 L205.5 336.5 L205.6 335.9 L205.6 335.3 L205.5 334.7 L205.4 334.1 L205.2 333.5 L204.9 332.9 L204.5 332.3 L204 331.7 L203.5 331.1 L202.9 330.5 L202.2 329.9 L201.4 329.3 L200.5 328.7 L199.6 328.1 L198.6 327.5 L197.5 326.9 L196.9 326.3 L198.1 325.7 L199.1 325.1 L200.1 324.5 L201 323.9 L201.8 323.3 L202.6 322.7 L203.2 322.1 L203.8 321.5 L204.3 320.9 L204.7 320.3 L205.1 319.7 L205.3 319.1 L205.5 318.5 L205.6 317.9 L205.6 317.3 L205.5 316.7 L205.4 316.1 L205.2 315.5 L204.8 314.9 L204.5 314.3 L204 313.7 L203.4 313.1 L202.8 312.5 L202.1 311.9 L201.3 311.3 L200.4 310.7 L199.5 310.1 L198.4 309.5 L197.3 308.9 L197.1 308.3 L198.2 307.7 L199.3 307.1 L200.2 306.5 L201.1 305.9 L201.9 305.3 L202.7 304.7 L203.3 304.1 L203.9 303.5 L204.4 302.9 L204.8 302.3 L205.1 301.7 L205.3 301.1 L205.5 300.5 L205.6 299.9 L205.6 299.3 L205.5 298.7 L205.4 298.1 L205.1 297.5 L204.8 296.9 L204.4 296.3 L203.9 295.7 L203.3 295.1 L202.7 294.5 L202 293.9 L201.2 293.3 L200.3 292.7 L199.3 292.1 L198.3 291.5 L197.2 290.9 L197.2 290.3 L198.4 289.7 L199.4 289.1 L200.4 288.5 L201.2 287.9 L202 287.3 L202.8 286.7 L203.4 286.1 L203.9 285.5 L204.4 284.9 L204.8 284.3 L205.1 283.7 L205.4 283.1 L205.5 282.5 L205.6 281.9 L205.6 281.3 L205.5 280.7 L205.3 280.1 L205.1 279.5 L204.7 278.9 L204.3 278.3 L203.8 277.7 L203.3 277.1 L202.6 276.5 L201.9 275.9 L201.1 275.3 L200.2 274.7 L199.2 274.1 L198.1 273.5 L197 272.9 L197.4 272.3 L198.5 271.7 L199.5 271.1 L200.5 270.5 L201.3 269.9 L202.1 269.3 L202.8 268.7 L203.5 268.1 L204 267.5 L204.5 266.9 L204.9 266.3 L205.2 265.7 L205.4 265.1 L205.5 264.5 L205.6 263.9 L205.6 263.3 L205.5 262.7 L205.3 262.1 L205 261.5 L204.7 260.9 L204.3 260.3 L203.8 259.7 L203.2 259.1 L202.5 258.5 L201.8 257.9 L201 257.3 L200 256.7 L199.1 256.1 L198 255.5 L196.8 254.9 L197.5 254.3 L198.6 253.7 L199.7 253.1 L200.6 252.5 L201.5 251.9 L202.2 251.3 L202.9 250.7 L203.5 250.1 L204.1 249.5 L204.5 248.9 L204.9 248.3 L205.2 247.7 L205.4 247.1 L205.5 246.5 L205.6 245.9 L205.6 245.3 L205.5 244.7 L205.3 244.1 L205 243.5 L204.6 242.9 L204.2 242.3 L203.7 241.7 L203.1 241.1 L202.4 240.5 L201.7 239.9 L200.8 239.3 L199.9 238.7 L198.9 238.1 L197.8 237.5 L196.7 236.9 L197.7 236.3 L198.8 235.7 L199.8 235.1 L200.7 234.5 L201.6 233.9 L202.3 233.3 L203 232.7 L203.6 232.1 L204.1 231.5 L204.6 230.9 L205 230.3 L205.2 229.7 L205.4 229.1 L205.6 228.5 L205.6 227.9 L205.6 227.3 L205.4 226.7 L205.2 226.1 L205 225.5 L204.6 224.9 L204.1 224.3 L203.6 223.7 L203 223.1 L202.3 222.5 L201.6 221.9 L200.7 221.3 L199.8 220.7 L198.8 220.1 L197.7 219.5 L196.7 218.9 L197.8 218.3 L198.9 217.7 L199.9 217.1 L200.8 216.5 L201.7 215.9 L202.4 215.3 L203.1 214.7 L203.7 214.1 L204.2 213.5 L204.6 212.9 L205 212.3 L205.3 211.7 L205.5 211.1 L205.6 210.5 L205.6 209.9 L205.5 209.3 L205.4 208.7 L205.2 208.1 L204.9 207.5 L204.5 206.9 L204.1 206.3 L203.5 205.7 L202.9 205.1 L202.2 204.5 L201.5 203.9 L200.6 203.3 L199.7 202.7 L198.6 202.1 L197.5 201.5 L196.8 200.9 L198 200.3 L199.1 199.7 L200 199.1 L201 198.5 L201.8 197.9 L202.5 197.3 L203.2 196.7 L203.8 196.1 L204.3 195.5 L204.7 194.9 L205 194.3 L205.3 193.7 L205.5 193.1 L205.6 192.5 L205.6 191.9 L205.5 191.3 L205.4 190.7 L205.2 190.1 L204.9 189.5 L204.5 188.9 L204 188.3 L203.5 187.7 L202.8 187.1 L202.1 186.5 L201.3 185.9 L200.5 185.3 L199.5 184.7 L198.5 184.1 L197.4 183.5 L197 182.9 L198.1 182.3 L199.2 181.7 L200.2 181.1 L201.1 180.5 L201.9 179.9 L202.6 179.3 L203.3 178.7 L203.8 178.1 L204.3 177.5 L204.7 176.9 L205.1 176.3 L205.3 175.7 L205.5 175.1 L205.6 174.5 L205.6 173.9 L205.5 173.3 L205.4 172.7 L205.1 172.1 L204.8 171.5 L204.4 170.9 L203.9 170.3 L203.4 169.7 L202.8 169.1 L202 168.5 L201.2 167.9 L200.4 167.3 L199.4 166.7 L198.4 166.1 L197.2 165.5 L197.2 164.9 L198.3 164.3 L199.3 163.7 L200.3 163.1 L201.2 162.5 L202 161.9 L202.7 161.3 L203.4 160.7 L203.9 160.1 L204.4 159.5 L204.8 158.9 L205.1 158.3 L205.4 157.7 L205.5 157.1 L205.6 156.5 L205.6 155.9 L205.5 155.3 L205.3 154.7 L205.1 154.1 L204.8 153.5 L204.4 152.9 L203.9 152.3 L203.3 151.7 L202.7 151.1 L201.9 150.5 L201.1 149.9 L200.2 149.3 L199.3 148.7 L198.2 148.1 L197.1 147.5 L197.3 146.9 L198.4 146.3 L199.5 145.7 L200.4 145.1 L201.3 144.5 L202.1 143.9 L202.8 143.3 L203.4 142.7 L204 142.1 L204.5 141.5 L204.8 140.9 L205.2 140.3 L205.4 139.7 L205.5 139.1 L205.6 138.5 L205.6 137.9 L205.5 137.3 L205.3 136.7 L205.1 136.1 L204.7 135.5 L204.3 134.9 L203.8 134.3 L203.2 133.7 L202.6 133.1 L201.8 132.5 L201 131.9 L200.1 131.3 L199.1 130.7 L198.1 130.1 L196.9 129.5 L197.5 128.9 L198.6 128.3 L199.6 127.7 L200.5 127.1 L201.4 126.5 L202.2 125.9 L202.9 125.3 L203.5 124.7 L204 124.1 L204.5 123.5 L204.9 122.9 L205.2 122.3 L205.4 121.7 L205.5 121.1 L205.6 120.5 L205.6 119.9 L205.5 119.3 L205.3 118.7 L205 118.1 L204.7 117.5 L204.2 116.9 L203.7 116.3 L203.1 115.7 L202.5 115.1 L201.7 114.5 L200.9 113.9 L200 113.3 L199 112.7 L197.9 112.1 L196.8 111.5 L197.6 110.9 L198.7 110.3 L199.7 109.7 L200.7 109.1 L201.5 108.5 L202.3 107.9 L203 107.3 L203.6 106.7 L204.1 106.1 L204.6 105.5 L204.9 104.9 L205.2 104.3 L205.4 103.7 L205.6 103.1 L205.6 102.5 L205.6 101.9 L205.4 101.3 L205.3 100.7 L205 100.1 L204.6 99.5 L204.2 98.9 L203.7 98.3 L203.1 97.7 L202.4 97.1 L201.6 96.5 L200.8 95.9 L199.9 95.3 L198.8 94.7 L197.8 94.1 L196.6 93.5 L197.8 92.9 L198.8 92.3 L199.9 91.7 L200.8 91.1 L201.6 90.5 L202.4 89.9 L203.1 89.3 L203.7 88.7 L204.2 88.1 L204.6 87.5 L205 86.9 L205.3 86.3 L205.4 85.7 L205.6 85.1 L205.6 84.5 L205.6 83.9 L205.4 83.3 L205.2 82.7 L204.9 82.1 L204.6 81.5 L204.1 80.9 L203.6 80.3 L203 79.7 L202.3 79.1 L201.5 78.5 L200.7 77.9 L199.7 77.3 L198.7 76.7 L197.6 76.1 L196.8 75.5 L197.9 74.9 L199 74.3 L200 73.7 L200.9 73.1 L201.7 72.5 L202.5 71.9 L203.1 71.3 L203.7 70.7 L204.2 70.1 L204.7 69.5 L205 68.9 L205.3 68.3 L205.5 67.7 L205.6 67.1 L205.6 66.5 L205.5 65.9 L205.4 65.3 L205.2 64.7 L204.9 64.1 L204.5 63.5 L204 62.9 L203.5 62.3 L202.9 61.7 L202.2 61.1 L201.4 60.5Z" fill="none" stroke="#000" stroke-width="2.4"/>
</g>
<line x1="104" y1="61.4" x2="204.6" y2="61.4" stroke="#000" stroke-width="2.2" stroke-linecap="butt"/>
<line x1="104" y1="558.6" x2="204.6" y2="558.6" stroke="#000" stroke-width="2.0" stroke-linecap="butt"/>
<ellipse cx="203" cy="66.6" rx="3.1" ry="3.3" fill="#000"/>
<ellipse cx="105.6" cy="75.6" rx="3.1" ry="3.3" fill="#000"/>
<ellipse cx="203" cy="84.5" rx="3.1" ry="3.3" fill="#000"/>
<ellipse cx="105.6" cy="93.5" rx="3.1" ry="3.3" fill="#000"/>
<ellipse cx="203" cy="102.5" rx="3.1" ry="3.3" fill="#000"/>
<ellipse cx="105.6" cy="111.4" rx="3.1" ry="3.3" fill="#000"/>
<ellipse cx="203" cy="120.4" rx="3.1" ry="3.3" fill="#000"/>
<ellipse cx="105.6" cy="129.3" rx="3.1" ry="3.3" fill="#000"/>
<ellipse cx="203" cy="138.3" rx="3.1" ry="3.3" fill="#000"/>
<ellipse cx="105.6" cy="147.3" rx="3.1" ry="3.3" fill="#000"/>
<ellipse cx="203" cy="156.2" rx="3.1" ry="3.3" fill="#000"/>
<ellipse cx="105.6" cy="165.2" rx="3.1" ry="3.3" fill="#000"/>
<ellipse cx="203" cy="174.1" rx="3.1" ry="3.3" fill="#000"/>
<ellipse cx="105.6" cy="183.1" rx="3.1" ry="3.3" fill="#000"/>
<ellipse cx="203" cy="192.1" rx="3.1" ry="3.3" fill="#000"/>
<ellipse cx="105.6" cy="201" rx="3.1" ry="3.3" fill="#000"/>
<ellipse cx="203" cy="210" rx="3.1" ry="3.3" fill="#000"/>
<ellipse cx="105.6" cy="218.9" rx="3.1" ry="3.3" fill="#000"/>
<ellipse cx="203" cy="227.9" rx="3.1" ry="3.3" fill="#000"/>
<ellipse cx="105.6" cy="236.9" rx="3.1" ry="3.3" fill="#000"/>
<ellipse cx="203" cy="245.8" rx="3.1" ry="3.3" fill="#000"/>
<ellipse cx="105.6" cy="254.8" rx="3.1" ry="3.3" fill="#000"/>
<ellipse cx="203" cy="263.7" rx="3.1" ry="3.3" fill="#000"/>
<ellipse cx="105.6" cy="272.7" rx="3.1" ry="3.3" fill="#000"/>
<ellipse cx="203" cy="281.7" rx="3.1" ry="3.3" fill="#000"/>
<ellipse cx="105.6" cy="290.6" rx="3.1" ry="3.3" fill="#000"/>
<ellipse cx="203" cy="299.6" rx="3.1" ry="3.3" fill="#000"/>
<ellipse cx="105.6" cy="308.5" rx="3.1" ry="3.3" fill="#000"/>
<ellipse cx="203" cy="317.5" rx="3.1" ry="3.3" fill="#000"/>
<ellipse cx="105.6" cy="326.5" rx="3.1" ry="3.3" fill="#000"/>
<ellipse cx="203" cy="335.4" rx="3.1" ry="3.3" fill="#000"/>
<ellipse cx="105.6" cy="344.4" rx="3.1" ry="3.3" fill="#000"/>
<ellipse cx="203" cy="353.3" rx="3.1" ry="3.3" fill="#000"/>
<ellipse cx="105.6" cy="362.3" rx="3.1" ry="3.3" fill="#000"/>
<ellipse cx="203" cy="371.3" rx="3.1" ry="3.3" fill="#000"/>
<ellipse cx="105.6" cy="380.2" rx="3.1" ry="3.3" fill="#000"/>
<ellipse cx="203" cy="389.2" rx="3.1" ry="3.3" fill="#000"/>
<ellipse cx="105.6" cy="398.1" rx="3.1" ry="3.3" fill="#000"/>
<ellipse cx="203" cy="407.1" rx="3.1" ry="3.3" fill="#000"/>
<ellipse cx="105.6" cy="416.1" rx="3.1" ry="3.3" fill="#000"/>
<ellipse cx="203" cy="425" rx="3.1" ry="3.3" fill="#000"/>
<ellipse cx="105.6" cy="434" rx="3.1" ry="3.3" fill="#000"/>
<ellipse cx="203" cy="442.9" rx="3.1" ry="3.3" fill="#000"/>
<ellipse cx="105.6" cy="451.9" rx="3.1" ry="3.3" fill="#000"/>
<ellipse cx="203" cy="460.9" rx="3.1" ry="3.3" fill="#000"/>
<ellipse cx="105.6" cy="469.8" rx="3.1" ry="3.3" fill="#000"/>
<ellipse cx="203" cy="478.8" rx="3.1" ry="3.3" fill="#000"/>
<ellipse cx="105.6" cy="487.7" rx="3.1" ry="3.3" fill="#000"/>
<ellipse cx="203" cy="496.7" rx="3.1" ry="3.3" fill="#000"/>
<ellipse cx="105.6" cy="505.7" rx="3.1" ry="3.3" fill="#000"/>
<ellipse cx="203" cy="514.6" rx="3.1" ry="3.3" fill="#000"/>
<ellipse cx="105.6" cy="523.6" rx="3.1" ry="3.3" fill="#000"/>
<ellipse cx="203" cy="532.5" rx="3.1" ry="3.3" fill="#000"/>
<ellipse cx="105.6" cy="541.5" rx="3.1" ry="3.3" fill="#000"/>
<ellipse cx="203" cy="550.5" rx="3.1" ry="3.3" fill="#000"/>
<path d="M94 53 L103 61 M213.5 53 L204.5 61" stroke="#161616" stroke-width="1.6" fill="none"/>
<path d="M94 566.2 L103.5 559 M213.5 566.2 L205 559" stroke="#161616" stroke-width="1.6" fill="none"/>
<line x1="102.5" y1="60.6" x2="205" y2="60.6" stroke="#000" stroke-width="2.2" stroke-linecap="butt"/>
<line x1="103" y1="559.5" x2="205" y2="559.5" stroke="#000" stroke-width="2.2" stroke-linecap="butt"/>
<rect x="35.5" y="53" width="236.3" height="513.2" fill="none" stroke="#1c1c1c" stroke-width="2.1"/>
<line x1="271.8" y1="79" x2="271.8" y2="531" stroke="#fff" stroke-width="2.3" stroke-linecap="butt"/>
<line x1="271.8" y1="78.5" x2="271.8" y2="531.5" stroke="#5c5c5c" stroke-width="2.4" stroke-linecap="butt"/>
<line x1="103.5" y1="46.3" x2="103.5" y2="59.5" stroke="#161616" stroke-width="1.6" stroke-linecap="butt"/>
<line x1="203" y1="46.3" x2="203" y2="68.5" stroke="#161616" stroke-width="1.6" stroke-linecap="butt"/>
<line x1="154" y1="37" x2="154" y2="584" stroke="#161616" stroke-width="1.6" stroke-linecap="butt"/>
<line x1="103.8" y1="550.5" x2="103.8" y2="632" stroke="#2a2a2a" stroke-width="1.8" stroke-linecap="butt"/>
<line x1="203.4" y1="559" x2="203.4" y2="632" stroke="#2a2a2a" stroke-width="1.8" stroke-linecap="butt"/>
<line x1="42.2" y1="624.2" x2="76" y2="624.2" stroke="#000" stroke-width="2.0" stroke-linecap="round"/>
<path d="M101.5 624.2 L74.5 629.2 L77.2 624.2 L74.5 619.2 Z" fill="#000"/>
<line x1="232" y1="624.2" x2="266" y2="624.2" stroke="#000" stroke-width="2.0" stroke-linecap="round"/>
<path d="M206 624.2 L233 619.2 L230.3 624.2 L233 629.2 Z" fill="#000"/>
<path d="M137.9 641 L137.9 606.6 L153.9 641 L170 606.6 L170 641" fill="none" stroke="#000" stroke-width="4.5" stroke-linecap="round" stroke-linejoin="round"/>
<path d="M35.8 802 L94.7 699.9 L212.6 699.9 L271.6 802 L212.6 904.1 L94.7 904.1Z" fill="none" stroke="#161616" stroke-width="1.7" stroke-linejoin="miter"/>
<circle cx="154.1" cy="802" r="98.8" fill="none" stroke="#222" stroke-width="1.8"/>
<circle cx="153.7" cy="802" r="59.4" fill="none" stroke="#161616" stroke-width="1.9"/>
<circle cx="153.7" cy="802" r="51.8" fill="none" stroke="#161616" stroke-width="1.9"/>
<circle cx="153.2" cy="802" r="40.3" fill="none" stroke="#161616" stroke-width="2.0"/>
<path d="M192.4 791.5 L192.5 790.6 L192.5 789.6 L192.4 788.7 L192.3 787.8 L192.2 786.8 L192 785.9 L191.8 785 L191.6 784 L191.3 783.1 L191 782.2 L190.7 781.3 L190.4 780.4 L190 779.5 L189.7 778.6 L189.2 777.7 L188.8 776.8 L188.4 776 L187.9 775.1 L187.4 774.2 L186.9 773.4 L186.3 772.6 L185.8 771.8 L185.2 770.9 L184.6 770.1 L184 769.4 L183.3 768.6 L182.7 767.8 L182 767.1 L181.3 766.4 L180.5 765.7 L179.8 765 L179 764.3 L178.2 763.6 L177.4 763 L176.6 762.4 L175.8 761.8 L174.9 761.2 L174.1 760.6 L173.2 760.1 L172.3 759.5 L171.4 759 L170.5 758.5 L169.5 758.1 L168.6 757.6 L167.6 757.2 L166.7 756.8 L165.7 756.4 L164.7 756.1 L163.7 755.8 L162.7 755.5 L161.6 755.2 L160.6 754.9 L159.6 754.7 L158.5 754.5 L157.5 754.3 L156.4 754.1 L155.3 754 L154.3 753.9 L153.2 753.8 L152.1 753.8" fill="none" stroke="#222" stroke-width="1.2"/>
<path d="M156.4 754.1 L153.9 753.9 L151.3 753.7 L148.7 753.8 L146.1 753.9 L143.5 754.2 L140.9 754.7 L138.4 755.3 L135.9 756.1 L133.4 757 L131 758 L128.6 759.2 L126.4 760.6 L124.1 762 L122 763.6 L120 765.3 L118.1 767.1 L116.2 769 L114.5 771 L112.9 773.2 L111.4 775.4 L110.1 777.7 L108.9 780 L107.8 782.5 L106.9 784.9 L106.1 787.5 L105.5 790 L105 792.6 L104.7 795.2 L104.5 797.8 L104.4 800.5 L104.6 803.1 L104.8 805.7 L105.2 808.2 L105.8 810.8 L106.5 813.3 L107.3 815.7 L108.3 818.1 L109.4 820.4 L110.6 822.6 L112 824.8 L113.4 826.8 L115 828.8 L116.7 830.7 L118.5 832.4 L120.3 834 L122.3 835.6 L124.3 837 L126.4 838.2 L128.5 839.4 L130.7 840.4 L132.9 841.2 L135.2 842 L137.5 842.6 L139.8 843 L142.1 843.3 L144.4 843.5 L146.7 843.5 L149 843.3 L151.2 843 L153.4 842.4" fill="none" stroke="#000" stroke-width="2.4"/>
<line x1="11.1" y1="802" x2="85.3" y2="802" stroke="#111" stroke-width="1.7" stroke-linecap="butt"/>
<line x1="96.4" y1="802" x2="109.2" y2="802" stroke="#111" stroke-width="1.7" stroke-linecap="butt"/>
<line x1="122.2" y1="802" x2="185.2" y2="802" stroke="#111" stroke-width="1.7" stroke-linecap="butt"/>
<line x1="198.2" y1="802" x2="211" y2="802" stroke="#111" stroke-width="1.7" stroke-linecap="butt"/>
<line x1="222.1" y1="802" x2="296.3" y2="802" stroke="#111" stroke-width="1.7" stroke-linecap="butt"/>
<line x1="153.4" y1="683.8" x2="153.4" y2="733.2" stroke="#111" stroke-width="1.7" stroke-linecap="butt"/>
<line x1="153.4" y1="745" x2="153.4" y2="756.9" stroke="#111" stroke-width="1.7" stroke-linecap="butt"/>
<line x1="153.4" y1="770" x2="153.4" y2="834" stroke="#111" stroke-width="1.7" stroke-linecap="butt"/>
<line x1="153.4" y1="847.1" x2="153.4" y2="859" stroke="#111" stroke-width="1.7" stroke-linecap="butt"/>
<line x1="153.4" y1="870.8" x2="153.4" y2="920.2" stroke="#111" stroke-width="1.7" stroke-linecap="butt"/>
<line x1="220" y1="699.9" x2="336.8" y2="699.9" stroke="#161616" stroke-width="1.8" stroke-linecap="butt"/>
<line x1="220" y1="904.1" x2="336.8" y2="904.1" stroke="#161616" stroke-width="1.8" stroke-linecap="butt"/>
<line x1="328.5" y1="728" x2="328.5" y2="780.7" stroke="#111" stroke-width="1.8" stroke-linecap="butt"/>
<line x1="328.5" y1="823.4" x2="328.5" y2="876" stroke="#111" stroke-width="1.8" stroke-linecap="butt"/>
<path d="M328.5 701.9 L333.7 729.4 L328.5 726.6 L323.3 729.4 Z" fill="#000"/>
<path d="M328.5 902.1 L323.3 874.6 L328.5 877.4 L333.7 874.6 Z" fill="#000"/>
<path d="M318.9 791.2 A18 12.6 0 1 0 338.1 791.2" fill="none" stroke="#000" stroke-width="3.2" stroke-linecap="round"/>
<text x="105.7" y="983.6" font-family="Liberation Sans, sans-serif" font-weight="bold" font-size="42" fill="#000" stroke="#000" stroke-width="0.8">Fig.</text>
<path d="M193.2 953.4 L198.1 953.4 L198.1 983.5 L191.2 983.5 L191.2 963.6 L183.3 967.6 L183.3 961.4 L189.6 957.4Z" fill="#000"/>
<clipPath id="cp495"><rect x="530.5" y="53" width="236.3" height="513.2"/></clipPath>
<line x1="510.5" y1="-13.9" x2="790.5" y2="-290.2" stroke="#161616" stroke-width="1.9" clip-path="url(#cp495)"/>
<line x1="510.5" y1="43.6" x2="790.5" y2="-232.7" stroke="#161616" stroke-width="1.9" clip-path="url(#cp495)"/>
<line x1="510.5" y1="101.1" x2="790.5" y2="-175.2" stroke="#161616" stroke-width="1.9" clip-path="url(#cp495)"/>
<line x1="510.5" y1="158.6" x2="790.5" y2="-117.7" stroke="#161616" stroke-width="1.9" clip-path="url(#cp495)"/>
<line x1="510.5" y1="216.1" x2="790.5" y2="-60.2" stroke="#161616" stroke-width="1.9" clip-path="url(#cp495)"/>
<line x1="510.5" y1="273.6" x2="790.5" y2="-2.7" stroke="#161616" stroke-width="1.9" clip-path="url(#cp495)"/>
<line x1="510.5" y1="331.1" x2="790.5" y2="54.8" stroke="#161616" stroke-width="1.9" clip-path="url(#cp495)"/>
<line x1="510.5" y1="388.6" x2="790.5" y2="112.3" stroke="#161616" stroke-width="1.9" clip-path="url(#cp495)"/>
<line x1="510.5" y1="446.1" x2="790.5" y2="169.8" stroke="#161616" stroke-width="1.9" clip-path="url(#cp495)"/>
<line x1="510.5" y1="503.6" x2="790.5" y2="227.3" stroke="#161616" stroke-width="1.9" clip-path="url(#cp495)"/>
<line x1="510.5" y1="561.1" x2="790.5" y2="284.8" stroke="#161616" stroke-width="1.9" clip-path="url(#cp495)"/>
<line x1="510.5" y1="618.6" x2="790.5" y2="342.3" stroke="#161616" stroke-width="1.9" clip-path="url(#cp495)"/>
<line x1="510.5" y1="676.1" x2="790.5" y2="399.8" stroke="#161616" stroke-width="1.9" clip-path="url(#cp495)"/>
<line x1="510.5" y1="733.6" x2="790.5" y2="457.3" stroke="#161616" stroke-width="1.9" clip-path="url(#cp495)"/>
<line x1="510.5" y1="791.1" x2="790.5" y2="514.8" stroke="#161616" stroke-width="1.9" clip-path="url(#cp495)"/>
<line x1="510.5" y1="848.6" x2="790.5" y2="572.3" stroke="#161616" stroke-width="1.9" clip-path="url(#cp495)"/>
<line x1="510.5" y1="906.1" x2="790.5" y2="629.8" stroke="#161616" stroke-width="1.9" clip-path="url(#cp495)"/>
<line x1="510.5" y1="963.6" x2="790.5" y2="687.3" stroke="#161616" stroke-width="1.9" clip-path="url(#cp495)"/>
<path d="M589.5 53 L598 60.8 L700.4 60.8 L708.5 53Z" fill="#fff"/>
<path d="M589.5 566.2 L598 559.5 L700.4 559.5 L708.5 566.2Z" fill="#fff"/>
<clipPath id="th2"><path d="M599 60.5 L599.5 61.1 L600 61.7 L600.7 62.3 L601.4 62.9 L602.2 63.5 L603.2 64.1 L604.2 64.7 L605.3 65.3 L606.5 65.9 L607.7 66.5 L607 67.1 L605.7 67.7 L604.6 68.3 L603.6 68.9 L602.6 69.5 L601.7 70.1 L601 70.7 L600.3 71.3 L599.7 71.9 L599.2 72.5 L598.8 73.1 L598.4 73.7 L598.2 74.3 L598.1 74.9 L598 75.5 L598 76.1 L598.2 76.7 L598.4 77.3 L598.7 77.9 L599.1 78.5 L599.5 79.1 L600.1 79.7 L600.8 80.3 L601.5 80.9 L602.4 81.5 L603.3 82.1 L604.3 82.7 L605.4 83.3 L606.6 83.9 L607.9 84.5 L606.8 85.1 L605.6 85.7 L604.5 86.3 L603.4 86.9 L602.5 87.5 L601.6 88.1 L600.9 88.7 L600.2 89.3 L599.6 89.9 L599.1 90.5 L598.7 91.1 L598.4 91.7 L598.2 92.3 L598 92.9 L598 93.5 L598 94.1 L598.2 94.7 L598.4 95.3 L598.7 95.9 L599.1 96.5 L599.6 97.1 L600.2 97.7 L600.9 98.3 L601.6 98.9 L602.5 99.5 L603.4 100.1 L604.5 100.7 L605.6 101.3 L606.8 101.9 L607.9 102.5 L606.6 103.1 L605.4 103.7 L604.3 104.3 L603.3 104.9 L602.4 105.5 L601.5 106.1 L600.8 106.7 L600.1 107.3 L599.5 107.9 L599.1 108.5 L598.7 109.1 L598.4 109.7 L598.2 110.3 L598 110.9 L598 111.5 L598.1 112.1 L598.2 112.7 L598.4 113.3 L598.8 113.9 L599.2 114.5 L599.7 115.1 L600.3 115.7 L601 116.3 L601.7 116.9 L602.6 117.5 L603.6 118.1 L604.6 118.7 L605.7 119.3 L607 119.9 L607.7 120.5 L606.5 121.1 L605.3 121.7 L604.2 122.3 L603.2 122.9 L602.2 123.5 L601.4 124.1 L600.7 124.7 L600 125.3 L599.5 125.9 L599 126.5 L598.6 127.1 L598.3 127.7 L598.1 128.3 L598 128.9 L598 129.5 L598.1 130.1 L598.2 130.7 L598.5 131.3 L598.8 131.9 L599.2 132.5 L599.8 133.1 L600.4 133.7 L601.1 134.3 L601.9 134.9 L602.7 135.5 L603.7 136.1 L604.7 136.7 L605.9 137.3 L607.1 137.9 L607.6 138.5 L606.3 139.1 L605.1 139.7 L604 140.3 L603 140.9 L602.1 141.5 L601.3 142.1 L600.6 142.7 L600 143.3 L599.4 143.9 L598.9 144.5 L598.6 145.1 L598.3 145.7 L598.1 146.3 L598 146.9 L598 147.5 L598.1 148.1 L598.3 148.7 L598.5 149.3 L598.9 149.9 L599.3 150.5 L599.8 151.1 L600.5 151.7 L601.2 152.3 L602 152.9 L602.9 153.5 L603.8 154.1 L604.9 154.7 L606.1 155.3 L607.3 155.9 L607.4 156.5 L606.1 157.1 L605 157.7 L603.9 158.3 L602.9 158.9 L602 159.5 L601.2 160.1 L600.5 160.7 L599.9 161.3 L599.3 161.9 L598.9 162.5 L598.5 163.1 L598.3 163.7 L598.1 164.3 L598 164.9 L598 165.5 L598.1 166.1 L598.3 166.7 L598.6 167.3 L598.9 167.9 L599.4 168.5 L599.9 169.1 L600.5 169.7 L601.3 170.3 L602.1 170.9 L603 171.5 L604 172.1 L605 172.7 L606.2 173.3 L607.5 173.9 L607.2 174.5 L606 175.1 L604.8 175.7 L603.8 176.3 L602.8 176.9 L601.9 177.5 L601.1 178.1 L600.4 178.7 L599.8 179.3 L599.3 179.9 L598.8 180.5 L598.5 181.1 L598.2 181.7 L598.1 182.3 L598 182.9 L598 183.5 L598.1 184.1 L598.3 184.7 L598.6 185.3 L599 185.9 L599.4 186.5 L600 187.1 L600.6 187.7 L601.4 188.3 L602.2 188.9 L603.1 189.5 L604.1 190.1 L605.2 190.7 L606.4 191.3 L607.6 191.9 L607 192.5 L605.8 193.1 L604.7 193.7 L603.6 194.3 L602.7 194.9 L601.8 195.5 L601 196.1 L600.3 196.7 L599.7 197.3 L599.2 197.9 L598.8 198.5 L598.5 199.1 L598.2 199.7 L598.1 200.3 L598 200.9 L598 201.5 L598.1 202.1 L598.4 202.7 L598.6 203.3 L599 203.9 L599.5 204.5 L600.1 205.1 L600.7 205.7 L601.5 206.3 L602.3 206.9 L603.2 207.5 L604.2 208.1 L605.3 208.7 L606.5 209.3 L607.8 209.9 L606.9 210.5 L605.7 211.1 L604.5 211.7 L603.5 212.3 L602.5 212.9 L601.7 213.5 L600.9 214.1 L600.2 214.7 L599.7 215.3 L599.2 215.9 L598.7 216.5 L598.4 217.1 L598.2 217.7 L598.1 218.3 L598 218.9 L598 219.5 L598.2 220.1 L598.4 220.7 L598.7 221.3 L599.1 221.9 L599.6 222.5 L600.2 223.1 L600.8 223.7 L601.6 224.3 L602.4 224.9 L603.4 225.5 L604.4 226.1 L605.5 226.7 L606.7 227.3 L608 227.9 L606.7 228.5 L605.5 229.1 L604.4 229.7 L603.4 230.3 L602.4 230.9 L601.6 231.5 L600.8 232.1 L600.2 232.7 L599.6 233.3 L599.1 233.9 L696.6 233.9 L697.3 233.3 L698 232.7 L698.6 232.1 L699.1 231.5 L699.6 230.9 L700 230.3 L700.2 229.7 L700.4 229.1 L700.6 228.5 L700.6 227.9 L700.6 227.3 L700.4 226.7 L700.2 226.1 L700 225.5 L699.6 224.9 L699.1 224.3 L698.6 223.7 L698 223.1 L697.3 222.5 L696.6 221.9 L695.7 221.3 L694.8 220.7 L693.8 220.1 L692.7 219.5 L691.7 218.9 L692.8 218.3 L693.9 217.7 L694.9 217.1 L695.8 216.5 L696.7 215.9 L697.4 215.3 L698.1 214.7 L698.7 214.1 L699.2 213.5 L699.6 212.9 L700 212.3 L700.3 211.7 L700.5 211.1 L700.6 210.5 L700.6 209.9 L700.5 209.3 L700.4 208.7 L700.2 208.1 L699.9 207.5 L699.5 206.9 L699.1 206.3 L698.5 205.7 L697.9 205.1 L697.2 204.5 L696.5 203.9 L695.6 203.3 L694.7 202.7 L693.6 202.1 L692.5 201.5 L691.8 200.9 L693 200.3 L694.1 199.7 L695 199.1 L696 198.5 L696.8 197.9 L697.5 197.3 L698.2 196.7 L698.8 196.1 L699.3 195.5 L699.7 194.9 L700 194.3 L700.3 193.7 L700.5 193.1 L700.6 192.5 L700.6 191.9 L700.5 191.3 L700.4 190.7 L700.2 190.1 L699.9 189.5 L699.5 188.9 L699 188.3 L698.5 187.7 L697.8 187.1 L697.1 186.5 L696.3 185.9 L695.5 185.3 L694.5 184.7 L693.5 184.1 L692.4 183.5 L692 182.9 L693.1 182.3 L694.2 181.7 L695.2 181.1 L696.1 180.5 L696.9 179.9 L697.6 179.3 L698.3 178.7 L698.8 178.1 L699.3 177.5 L699.7 176.9 L700.1 176.3 L700.3 175.7 L700.5 175.1 L700.6 174.5 L700.6 173.9 L700.5 173.3 L700.4 172.7 L700.1 172.1 L699.8 171.5 L699.4 170.9 L698.9 170.3 L698.4 169.7 L697.8 169.1 L697 168.5 L696.2 167.9 L695.4 167.3 L694.4 166.7 L693.4 166.1 L692.2 165.5 L692.2 164.9 L693.3 164.3 L694.3 163.7 L695.3 163.1 L696.2 162.5 L697 161.9 L697.7 161.3 L698.4 160.7 L698.9 160.1 L699.4 159.5 L699.8 158.9 L700.1 158.3 L700.4 157.7 L700.5 157.1 L700.6 156.5 L700.6 155.9 L700.5 155.3 L700.3 154.7 L700.1 154.1 L699.8 153.5 L699.4 152.9 L698.9 152.3 L698.3 151.7 L697.7 151.1 L696.9 150.5 L696.1 149.9 L695.2 149.3 L694.3 148.7 L693.2 148.1 L692.1 147.5 L692.3 146.9 L693.4 146.3 L694.5 145.7 L695.4 145.1 L696.3 144.5 L697.1 143.9 L697.8 143.3 L698.4 142.7 L699 142.1 L699.5 141.5 L699.8 140.9 L700.2 140.3 L700.4 139.7 L700.5 139.1 L700.6 138.5 L700.6 137.9 L700.5 137.3 L700.3 136.7 L700.1 136.1 L699.7 135.5 L699.3 134.9 L698.8 134.3 L698.2 133.7 L697.6 133.1 L696.8 132.5 L696 131.9 L695.1 131.3 L694.1 130.7 L693.1 130.1 L691.9 129.5 L692.5 128.9 L693.6 128.3 L694.6 127.7 L695.5 127.1 L696.4 126.5 L697.2 125.9 L697.9 125.3 L698.5 124.7 L699 124.1 L699.5 123.5 L699.9 122.9 L700.2 122.3 L700.4 121.7 L700.5 121.1 L700.6 120.5 L700.6 119.9 L700.5 119.3 L700.3 118.7 L700 118.1 L699.7 117.5 L699.2 116.9 L698.7 116.3 L698.1 115.7 L697.5 115.1 L696.7 114.5 L695.9 113.9 L695 113.3 L694 112.7 L692.9 112.1 L691.8 111.5 L692.6 110.9 L693.7 110.3 L694.7 109.7 L695.7 109.1 L696.5 108.5 L697.3 107.9 L698 107.3 L698.6 106.7 L699.1 106.1 L699.6 105.5 L699.9 104.9 L700.2 104.3 L700.4 103.7 L700.6 103.1 L700.6 102.5 L700.6 101.9 L700.4 101.3 L700.3 100.7 L700 100.1 L699.6 99.5 L699.2 98.9 L698.7 98.3 L698.1 97.7 L697.4 97.1 L696.6 96.5 L695.8 95.9 L694.9 95.3 L693.8 94.7 L692.8 94.1 L691.6 93.5 L692.8 92.9 L693.8 92.3 L694.9 91.7 L695.8 91.1 L696.6 90.5 L697.4 89.9 L698.1 89.3 L698.7 88.7 L699.2 88.1 L699.6 87.5 L700 86.9 L700.3 86.3 L700.4 85.7 L700.6 85.1 L700.6 84.5 L700.6 83.9 L700.4 83.3 L700.2 82.7 L699.9 82.1 L699.6 81.5 L699.1 80.9 L698.6 80.3 L698 79.7 L697.3 79.1 L696.5 78.5 L695.7 77.9 L694.7 77.3 L693.7 76.7 L692.6 76.1 L691.8 75.5 L692.9 74.9 L694 74.3 L695 73.7 L695.9 73.1 L696.7 72.5 L697.5 71.9 L698.1 71.3 L698.7 70.7 L699.2 70.1 L699.7 69.5 L700 68.9 L700.3 68.3 L700.5 67.7 L700.6 67.1 L700.6 66.5 L700.5 65.9 L700.4 65.3 L700.2 64.7 L699.9 64.1 L699.5 63.5 L699 62.9 L698.5 62.3 L697.9 61.7 L697.2 61.1 L696.4 60.5Z"/></clipPath>
<g clip-path="url(#th2)">
<rect x="596" y="60.5" width="106.6" height="15.5" fill="#fff"/>
<clipPath id="th2_60"><rect x="596" y="60.5" width="106.6" height="15.5"/></clipPath>
<g clip-path="url(#th2_60)" fill="none" stroke-linejoin="round">
<path d="M661.4 52.5 L652.5 53 L643.6 53.5 L634.8 54 L626.4 54.5 L618.7 55 L612 55.5 L606.4 56 L602.2 56.5 L599.4 57 L598.1 57.5 L598.4 58 L600.2 58.5 L603.6 59 L608.3 59.5 L614.3 60 L621.4 60.5 L629.3 61 L637.9 61.5 L646.8 62 L655.8 62.5 L664.5 63 L672.8 63.5 L680.4 64 L687.1 64.5 L692.5 65 L696.7 65.5 L699.4 66 L700.6 66.5 L700.1 67 L698.2 67.5 L694.7 68 L689.9 68.5 L683.8 69 L676.6 69.5 L668.6 70 L660 70.5 L651.1 71 L642.1 71.5 L633.4 72 L625.1 72.5 L617.6 73 L611 73.5 L605.7 74 L601.6 74.5 L599.1 75 L598 75.5 L598.6 76 L600.6 76.5 L604.2 77 L609.2 77.5 L615.4 78 L622.6 78.5 L630.7 79 L639.3 79.5 L648.2 80 L657.2 80.5 L665.9 81 L674.1 81.5 L681.6 82 L688 82.5 L693.3 83 L697.2 83.5 L699.7 84" stroke="#111" stroke-width="3.8"/>
<path d="M620 52.5 L625.8 53 L632.3 53.5 L639.3 54 L646.6 54.5 L654 55 L661.3 55.5 L668.2 56 L674.5 56.5 L680 57 L684.6 57.5 L688.1 58 L690.5 58.5 L691.5 59 L691.3 59.5 L689.8 60 L687 60.5 L683.1 61 L678.1 61.5 L672.3 62 L665.8 62.5 L658.7 63 L651.4 63.5 L644 64 L636.7 64.5 L629.9 65 L623.6 65.5 L618.2 66 L613.6 66.5 L610.2 67 L608 67.5 L607 68 L607.4 68.5 L609 69 L611.9 69.5 L615.9 70 L620.9 70.5 L626.8 71 L633.4 71.5 L640.5 72 L647.8 72.5 L655.2 73 L662.4 73.5 L669.2 74 L675.4 74.5 L680.8 75 L685.3 75.5 L688.6 76 L690.7 76.5 L691.6 77 L691.1 77.5 L689.4 78 L686.5 78.5 L682.4 79 L677.3 79.5 L671.3 80 L664.7 80.5 L657.6 81 L650.2 81.5 L642.8 82 L635.6 82.5 L628.8 83 L622.7 83.5 L617.4 84" stroke="#1a1a1a" stroke-width="3.2"/>
<path d="M689.6 52.5 L693.3 53 L695.6 53.5 L696.6 54 L696.1 54.5 L694.1 55 L690.8 55.5 L686.2 56 L680.5 56.5 L673.8 57 L666.4 57.5 L658.5 58 L650.2 58.5 L642 59 L633.9 59.5 L626.4 60 L619.5 60.5 L613.5 61 L608.7 61.5 L605.1 62 L602.8 62.5 L602 63 L602.6 63.5 L604.7 64 L608.1 64.5 L612.8 65 L618.6 65.5 L625.3 66 L632.8 66.5 L640.8 67 L649 67.5 L657.3 68 L665.3 68.5 L672.8 69 L679.6 69.5 L685.5 70 L690.2 70.5 L693.7 71 L695.9 71.5 L696.6 72 L695.9 72.5 L693.7 73 L690.2 73.5 L685.4 74 L679.5 74.5 L672.7 75 L665.2 75.5 L657.2 76 L648.9 76.5 L640.7 77 L632.7 77.5 L625.2 78 L618.5 78.5 L612.7 79 L608 79.5 L604.6 80 L602.6 80.5 L602 81 L602.9 81.5 L605.1 82 L608.8 82.5 L613.6 83 L619.6 83.5 L626.5 84" stroke="#333" stroke-width="1.6"/>
</g>
<rect x="596" y="76" width="106.6" height="33" fill="#080808"/>
<clipPath id="th2_76"><rect x="596" y="76" width="106.6" height="33"/></clipPath>
<g clip-path="url(#th2_76)">
<ellipse cx="649.3" cy="75.9" rx="43.3" ry="2.1" transform="rotate(1.98 649.3 75.9)" fill="#fff"/>
<ellipse cx="649.3" cy="84.8" rx="43.3" ry="1.9" transform="rotate(1.98 649.3 84.8)" fill="#fff"/>
<ellipse cx="649.3" cy="93.8" rx="43.3" ry="2.1" transform="rotate(1.98 649.3 93.8)" fill="#fff"/>
<ellipse cx="649.3" cy="102.8" rx="43.3" ry="1.9" transform="rotate(1.98 649.3 102.8)" fill="#fff"/>
<ellipse cx="649.3" cy="111.7" rx="43.3" ry="2.1" transform="rotate(1.98 649.3 111.7)" fill="#fff"/>
</g>
<rect x="596" y="109" width="106.6" height="18" fill="#fff"/>
<clipPath id="th2_109"><rect x="596" y="109" width="106.6" height="18"/></clipPath>
<g clip-path="url(#th2_109)" fill="none" stroke-linejoin="round">
<path d="M694 101 L697.7 101.5 L699.9 102 L700.6 102.5 L699.7 103 L697.2 103.5 L693.3 104 L688 104.5 L681.6 105 L674.1 105.5 L665.9 106 L657.2 106.5 L648.2 107 L639.3 107.5 L630.7 108 L622.6 108.5 L615.4 109 L609.2 109.5 L604.2 110 L600.6 110.5 L598.6 111 L598 111.5 L599.1 112 L601.6 112.5 L605.7 113 L611 113.5 L617.6 114 L625.1 114.5 L633.4 115 L642.1 115.5 L651.1 116 L660 116.5 L668.6 117 L676.6 117.5 L683.8 118 L689.9 118.5 L694.7 119 L698.2 119.5 L700.1 120 L700.6 120.5 L699.4 121 L696.7 121.5 L692.5 122 L687.1 122.5 L680.4 123 L672.8 123.5 L664.5 124 L655.8 124.5 L646.8 125 L637.9 125.5 L629.3 126 L621.4 126.5 L614.3 127 L608.3 127.5 L603.6 128 L600.2 128.5 L598.4 129 L598.1 129.5 L599.4 130 L602.2 130.5 L606.4 131 L612 131.5 L618.7 132 L626.4 132.5 L634.8 133 L643.6 133.5 L652.5 134 L661.4 134.5 L669.9 135" stroke="#111" stroke-width="3.8"/>
<path d="M627.8 101 L621.8 101.5 L616.6 102 L612.4 102.5 L609.4 103 L607.5 103.5 L607 104 L607.8 104.5 L609.8 105 L613 105.5 L617.4 106 L622.7 106.5 L628.8 107 L635.6 107.5 L642.8 108 L650.2 108.5 L657.6 109 L664.7 109.5 L671.3 110 L677.3 110.5 L682.4 111 L686.5 111.5 L689.4 112 L691.1 112.5 L691.6 113 L690.7 113.5 L688.6 114 L685.3 114.5 L680.8 115 L675.4 115.5 L669.2 116 L662.4 116.5 L655.2 117 L647.8 117.5 L640.5 118 L633.4 118.5 L626.8 119 L620.9 119.5 L615.9 120 L611.9 120.5 L609 121 L607.4 121.5 L607 122 L608 122.5 L610.2 123 L613.6 123.5 L618.2 124 L623.6 124.5 L629.9 125 L636.7 125.5 L644 126 L651.4 126.5 L658.7 127 L665.8 127.5 L672.3 128 L678.1 128.5 L683.1 129 L687 129.5 L689.8 130 L691.3 130.5 L691.5 131 L690.5 131.5 L688.1 132 L684.6 132.5 L680 133 L674.5 133.5 L668.2 134 L661.3 134.5 L654 135" stroke="#1a1a1a" stroke-width="3.2"/>
<path d="M614.5 101 L620.6 101.5 L627.6 102 L635.3 102.5 L643.4 103 L651.7 103.5 L659.9 104 L667.8 104.5 L675.1 105 L681.6 105.5 L687.1 106 L691.5 106.5 L694.6 107 L696.3 107.5 L696.5 108 L695.3 108.5 L692.7 109 L688.8 109.5 L683.6 110 L677.4 110.5 L670.4 111 L662.6 111.5 L654.5 112 L646.3 112.5 L638.1 113 L630.2 113.5 L623 114 L616.5 114.5 L611.1 115 L606.8 115.5 L603.8 116 L602.3 116.5 L602.1 117 L603.4 117.5 L606.2 118 L610.2 118.5 L615.4 119 L621.7 119.5 L628.8 120 L636.6 120.5 L644.7 121 L653 121.5 L661.2 122 L669 122.5 L676.2 123 L682.6 123.5 L687.9 124 L692.1 124.5 L694.9 125 L696.4 125.5 L696.4 126 L695 126.5 L692.2 127 L688 127.5 L682.7 128 L676.3 128.5 L669.2 129 L661.4 129.5 L653.2 130 L644.9 130.5 L636.8 131 L629 131.5 L621.9 132 L615.6 132.5 L610.3 133 L606.2 133.5 L603.5 134 L602.1 134.5 L602.2 135" stroke="#333" stroke-width="1.6"/>
</g>
<rect x="596" y="127" width="106.6" height="37" fill="#080808"/>
<clipPath id="th2_127"><rect x="596" y="127" width="106.6" height="37"/></clipPath>
<g clip-path="url(#th2_127)">
<ellipse cx="649.3" cy="129.6" rx="43.3" ry="2.1" transform="rotate(1.98 649.3 129.6)" fill="#fff"/>
<ellipse cx="649.3" cy="138.6" rx="43.3" ry="1.9" transform="rotate(1.98 649.3 138.6)" fill="#fff"/>
<ellipse cx="649.3" cy="147.6" rx="43.3" ry="2.1" transform="rotate(1.98 649.3 147.6)" fill="#fff"/>
<ellipse cx="649.3" cy="156.5" rx="43.3" ry="1.9" transform="rotate(1.98 649.3 156.5)" fill="#fff"/>
<ellipse cx="649.3" cy="165.5" rx="43.3" ry="2.1" transform="rotate(1.98 649.3 165.5)" fill="#fff"/>
</g>
<rect x="596" y="164" width="106.6" height="17" fill="#fff"/>
<clipPath id="th2_164"><rect x="596" y="164" width="106.6" height="17"/></clipPath>
<g clip-path="url(#th2_164)" fill="none" stroke-linejoin="round">
<path d="M700.4 156 L700.4 156.5 L698.7 157 L695.5 157.5 L690.9 158 L685.1 158.5 L678.1 159 L670.3 159.5 L661.8 160 L652.9 160.5 L643.9 161 L635.1 161.5 L626.7 162 L619 162.5 L612.3 163 L606.6 163.5 L602.3 164 L599.5 164.5 L598.1 165 L598.3 165.5 L600.1 166 L603.4 166.5 L608.1 167 L614.1 167.5 L621.1 168 L629 168.5 L637.5 169 L646.4 169.5 L655.4 170 L664.2 170.5 L672.5 171 L680.1 171.5 L686.8 172 L692.3 172.5 L696.6 173 L699.3 173.5 L700.5 174 L700.2 174.5 L698.3 175 L694.9 175.5 L690.1 176 L684 176.5 L676.9 177 L668.9 177.5 L660.4 178 L651.5 178.5 L642.5 179 L633.7 179.5 L625.4 180 L617.9 180.5 L611.3 181 L605.9 181.5 L601.8 182 L599.1 182.5 L598 183 L598.5 183.5 L600.5 184 L604.1 184.5 L609 185 L615.1 185.5 L622.3 186 L630.3 186.5 L638.9 187 L647.9 187.5 L656.8 188 L665.6 188.5 L673.8 189" stroke="#111" stroke-width="3.8"/>
<path d="M614.5 156 L610.8 156.5 L608.3 157 L607.1 157.5 L607.2 158 L608.6 158.5 L611.2 159 L615 159.5 L619.8 160 L625.6 160.5 L632 161 L639 161.5 L646.3 162 L653.7 162.5 L661 163 L667.9 163.5 L674.3 164 L679.8 164.5 L684.5 165 L688 165.5 L690.4 166 L691.5 166.5 L691.3 167 L689.9 167.5 L687.1 168 L683.3 168.5 L678.4 169 L672.6 169.5 L666 170 L659 170.5 L651.7 171 L644.3 171.5 L637 172 L630.1 172.5 L623.9 173 L618.4 173.5 L613.8 174 L610.3 174.5 L608.1 175 L607.1 175.5 L607.3 176 L608.9 176.5 L611.7 177 L615.7 177.5 L620.7 178 L626.5 178.5 L633.1 179 L640.2 179.5 L647.5 180 L654.9 180.5 L662.1 181 L669 181.5 L675.2 182 L680.6 182.5 L685.1 183 L688.5 183.5 L690.7 184 L691.6 184.5 L691.2 185 L689.5 185.5 L686.6 186 L682.6 186.5 L677.5 187 L671.6 187.5 L664.9 188 L657.8 188.5 L650.5 189" stroke="#1a1a1a" stroke-width="3.2"/>
<path d="M631.3 156 L639.2 156.5 L647.4 157 L655.6 157.5 L663.7 158 L671.4 158.5 L678.3 159 L684.4 159.5 L689.4 160 L693.2 160.5 L695.6 161 L696.6 161.5 L696.1 162 L694.2 162.5 L691 163 L686.4 163.5 L680.8 164 L674.1 164.5 L666.7 165 L658.8 165.5 L650.6 166 L642.3 166.5 L634.2 167 L626.7 167.5 L619.8 168 L613.8 168.5 L608.9 169 L605.2 169.5 L602.9 170 L602 170.5 L602.6 171 L604.6 171.5 L607.9 172 L612.6 172.5 L618.3 173 L625 173.5 L632.5 174 L640.5 174.5 L648.7 175 L657 175.5 L665 176 L672.5 176.5 L679.4 177 L685.3 177.5 L690.1 178 L693.6 178.5 L695.8 179 L696.6 179.5 L695.9 180 L693.8 180.5 L690.3 181 L685.6 181.5 L679.8 182 L673 182.5 L665.5 183 L657.5 183.5 L649.2 184 L641 184.5 L633 185 L625.5 185.5 L618.7 186 L612.9 186.5 L608.2 187 L604.7 187.5 L602.7 188 L602 188.5 L602.8 189" stroke="#333" stroke-width="1.6"/>
</g>
<rect x="596" y="181" width="106.6" height="53" fill="#080808"/>
<clipPath id="th2_181"><rect x="596" y="181" width="106.6" height="53"/></clipPath>
<g clip-path="url(#th2_181)">
<ellipse cx="649.3" cy="183.4" rx="43.3" ry="2.1" transform="rotate(1.98 649.3 183.4)" fill="#fff"/>
<ellipse cx="649.3" cy="192.4" rx="43.3" ry="1.9" transform="rotate(1.98 649.3 192.4)" fill="#fff"/>
<ellipse cx="649.3" cy="201.3" rx="43.3" ry="2.1" transform="rotate(1.98 649.3 201.3)" fill="#fff"/>
<ellipse cx="649.3" cy="210.3" rx="43.3" ry="1.9" transform="rotate(1.98 649.3 210.3)" fill="#fff"/>
<ellipse cx="649.3" cy="219.2" rx="43.3" ry="2.1" transform="rotate(1.98 649.3 219.2)" fill="#fff"/>
<ellipse cx="649.3" cy="228.2" rx="43.3" ry="1.9" transform="rotate(1.98 649.3 228.2)" fill="#fff"/>
</g>
<path d="M599 60.5 L599.5 61.1 L600 61.7 L600.7 62.3 L601.4 62.9 L602.2 63.5 L603.2 64.1 L604.2 64.7 L605.3 65.3 L606.5 65.9 L607.7 66.5 L607 67.1 L605.7 67.7 L604.6 68.3 L603.6 68.9 L602.6 69.5 L601.7 70.1 L601 70.7 L600.3 71.3 L599.7 71.9 L599.2 72.5 L598.8 73.1 L598.4 73.7 L598.2 74.3 L598.1 74.9 L598 75.5 L598 76.1 L598.2 76.7 L598.4 77.3 L598.7 77.9 L599.1 78.5 L599.5 79.1 L600.1 79.7 L600.8 80.3 L601.5 80.9 L602.4 81.5 L603.3 82.1 L604.3 82.7 L605.4 83.3 L606.6 83.9 L607.9 84.5 L606.8 85.1 L605.6 85.7 L604.5 86.3 L603.4 86.9 L602.5 87.5 L601.6 88.1 L600.9 88.7 L600.2 89.3 L599.6 89.9 L599.1 90.5 L598.7 91.1 L598.4 91.7 L598.2 92.3 L598 92.9 L598 93.5 L598 94.1 L598.2 94.7 L598.4 95.3 L598.7 95.9 L599.1 96.5 L599.6 97.1 L600.2 97.7 L600.9 98.3 L601.6 98.9 L602.5 99.5 L603.4 100.1 L604.5 100.7 L605.6 101.3 L606.8 101.9 L607.9 102.5 L606.6 103.1 L605.4 103.7 L604.3 104.3 L603.3 104.9 L602.4 105.5 L601.5 106.1 L600.8 106.7 L600.1 107.3 L599.5 107.9 L599.1 108.5 L598.7 109.1 L598.4 109.7 L598.2 110.3 L598 110.9 L598 111.5 L598.1 112.1 L598.2 112.7 L598.4 113.3 L598.8 113.9 L599.2 114.5 L599.7 115.1 L600.3 115.7 L601 116.3 L601.7 116.9 L602.6 117.5 L603.6 118.1 L604.6 118.7 L605.7 119.3 L607 119.9 L607.7 120.5 L606.5 121.1 L605.3 121.7 L604.2 122.3 L603.2 122.9 L602.2 123.5 L601.4 124.1 L600.7 124.7 L600 125.3 L599.5 125.9 L599 126.5 L598.6 127.1 L598.3 127.7 L598.1 128.3 L598 128.9 L598 129.5 L598.1 130.1 L598.2 130.7 L598.5 131.3 L598.8 131.9 L599.2 132.5 L599.8 133.1 L600.4 133.7 L601.1 134.3 L601.9 134.9 L602.7 135.5 L603.7 136.1 L604.7 136.7 L605.9 137.3 L607.1 137.9 L607.6 138.5 L606.3 139.1 L605.1 139.7 L604 140.3 L603 140.9 L602.1 141.5 L601.3 142.1 L600.6 142.7 L600 143.3 L599.4 143.9 L598.9 144.5 L598.6 145.1 L598.3 145.7 L598.1 146.3 L598 146.9 L598 147.5 L598.1 148.1 L598.3 148.7 L598.5 149.3 L598.9 149.9 L599.3 150.5 L599.8 151.1 L600.5 151.7 L601.2 152.3 L602 152.9 L602.9 153.5 L603.8 154.1 L604.9 154.7 L606.1 155.3 L607.3 155.9 L607.4 156.5 L606.1 157.1 L605 157.7 L603.9 158.3 L602.9 158.9 L602 159.5 L601.2 160.1 L600.5 160.7 L599.9 161.3 L599.3 161.9 L598.9 162.5 L598.5 163.1 L598.3 163.7 L598.1 164.3 L598 164.9 L598 165.5 L598.1 166.1 L598.3 166.7 L598.6 167.3 L598.9 167.9 L599.4 168.5 L599.9 169.1 L600.5 169.7 L601.3 170.3 L602.1 170.9 L603 171.5 L604 172.1 L605 172.7 L606.2 173.3 L607.5 173.9 L607.2 174.5 L606 175.1 L604.8 175.7 L603.8 176.3 L602.8 176.9 L601.9 177.5 L601.1 178.1 L600.4 178.7 L599.8 179.3 L599.3 179.9 L598.8 180.5 L598.5 181.1 L598.2 181.7 L598.1 182.3 L598 182.9 L598 183.5 L598.1 184.1 L598.3 184.7 L598.6 185.3 L599 185.9 L599.4 186.5 L600 187.1 L600.6 187.7 L601.4 188.3 L602.2 188.9 L603.1 189.5 L604.1 190.1 L605.2 190.7 L606.4 191.3 L607.6 191.9 L607 192.5 L605.8 193.1 L604.7 193.7 L603.6 194.3 L602.7 194.9 L601.8 195.5 L601 196.1 L600.3 196.7 L599.7 197.3 L599.2 197.9 L598.8 198.5 L598.5 199.1 L598.2 199.7 L598.1 200.3 L598 200.9 L598 201.5 L598.1 202.1 L598.4 202.7 L598.6 203.3 L599 203.9 L599.5 204.5 L600.1 205.1 L600.7 205.7 L601.5 206.3 L602.3 206.9 L603.2 207.5 L604.2 208.1 L605.3 208.7 L606.5 209.3 L607.8 209.9 L606.9 210.5 L605.7 211.1 L604.5 211.7 L603.5 212.3 L602.5 212.9 L601.7 213.5 L600.9 214.1 L600.2 214.7 L599.7 215.3 L599.2 215.9 L598.7 216.5 L598.4 217.1 L598.2 217.7 L598.1 218.3 L598 218.9 L598 219.5 L598.2 220.1 L598.4 220.7 L598.7 221.3 L599.1 221.9 L599.6 222.5 L600.2 223.1 L600.8 223.7 L601.6 224.3 L602.4 224.9 L603.4 225.5 L604.4 226.1 L605.5 226.7 L606.7 227.3 L608 227.9 L606.7 228.5 L605.5 229.1 L604.4 229.7 L603.4 230.3 L602.4 230.9 L601.6 231.5 L600.8 232.1 L600.2 232.7 L599.6 233.3 L599.1 233.9 L696.6 233.9 L697.3 233.3 L698 232.7 L698.6 232.1 L699.1 231.5 L699.6 230.9 L700 230.3 L700.2 229.7 L700.4 229.1 L700.6 228.5 L700.6 227.9 L700.6 227.3 L700.4 226.7 L700.2 226.1 L700 225.5 L699.6 224.9 L699.1 224.3 L698.6 223.7 L698 223.1 L697.3 222.5 L696.6 221.9 L695.7 221.3 L694.8 220.7 L693.8 220.1 L692.7 219.5 L691.7 218.9 L692.8 218.3 L693.9 217.7 L694.9 217.1 L695.8 216.5 L696.7 215.9 L697.4 215.3 L698.1 214.7 L698.7 214.1 L699.2 213.5 L699.6 212.9 L700 212.3 L700.3 211.7 L700.5 211.1 L700.6 210.5 L700.6 209.9 L700.5 209.3 L700.4 208.7 L700.2 208.1 L699.9 207.5 L699.5 206.9 L699.1 206.3 L698.5 205.7 L697.9 205.1 L697.2 204.5 L696.5 203.9 L695.6 203.3 L694.7 202.7 L693.6 202.1 L692.5 201.5 L691.8 200.9 L693 200.3 L694.1 199.7 L695 199.1 L696 198.5 L696.8 197.9 L697.5 197.3 L698.2 196.7 L698.8 196.1 L699.3 195.5 L699.7 194.9 L700 194.3 L700.3 193.7 L700.5 193.1 L700.6 192.5 L700.6 191.9 L700.5 191.3 L700.4 190.7 L700.2 190.1 L699.9 189.5 L699.5 188.9 L699 188.3 L698.5 187.7 L697.8 187.1 L697.1 186.5 L696.3 185.9 L695.5 185.3 L694.5 184.7 L693.5 184.1 L692.4 183.5 L692 182.9 L693.1 182.3 L694.2 181.7 L695.2 181.1 L696.1 180.5 L696.9 179.9 L697.6 179.3 L698.3 178.7 L698.8 178.1 L699.3 177.5 L699.7 176.9 L700.1 176.3 L700.3 175.7 L700.5 175.1 L700.6 174.5 L700.6 173.9 L700.5 173.3 L700.4 172.7 L700.1 172.1 L699.8 171.5 L699.4 170.9 L698.9 170.3 L698.4 169.7 L697.8 169.1 L697 168.5 L696.2 167.9 L695.4 167.3 L694.4 166.7 L693.4 166.1 L692.2 165.5 L692.2 164.9 L693.3 164.3 L694.3 163.7 L695.3 163.1 L696.2 162.5 L697 161.9 L697.7 161.3 L698.4 160.7 L698.9 160.1 L699.4 159.5 L699.8 158.9 L700.1 158.3 L700.4 157.7 L700.5 157.1 L700.6 156.5 L700.6 155.9 L700.5 155.3 L700.3 154.7 L700.1 154.1 L699.8 153.5 L699.4 152.9 L698.9 152.3 L698.3 151.7 L697.7 151.1 L696.9 150.5 L696.1 149.9 L695.2 149.3 L694.3 148.7 L693.2 148.1 L692.1 147.5 L692.3 146.9 L693.4 146.3 L694.5 145.7 L695.4 145.1 L696.3 144.5 L697.1 143.9 L697.8 143.3 L698.4 142.7 L699 142.1 L699.5 141.5 L699.8 140.9 L700.2 140.3 L700.4 139.7 L700.5 139.1 L700.6 138.5 L700.6 137.9 L700.5 137.3 L700.3 136.7 L700.1 136.1 L699.7 135.5 L699.3 134.9 L698.8 134.3 L698.2 133.7 L697.6 133.1 L696.8 132.5 L696 131.9 L695.1 131.3 L694.1 130.7 L693.1 130.1 L691.9 129.5 L692.5 128.9 L693.6 128.3 L694.6 127.7 L695.5 127.1 L696.4 126.5 L697.2 125.9 L697.9 125.3 L698.5 124.7 L699 124.1 L699.5 123.5 L699.9 122.9 L700.2 122.3 L700.4 121.7 L700.5 121.1 L700.6 120.5 L700.6 119.9 L700.5 119.3 L700.3 118.7 L700 118.1 L699.7 117.5 L699.2 116.9 L698.7 116.3 L698.1 115.7 L697.5 115.1 L696.7 114.5 L695.9 113.9 L695 113.3 L694 112.7 L692.9 112.1 L691.8 111.5 L692.6 110.9 L693.7 110.3 L694.7 109.7 L695.7 109.1 L696.5 108.5 L697.3 107.9 L698 107.3 L698.6 106.7 L699.1 106.1 L699.6 105.5 L699.9 104.9 L700.2 104.3 L700.4 103.7 L700.6 103.1 L700.6 102.5 L700.6 101.9 L700.4 101.3 L700.3 100.7 L700 100.1 L699.6 99.5 L699.2 98.9 L698.7 98.3 L698.1 97.7 L697.4 97.1 L696.6 96.5 L695.8 95.9 L694.9 95.3 L693.8 94.7 L692.8 94.1 L691.6 93.5 L692.8 92.9 L693.8 92.3 L694.9 91.7 L695.8 91.1 L696.6 90.5 L697.4 89.9 L698.1 89.3 L698.7 88.7 L699.2 88.1 L699.6 87.5 L700 86.9 L700.3 86.3 L700.4 85.7 L700.6 85.1 L700.6 84.5 L700.6 83.9 L700.4 83.3 L700.2 82.7 L699.9 82.1 L699.6 81.5 L699.1 80.9 L698.6 80.3 L698 79.7 L697.3 79.1 L696.5 78.5 L695.7 77.9 L694.7 77.3 L693.7 76.7 L692.6 76.1 L691.8 75.5 L692.9 74.9 L694 74.3 L695 73.7 L695.9 73.1 L696.7 72.5 L697.5 71.9 L698.1 71.3 L698.7 70.7 L699.2 70.1 L699.7 69.5 L700 68.9 L700.3 68.3 L700.5 67.7 L700.6 67.1 L700.6 66.5 L700.5 65.9 L700.4 65.3 L700.2 64.7 L699.9 64.1 L699.5 63.5 L699 62.9 L698.5 62.3 L697.9 61.7 L697.2 61.1 L696.4 60.5Z" fill="none" stroke="#000" stroke-width="2.4"/>
</g>
<line x1="599" y1="61.4" x2="699.6" y2="61.4" stroke="#000" stroke-width="2.2" stroke-linecap="butt"/>
<ellipse cx="698" cy="66.6" rx="3.1" ry="3.3" fill="#000"/>
<ellipse cx="600.6" cy="75.6" rx="3.1" ry="3.3" fill="#000"/>
<ellipse cx="698" cy="84.5" rx="3.1" ry="3.3" fill="#000"/>
<ellipse cx="600.6" cy="93.5" rx="3.1" ry="3.3" fill="#000"/>
<ellipse cx="698" cy="102.5" rx="3.1" ry="3.3" fill="#000"/>
<ellipse cx="600.6" cy="111.4" rx="3.1" ry="3.3" fill="#000"/>
<ellipse cx="698" cy="120.4" rx="3.1" ry="3.3" fill="#000"/>
<ellipse cx="600.6" cy="129.3" rx="3.1" ry="3.3" fill="#000"/>
<ellipse cx="698" cy="138.3" rx="3.1" ry="3.3" fill="#000"/>
<ellipse cx="600.6" cy="147.3" rx="3.1" ry="3.3" fill="#000"/>
<ellipse cx="698" cy="156.2" rx="3.1" ry="3.3" fill="#000"/>
<ellipse cx="600.6" cy="165.2" rx="3.1" ry="3.3" fill="#000"/>
<ellipse cx="698" cy="174.1" rx="3.1" ry="3.3" fill="#000"/>
<ellipse cx="600.6" cy="183.1" rx="3.1" ry="3.3" fill="#000"/>
<ellipse cx="698" cy="192.1" rx="3.1" ry="3.3" fill="#000"/>
<ellipse cx="600.6" cy="201" rx="3.1" ry="3.3" fill="#000"/>
<ellipse cx="698" cy="210" rx="3.1" ry="3.3" fill="#000"/>
<ellipse cx="600.6" cy="218.9" rx="3.1" ry="3.3" fill="#000"/>
<ellipse cx="698" cy="227.9" rx="3.1" ry="3.3" fill="#000"/>
<path d="M603.5 232 L696.5 232 L696.5 272 L690.5 290 L690.5 387 L606.5 387 L606.5 290 L603.5 272Z" fill="#fff"/>
<clipPath id="th3"><path d="M603.7 387 L604.8 387.6 L605.9 388.2 L607.2 388.8 L607.5 389.4 L606.3 390 L605.1 390.6 L604 391.2 L603 391.8 L602.1 392.4 L601.3 393 L600.6 393.6 L599.9 394.2 L599.4 394.8 L598.9 395.4 L598.6 396 L598.3 396.6 L598.1 397.2 L598 397.8 L598 398.4 L598.1 399 L598.3 399.6 L598.5 400.2 L598.9 400.8 L599.3 401.4 L599.9 402 L600.5 402.6 L601.2 403.2 L602 403.8 L602.9 404.4 L603.9 405 L604.9 405.6 L606.1 406.2 L607.3 406.8 L607.3 407.4 L606.1 408 L604.9 408.6 L603.9 409.2 L602.9 409.8 L602 410.4 L601.2 411 L600.5 411.6 L599.9 412.2 L599.3 412.8 L598.9 413.4 L598.5 414 L598.3 414.6 L598.1 415.2 L598 415.8 L598 416.4 L598.1 417 L598.3 417.6 L598.6 418.2 L598.9 418.8 L599.4 419.4 L599.9 420 L600.6 420.6 L601.3 421.2 L602.1 421.8 L603 422.4 L604 423 L605.1 423.6 L606.3 424.2 L607.5 424.8 L607.2 425.4 L605.9 426 L604.8 426.6 L603.7 427.2 L602.8 427.8 L601.9 428.4 L601.1 429 L600.4 429.6 L599.8 430.2 L599.3 430.8 L598.8 431.4 L598.5 432 L598.2 432.6 L598.1 433.2 L598 433.8 L598 434.4 L598.1 435 L598.3 435.6 L598.6 436.2 L599 436.8 L599.5 437.4 L600 438 L600.7 438.6 L601.4 439.2 L602.2 439.8 L603.1 440.4 L604.1 441 L605.2 441.6 L606.4 442.2 L607.7 442.8 L607 443.4 L605.8 444 L604.6 444.6 L603.6 445.2 L602.6 445.8 L601.8 446.4 L601 447 L600.3 447.6 L599.7 448.2 L599.2 448.8 L598.8 449.4 L598.4 450 L598.2 450.6 L598.1 451.2 L598 451.8 L598 452.4 L598.2 453 L598.4 453.6 L598.7 454.2 L599 454.8 L599.5 455.4 L600.1 456 L600.8 456.6 L601.5 457.2 L602.3 457.8 L603.3 458.4 L604.3 459 L605.4 459.6 L606.6 460.2 L607.9 460.8 L606.8 461.4 L605.6 462 L604.5 462.6 L603.5 463.2 L602.5 463.8 L601.7 464.4 L600.9 465 L600.2 465.6 L599.6 466.2 L599.1 466.8 L598.7 467.4 L598.4 468 L598.2 468.6 L598 469.2 L598 469.8 L598 470.4 L598.2 471 L598.4 471.6 L598.7 472.2 L599.1 472.8 L599.6 473.4 L600.2 474 L600.8 474.6 L601.6 475.2 L602.5 475.8 L603.4 476.4 L604.4 477 L605.5 477.6 L606.7 478.2 L608 478.8 L606.7 479.4 L605.5 480 L604.4 480.6 L603.3 481.2 L602.4 481.8 L601.6 482.4 L600.8 483 L600.1 483.6 L599.6 484.2 L599.1 484.8 L598.7 485.4 L598.4 486 L598.2 486.6 L598 487.2 L598 487.8 L598.1 488.4 L598.2 489 L598.4 489.6 L598.8 490.2 L599.2 490.8 L599.7 491.4 L600.3 492 L600.9 492.6 L601.7 493.2 L602.6 493.8 L603.5 494.4 L604.6 495 L605.7 495.6 L606.9 496.2 L607.8 496.8 L606.5 497.4 L605.3 498 L604.2 498.6 L603.2 499.2 L602.3 499.8 L601.4 500.4 L600.7 501 L600.1 501.6 L599.5 502.2 L599 502.8 L598.6 503.4 L598.3 504 L598.1 504.6 L598 505.2 L598 505.8 L598.1 506.4 L598.2 507 L598.5 507.6 L598.8 508.2 L599.2 508.8 L599.7 509.4 L600.3 510 L601 510.6 L601.8 511.2 L602.7 511.8 L603.7 512.4 L604.7 513 L605.9 513.6 L607.1 514.2 L607.6 514.8 L606.3 515.4 L605.2 516 L604.1 516.6 L603.1 517.2 L602.2 517.8 L601.3 518.4 L600.6 519 L600 519.6 L599.4 520.2 L599 520.8 L598.6 521.4 L598.3 522 L598.1 522.6 L598 523.2 L598 523.8 L598.1 524.4 L598.3 525 L598.5 525.6 L598.9 526.2 L599.3 526.8 L599.8 527.4 L600.4 528 L601.1 528.6 L601.9 529.2 L602.8 529.8 L603.8 530.4 L604.9 531 L606 531.6 L607.3 532.2 L607.4 532.8 L606.2 533.4 L605 534 L603.9 534.6 L602.9 535.2 L602 535.8 L601.2 536.4 L600.5 537 L599.9 537.6 L599.4 538.2 L598.9 538.8 L598.5 539.4 L598.3 540 L598.1 540.6 L598 541.2 L598 541.8 L598.1 542.4 L598.3 543 L598.5 543.6 L598.9 544.2 L599.4 544.8 L599.9 545.4 L600.5 546 L601.2 546.6 L602 547.2 L602.9 547.8 L603.9 548.4 L605 549 L606.2 549.6 L607.4 550.2 L607.3 550.8 L606 551.4 L604.9 552 L603.8 552.6 L602.8 553.2 L601.9 553.8 L601.1 554.4 L600.4 555 L599.8 555.6 L599.3 556.2 L598.9 556.8 L598.5 557.4 L598.3 558 L598.1 558.6 L598 559.2 L692 559.2 L693.2 558.6 L694.2 558 L695.2 557.4 L696.1 556.8 L696.9 556.2 L697.6 555.6 L698.3 555 L698.9 554.4 L699.3 553.8 L699.8 553.2 L700.1 552.6 L700.3 552 L700.5 551.4 L700.6 550.8 L700.6 550.2 L700.5 549.6 L700.4 549 L700.1 548.4 L699.8 547.8 L699.4 547.2 L698.9 546.6 L698.4 546 L697.7 545.4 L697 544.8 L696.2 544.2 L695.3 543.6 L694.4 543 L693.3 542.4 L692.2 541.8 L692.2 541.2 L693.3 540.6 L694.4 540 L695.3 539.4 L696.2 538.8 L697 538.2 L697.7 537.6 L698.4 537 L698.9 536.4 L699.4 535.8 L699.8 535.2 L700.1 534.6 L700.4 534 L700.5 533.4 L700.6 532.8 L700.6 532.2 L700.5 531.6 L700.3 531 L700.1 530.4 L699.8 529.8 L699.3 529.2 L698.9 528.6 L698.3 528 L697.6 527.4 L696.9 526.8 L696.1 526.2 L695.2 525.6 L694.2 525 L693.2 524.4 L692 523.8 L692.3 523.2 L693.5 522.6 L694.5 522 L695.4 521.4 L696.3 520.8 L697.1 520.2 L697.8 519.6 L698.4 519 L699 518.4 L699.5 517.8 L699.9 517.2 L700.2 516.6 L700.4 516 L700.5 515.4 L700.6 514.8 L700.6 514.2 L700.5 513.6 L700.3 513 L700 512.4 L699.7 511.8 L699.3 511.2 L698.8 510.6 L698.2 510 L697.5 509.4 L696.8 508.8 L696 508.2 L695.1 507.6 L694.1 507 L693 506.4 L691.9 505.8 L692.5 505.2 L693.6 504.6 L694.6 504 L695.6 503.4 L696.4 502.8 L697.2 502.2 L697.9 501.6 L698.5 501 L699.1 500.4 L699.5 499.8 L699.9 499.2 L700.2 498.6 L700.4 498 L700.5 497.4 L700.6 496.8 L700.6 496.2 L700.5 495.6 L700.3 495 L700 494.4 L699.7 493.8 L699.2 493.2 L698.7 492.6 L698.1 492 L697.5 491.4 L696.7 490.8 L695.9 490.2 L694.9 489.6 L694 489 L692.9 488.4 L691.7 487.8 L692.7 487.2 L693.7 486.6 L694.8 486 L695.7 485.4 L696.5 484.8 L697.3 484.2 L698 483.6 L698.6 483 L699.1 482.4 L699.6 481.8 L699.9 481.2 L700.2 480.6 L700.4 480 L700.6 479.4 L700.6 478.8 L700.6 478.2 L700.4 477.6 L700.2 477 L700 476.4 L699.6 475.8 L699.2 475.2 L698.6 474.6 L698 474 L697.4 473.4 L696.6 472.8 L695.7 472.2 L694.8 471.6 L693.8 471 L692.7 470.4 L691.6 469.8 L692.8 469.2 L693.9 468.6 L694.9 468 L695.8 467.4 L696.6 466.8 L697.4 466.2 L698.1 465.6 L698.7 465 L699.2 464.4 L699.6 463.8 L700 463.2 L700.3 462.6 L700.5 462 L700.6 461.4 L700.6 460.8 L700.6 460.2 L700.4 459.6 L700.2 459 L699.9 458.4 L699.6 457.8 L699.1 457.2 L698.6 456.6 L698 456 L697.3 455.4 L696.5 454.8 L695.6 454.2 L694.7 453.6 L693.7 453 L692.6 452.4 L691.8 451.8 L693 451.2 L694 450.6 L695 450 L695.9 449.4 L696.8 448.8 L697.5 448.2 L698.2 447.6 L698.8 447 L699.3 446.4 L699.7 445.8 L700 445.2 L700.3 444.6 L700.5 444 L700.6 443.4 L700.6 442.8 L700.5 442.2 L700.4 441.6 L700.2 441 L699.9 440.4 L699.5 439.8 L699 439.2 L698.5 438.6 L697.9 438 L697.2 437.4 L696.4 436.8 L695.5 436.2 L694.6 435.6 L693.5 435 L692.4 434.4 L692 433.8 L693.1 433.2 L694.2 432.6 L695.1 432 L696 431.4 L696.9 430.8 L697.6 430.2 L698.2 429.6 L698.8 429 L699.3 428.4 L699.7 427.8 L700.1 427.2 L700.3 426.6 L700.5 426 L700.6 425.4 L700.6 424.8 L700.5 424.2 L700.4 423.6 L700.1 423 L699.8 422.4 L699.4 421.8 L699 421.2 L698.4 420.6 L697.8 420 L697.1 419.4 L696.3 418.8 L695.4 418.2 L694.4 417.6 L693.4 417 L692.3 416.4 L692.1 415.8 L693.2 415.2 L694.3 414.6 L695.3 414 L696.2 413.4 L697 412.8 L697.7 412.2 L698.3 411.6 L698.9 411 L699.4 410.4 L699.8 409.8 L700.1 409.2 L700.3 408.6 L700.5 408 L700.6 407.4 L700.6 406.8 L700.5 406.2 L700.3 405.6 L700.1 405 L699.8 404.4 L699.4 403.8 L698.9 403.2 L698.3 402.6 L697.7 402 L697 401.4 L696.2 400.8 L695.3 400.2 L694.3 399.6 L693.2 399 L692.1 398.4 L692.3 397.8 L693.4 397.2 L694.4 396.6 L695.4 396 L696.3 395.4 L697.1 394.8 L697.8 394.2 L698.4 393.6 L699 393 L699.4 392.4 L699.8 391.8 L700.1 391.2 L700.4 390.6 L700.5 390 L700.6 389.4 L700.6 388.8 L700.5 388.2 L700.3 387.6 L700.1 387Z"/></clipPath>
<g clip-path="url(#th3)">
<rect x="596" y="387" width="106.6" height="172.5" fill="#fff"/>
<clipPath id="th3_387"><rect x="596" y="387" width="106.6" height="172.5"/></clipPath>
<g clip-path="url(#th3_387)" fill="none" stroke-linejoin="round">
<path d="M602.6 379 L599.6 379.5 L598.2 380 L598.2 380.5 L599.9 381 L603.1 381.5 L607.7 382 L613.5 382.5 L620.5 383 L628.3 383.5 L636.8 384 L645.7 384.5 L654.7 385 L663.5 385.5 L671.9 386 L679.6 386.5 L686.3 387 L692 387.5 L696.3 388 L699.1 388.5 L700.5 389 L700.3 389.5 L698.5 390 L695.2 390.5 L690.5 391 L684.5 391.5 L677.5 392 L669.6 392.5 L661.1 393 L652.2 393.5 L643.2 394 L634.4 394.5 L626.1 395 L618.5 395.5 L611.8 396 L606.3 396.5 L602 397 L599.3 397.5 L598.1 398 L598.4 398.5 L600.3 399 L603.7 399.5 L608.5 400 L614.6 400.5 L621.7 401 L629.7 401.5 L638.2 402 L647.1 402.5 L656.1 403 L664.9 403.5 L673.2 404 L680.7 404.5 L687.3 405 L692.7 405.5 L696.8 406 L699.5 406.5 L700.6 407 L700.1 407.5 L698.1 408 L694.5 408.5 L689.6 409 L683.5 409.5 L676.3 410 L668.3 410.5 L659.7 411 L650.7 411.5 L641.8 412 L633 412.5 L624.8 413 L617.3 413.5 L610.8 414 L605.5 414.5 L601.5 415 L599 415.5 L598 416 L598.6 416.5 L600.8 417 L604.4 417.5 L609.4 418 L615.7 418.5 L622.9 419 L631 419.5 L639.6 420 L648.6 420.5 L657.5 421 L666.2 421.5 L674.4 422 L681.8 422.5 L688.3 423 L693.5 423.5 L697.4 424 L699.7 424.5 L700.6 425 L699.9 425.5 L697.6 426 L693.8 426.5 L688.7 427 L682.4 427.5 L675.1 428 L666.9 428.5 L658.2 429 L649.3 429.5 L640.4 430 L631.7 430.5 L623.5 431 L616.2 431.5 L609.9 432 L604.8 432.5 L601 433 L598.7 433.5 L598 434 L598.9 434.5 L601.2 435 L605.1 435.5 L610.3 436 L616.8 436.5 L624.2 437 L632.4 437.5 L641.1 438 L650 438.5 L659 439 L667.6 439.5 L675.7 440 L682.9 440.5 L689.2 441 L694.2 441.5 L697.8 442 L700 442.5 L700.6 443 L699.6 443.5 L697.1 444 L693.1 444.5 L687.8 445 L681.3 445.5 L673.8 446 L665.6 446.5 L656.8 447 L647.9 447.5 L638.9 448 L630.3 448.5 L622.3 449 L615.1 449.5 L609 450 L604.1 450.5 L600.5 451 L598.5 451.5 L598 452 L599.1 452.5 L601.8 453 L605.9 453.5 L611.3 454 L617.9 454.5 L625.4 455 L633.7 455.5 L642.5 456 L651.5 456.5 L660.4 457 L668.9 457.5 L676.9 458 L684 458.5 L690.1 459 L694.9 459.5 L698.3 460 L700.2 460.5 L700.5 461 L699.3 461.5 L696.6 462 L692.3 462.5 L686.8 463 L680.1 463.5 L672.5 464 L664.2 464.5 L655.4 465 L646.4 465.5 L637.5 466 L629 466.5 L621.1 467 L614.1 467.5 L608.1 468 L603.4 468.5 L600.1 469 L598.3 469.5 L598.1 470 L599.5 470.5 L602.3 471 L606.6 471.5 L612.3 472 L619 472.5 L626.7 473 L635.1 473.5 L643.9 474 L652.9 474.5 L661.8 475 L670.3 475.5 L678.1 476 L685.1 476.5 L690.9 477 L695.5 477.5 L698.7 478 L700.4 478.5 L700.4 479 L699 479.5 L696 480 L691.6 480.5 L685.8 481 L679 481.5 L671.2 482 L662.8 482.5 L654 483 L645 483.5 L636.1 484 L627.7 484.5 L619.9 485 L613 485.5 L607.3 486 L602.8 486.5 L599.7 487 L598.2 487.5 L598.2 488 L599.8 488.5 L602.9 489 L607.5 489.5 L613.3 490 L620.2 490.5 L628 491 L636.5 491.5 L645.3 492 L654.3 492.5 L663.2 493 L671.6 493.5 L679.3 494 L686.1 494.5 L691.8 495 L696.1 495.5 L699.1 496 L700.5 496.5 L700.3 497 L698.6 497.5 L695.4 498 L690.7 498.5 L684.8 499 L677.8 499.5 L669.9 500 L661.4 500.5 L652.5 501 L643.6 501.5 L634.8 502 L626.4 502.5 L618.7 503 L612 503.5 L606.4 504 L602.2 504.5 L599.4 505 L598.1 505.5 L598.4 506 L600.2 506.5 L603.6 507 L608.3 507.5 L614.3 508 L621.4 508.5 L629.3 509 L637.9 509.5 L646.8 510 L655.8 510.5 L664.5 511 L672.8 511.5 L680.4 512 L687.1 512.5 L692.5 513 L696.7 513.5 L699.4 514 L700.6 514.5 L700.1 515 L698.2 515.5 L694.7 516 L689.9 516.5 L683.8 517 L676.6 517.5 L668.6 518 L660 518.5 L651.1 519 L642.1 519.5 L633.4 520 L625.1 520.5 L617.6 521 L611 521.5 L605.7 522 L601.6 522.5 L599.1 523 L598 523.5 L598.6 524 L600.6 524.5 L604.2 525 L609.2 525.5 L615.4 526 L622.6 526.5 L630.7 527 L639.3 527.5 L648.2 528 L657.2 528.5 L665.9 529 L674.1 529.5 L681.6 530 L688 530.5 L693.3 531 L697.2 531.5 L699.7 532 L700.6 532.5 L699.9 533 L697.7 533.5 L694 534 L689 534.5 L682.7 535 L675.4 535.5 L667.3 536 L658.6 536.5 L649.7 537 L640.7 537.5 L632 538 L623.9 538.5 L616.5 539 L610.1 539.5 L604.9 540 L601.1 540.5 L598.8 541 L598 541.5 L598.8 542 L601.1 542.5 L604.9 543 L610.1 543.5 L616.5 544 L623.9 544.5 L632 545 L640.7 545.5 L649.7 546 L658.6 546.5 L667.3 547 L675.4 547.5 L682.7 548 L689 548.5 L694 549 L697.7 549.5 L699.9 550 L700.6 550.5 L699.7 551 L697.2 551.5 L693.3 552 L688 552.5 L681.6 553 L674.1 553.5 L665.9 554 L657.2 554.5 L648.2 555 L639.3 555.5 L630.7 556 L622.6 556.5 L615.4 557 L609.2 557.5 L604.2 558 L600.6 558.5 L598.6 559 L598 559.5 L599.1 560 L601.6 560.5 L605.7 561 L611 561.5 L617.6 562 L625.1 562.5 L633.4 563 L642.1 563.5 L651.1 564 L660 564.5 L668.6 565 L676.6 565.5 L683.8 566 L689.9 566.5 L694.7 567 L698.2 567.5" stroke="#1e1e1e" stroke-width="2.7"/>
<path d="M673.8 379 L679.4 379.5 L684.1 380 L687.8 380.5 L690.3 381 L691.5 381.5 L691.4 382 L690 382.5 L687.4 383 L683.6 383.5 L678.8 384 L673 384.5 L666.6 385 L659.6 385.5 L652.3 386 L644.9 386.5 L637.6 387 L630.7 387.5 L624.3 388 L618.8 388.5 L614.1 389 L610.6 389.5 L608.2 390 L607.1 390.5 L607.3 391 L608.7 391.5 L611.5 392 L615.3 392.5 L620.2 393 L626 393.5 L632.6 394 L639.6 394.5 L646.9 395 L654.3 395.5 L661.6 396 L668.5 396.5 L674.7 397 L680.2 397.5 L684.8 398 L688.3 398.5 L690.5 399 L691.5 399.5 L691.3 400 L689.7 400.5 L686.9 401 L682.9 401.5 L677.9 402 L672.1 402.5 L665.5 403 L658.4 403.5 L651.1 404 L643.7 404.5 L636.5 405 L629.6 405.5 L623.4 406 L618 406.5 L613.5 407 L610.1 407.5 L607.9 408 L607 408.5 L607.4 409 L609.1 409.5 L612 410 L616 410.5 L621.1 411 L627 411.5 L633.7 412 L640.8 412.5 L648.1 413 L655.5 413.5 L662.7 414 L669.5 414.5 L675.7 415 L681 415.5 L685.4 416 L688.7 416.5 L690.8 417 L691.6 417.5 L691.1 418 L689.3 418.5 L686.3 419 L682.2 419.5 L677 420 L671 420.5 L664.4 421 L657.3 421.5 L649.9 422 L642.5 422.5 L635.3 423 L628.6 423.5 L622.5 424 L617.2 424.5 L612.9 425 L609.7 425.5 L607.7 426 L607 426.5 L607.6 427 L609.5 427.5 L612.6 428 L616.8 428.5 L622 429 L628.1 429.5 L634.8 430 L641.9 430.5 L649.3 431 L656.7 431.5 L663.8 432 L670.5 432.5 L676.6 433 L681.8 433.5 L686 434 L689.1 434.5 L691 435 L691.6 435.5 L690.9 436 L688.9 436.5 L685.7 437 L681.4 437.5 L676.1 438 L670 438.5 L663.3 439 L656.1 439.5 L648.7 440 L641.3 440.5 L634.2 441 L627.6 441.5 L621.6 442 L616.4 442.5 L612.3 443 L609.3 443.5 L607.5 444 L607 444.5 L607.8 445 L609.9 445.5 L613.2 446 L617.6 446.5 L622.9 447 L629.1 447.5 L635.9 448 L643.1 448.5 L650.5 449 L657.8 449.5 L664.9 450 L671.6 450.5 L677.5 451 L682.6 451.5 L686.6 452 L689.5 452.5 L691.2 453 L691.6 453.5 L690.7 454 L688.5 454.5 L685.1 455 L680.6 455.5 L675.2 456 L669 456.5 L662.1 457 L654.9 457.5 L647.5 458 L640.2 458.5 L633.1 459 L626.5 459.5 L620.7 460 L615.7 460.5 L611.7 461 L608.9 461.5 L607.3 462 L607.1 462.5 L608.1 463 L610.3 463.5 L613.8 464 L618.4 464.5 L623.9 465 L630.1 465.5 L637 466 L644.3 466.5 L651.7 467 L659 467.5 L666 468 L672.6 468.5 L678.4 469 L683.3 469.5 L687.1 470 L689.9 470.5 L691.3 471 L691.5 471.5 L690.4 472 L688 472.5 L684.5 473 L679.8 473.5 L674.3 474 L667.9 474.5 L661 475 L653.7 475.5 L646.3 476 L639 476.5 L632 477 L625.6 477.5 L619.8 478 L615 478.5 L611.2 479 L608.6 479.5 L607.2 480 L607.1 480.5 L608.3 481 L610.8 481.5 L614.5 482 L619.2 482.5 L624.8 483 L631.2 483.5 L638.2 484 L645.4 484.5 L652.9 485 L660.2 485.5 L667.1 486 L673.5 486.5 L679.2 487 L684 487.5 L687.7 488 L690.2 488.5 L691.5 489 L691.4 489.5 L690.1 490 L687.5 490.5 L683.8 491 L679 491.5 L673.3 492 L666.8 492.5 L659.9 493 L652.6 493.5 L645.2 494 L637.9 494.5 L630.9 495 L624.6 495.5 L619 496 L614.3 496.5 L610.7 497 L608.3 497.5 L607.1 498 L607.2 498.5 L608.7 499 L611.3 499.5 L615.1 500 L620 500.5 L625.8 501 L632.3 501.5 L639.3 502 L646.6 502.5 L654 503 L661.3 503.5 L668.2 504 L674.5 504.5 L680 505 L684.6 505.5 L688.1 506 L690.5 506.5 L691.5 507 L691.3 507.5 L689.8 508 L687 508.5 L683.1 509 L678.1 509.5 L672.3 510 L665.8 510.5 L658.7 511 L651.4 511.5 L644 512 L636.7 512.5 L629.9 513 L623.6 513.5 L618.2 514 L613.6 514.5 L610.2 515 L608 515.5 L607 516 L607.4 516.5 L609 517 L611.9 517.5 L615.9 518 L620.9 518.5 L626.8 519 L633.4 519.5 L640.5 520 L647.8 520.5 L655.2 521 L662.4 521.5 L669.2 522 L675.4 522.5 L680.8 523 L685.3 523.5 L688.6 524 L690.7 524.5 L691.6 525 L691.1 525.5 L689.4 526 L686.5 526.5 L682.4 527 L677.3 527.5 L671.3 528 L664.7 528.5 L657.6 529 L650.2 529.5 L642.8 530 L635.6 530.5 L628.8 531 L622.7 531.5 L617.4 532 L613 532.5 L609.8 533 L607.8 533.5 L607 534 L607.5 534.5 L609.4 535 L612.4 535.5 L616.6 536 L621.8 536.5 L627.8 537 L634.5 537.5 L641.6 538 L649 538.5 L656.4 539 L663.6 539.5 L670.3 540 L676.4 540.5 L681.6 541 L685.9 541.5 L689 542 L691 542.5 L691.6 543 L691 543.5 L689 544 L685.9 544.5 L681.6 545 L676.4 545.5 L670.3 546 L663.6 546.5 L656.4 547 L649 547.5 L641.6 548 L634.5 548.5 L627.8 549 L621.8 549.5 L616.6 550 L612.4 550.5 L609.4 551 L607.5 551.5 L607 552 L607.8 552.5 L609.8 553 L613 553.5 L617.4 554 L622.7 554.5 L628.8 555 L635.6 555.5 L642.8 556 L650.2 556.5 L657.6 557 L664.7 557.5 L671.3 558 L677.3 558.5 L682.4 559 L686.5 559.5 L689.4 560 L691.1 560.5 L691.6 561 L690.7 561.5 L688.6 562 L685.3 562.5 L680.8 563 L675.4 563.5 L669.2 564 L662.4 564.5 L655.2 565 L647.8 565.5 L640.5 566 L633.4 566.5 L626.8 567 L620.9 567.5" stroke="#2c2c2c" stroke-width="2.2"/>
<path d="M681.3 379 L674.7 379.5 L667.3 380 L659.4 380.5 L651.2 381 L643 381.5 L634.9 382 L627.2 382.5 L620.3 383 L614.2 383.5 L609.2 384 L605.4 384.5 L603 385 L602 385.5 L602.5 386 L604.4 386.5 L607.6 387 L612.2 387.5 L617.8 388 L624.5 388.5 L631.9 389 L639.8 389.5 L648 390 L656.3 390.5 L664.4 391 L671.9 391.5 L678.8 392 L684.8 392.5 L689.7 393 L693.4 393.5 L695.7 394 L696.6 394.5 L696 395 L694 395.5 L690.7 396 L686 396.5 L680.3 397 L673.6 397.5 L666.1 398 L658.1 398.5 L649.9 399 L641.6 399.5 L633.6 400 L626.1 400.5 L619.2 401 L613.3 401.5 L608.5 402 L605 402.5 L602.8 403 L602 403.5 L602.7 404 L604.8 404.5 L608.3 405 L613 405.5 L618.8 406 L625.6 406.5 L633.1 407 L641.1 407.5 L649.4 408 L657.6 408.5 L665.6 409 L673.1 409.5 L679.9 410 L685.7 410.5 L690.4 411 L693.9 411.5 L695.9 412 L696.6 412.5 L695.8 413 L693.6 413.5 L690 414 L685.2 414.5 L679.3 415 L672.4 415.5 L664.9 416 L656.8 416.5 L648.6 417 L640.3 417.5 L632.4 418 L624.9 418.5 L618.2 419 L612.5 419.5 L607.9 420 L604.5 420.5 L602.6 421 L602 421.5 L602.9 422 L605.3 422.5 L608.9 423 L613.9 423.5 L619.9 424 L626.8 424.5 L634.4 425 L642.4 425.5 L650.7 426 L658.9 426.5 L666.8 427 L674.2 427.5 L680.9 428 L686.5 428.5 L691 429 L694.3 429.5 L696.1 430 L696.6 430.5 L695.5 431 L693.1 431.5 L689.3 432 L684.3 432.5 L678.2 433 L671.2 433.5 L663.6 434 L655.5 434.5 L647.2 435 L639 435.5 L631.1 436 L623.8 436.5 L617.2 437 L611.7 437.5 L607.2 438 L604.1 438.5 L602.4 439 L602.1 439.5 L603.2 440 L605.8 440.5 L609.6 441 L614.7 441.5 L620.9 442 L627.9 442.5 L635.6 443 L643.7 443.5 L652 444 L660.2 444.5 L668.1 445 L675.4 445.5 L681.8 446 L687.3 446.5 L691.7 447 L694.7 447.5 L696.3 448 L696.5 448.5 L695.2 449 L692.6 449.5 L688.6 450 L683.4 450.5 L677.2 451 L670.1 451.5 L662.3 452 L654.2 452.5 L645.9 453 L637.7 453.5 L629.9 454 L622.7 454.5 L616.3 455 L610.9 455.5 L606.7 456 L603.7 456.5 L602.2 457 L602.1 457.5 L603.5 458 L606.3 458.5 L610.4 459 L615.7 459.5 L622 460 L629.1 460.5 L636.9 461 L645.1 461.5 L653.3 462 L661.5 462.5 L669.3 463 L676.5 463.5 L682.8 464 L688.1 464.5 L692.2 465 L695 465.5 L696.4 466 L696.4 466.5 L694.9 467 L692 467.5 L687.8 468 L682.5 468.5 L676.1 469 L668.9 469.5 L661.1 470 L652.9 470.5 L644.6 471 L636.5 471.5 L628.7 472 L621.6 472.5 L615.3 473 L610.1 473.5 L606.1 474 L603.4 474.5 L602.1 475 L602.3 475.5 L603.9 476 L606.9 476.5 L611.2 477 L616.6 477.5 L623.1 478 L630.3 478.5 L638.2 479 L646.4 479.5 L654.7 480 L662.8 480.5 L670.5 481 L677.5 481.5 L683.7 482 L688.8 482.5 L692.8 483 L695.4 483.5 L696.5 484 L696.3 484.5 L694.5 485 L691.4 485.5 L687.1 486 L681.5 486.5 L675 487 L667.6 487.5 L659.8 488 L651.6 488.5 L643.3 489 L635.2 489.5 L627.5 490 L620.5 490.5 L614.4 491 L609.4 491.5 L605.6 492 L603.1 492.5 L602 493 L602.4 493.5 L604.3 494 L607.5 494.5 L612 495 L617.6 495.5 L624.2 496 L631.6 496.5 L639.5 497 L647.7 497.5 L656 498 L664 498.5 L671.7 499 L678.6 499.5 L684.6 500 L689.6 500.5 L693.3 501 L695.6 501.5 L696.6 502 L696.1 502.5 L694.1 503 L690.8 503.5 L686.2 504 L680.5 504.5 L673.8 505 L666.4 505.5 L658.5 506 L650.2 506.5 L642 507 L633.9 507.5 L626.4 508 L619.5 508.5 L613.5 509 L608.7 509.5 L605.1 510 L602.8 510.5 L602 511 L602.6 511.5 L604.7 512 L608.1 512.5 L612.8 513 L618.6 513.5 L625.3 514 L632.8 514.5 L640.8 515 L649 515.5 L657.3 516 L665.3 516.5 L672.8 517 L679.6 517.5 L685.5 518 L690.2 518.5 L693.7 519 L695.9 519.5 L696.6 520 L695.9 520.5 L693.7 521 L690.2 521.5 L685.4 522 L679.5 522.5 L672.7 523 L665.2 523.5 L657.2 524 L648.9 524.5 L640.7 525 L632.7 525.5 L625.2 526 L618.5 526.5 L612.7 527 L608 527.5 L604.6 528 L602.6 528.5 L602 529 L602.9 529.5 L605.1 530 L608.8 530.5 L613.6 531 L619.6 531.5 L626.5 532 L634.1 532.5 L642.1 533 L650.4 533.5 L658.6 534 L666.5 534.5 L674 535 L680.6 535.5 L686.3 536 L690.9 536.5 L694.2 537 L696.1 537.5 L696.6 538 L695.6 538.5 L693.2 539 L689.5 539.5 L684.5 540 L678.5 540.5 L671.5 541 L663.9 541.5 L655.8 542 L647.6 542.5 L639.4 543 L631.4 543.5 L624.1 544 L617.5 544.5 L611.9 545 L607.4 545.5 L604.2 546 L602.4 546.5 L602 547 L603.1 547.5 L605.6 548 L609.5 548.5 L614.5 549 L620.6 549.5 L627.6 550 L635.3 550.5 L643.4 551 L651.7 551.5 L659.9 552 L667.8 552.5 L675.1 553 L681.6 553.5 L687.1 554 L691.5 554.5 L694.6 555 L696.3 555.5 L696.5 556 L695.3 556.5 L692.7 557 L688.8 557.5 L683.6 558 L677.4 558.5 L670.4 559 L662.6 559.5 L654.5 560 L646.3 560.5 L638.1 561 L630.2 561.5 L623 562 L616.5 562.5 L611.1 563 L606.8 563.5 L603.8 564 L602.3 564.5 L602.1 565 L603.4 565.5 L606.2 566 L610.2 566.5 L615.4 567 L621.7 567.5" stroke="#4a4a4a" stroke-width="1.1"/>
</g>
<path d="M603.7 387 L604.8 387.6 L605.9 388.2 L607.2 388.8 L607.5 389.4 L606.3 390 L605.1 390.6 L604 391.2 L603 391.8 L602.1 392.4 L601.3 393 L600.6 393.6 L599.9 394.2 L599.4 394.8 L598.9 395.4 L598.6 396 L598.3 396.6 L598.1 397.2 L598 397.8 L598 398.4 L598.1 399 L598.3 399.6 L598.5 400.2 L598.9 400.8 L599.3 401.4 L599.9 402 L600.5 402.6 L601.2 403.2 L602 403.8 L602.9 404.4 L603.9 405 L604.9 405.6 L606.1 406.2 L607.3 406.8 L607.3 407.4 L606.1 408 L604.9 408.6 L603.9 409.2 L602.9 409.8 L602 410.4 L601.2 411 L600.5 411.6 L599.9 412.2 L599.3 412.8 L598.9 413.4 L598.5 414 L598.3 414.6 L598.1 415.2 L598 415.8 L598 416.4 L598.1 417 L598.3 417.6 L598.6 418.2 L598.9 418.8 L599.4 419.4 L599.9 420 L600.6 420.6 L601.3 421.2 L602.1 421.8 L603 422.4 L604 423 L605.1 423.6 L606.3 424.2 L607.5 424.8 L607.2 425.4 L605.9 426 L604.8 426.6 L603.7 427.2 L602.8 427.8 L601.9 428.4 L601.1 429 L600.4 429.6 L599.8 430.2 L599.3 430.8 L598.8 431.4 L598.5 432 L598.2 432.6 L598.1 433.2 L598 433.8 L598 434.4 L598.1 435 L598.3 435.6 L598.6 436.2 L599 436.8 L599.5 437.4 L600 438 L600.7 438.6 L601.4 439.2 L602.2 439.8 L603.1 440.4 L604.1 441 L605.2 441.6 L606.4 442.2 L607.7 442.8 L607 443.4 L605.8 444 L604.6 444.6 L603.6 445.2 L602.6 445.8 L601.8 446.4 L601 447 L600.3 447.6 L599.7 448.2 L599.2 448.8 L598.8 449.4 L598.4 450 L598.2 450.6 L598.1 451.2 L598 451.8 L598 452.4 L598.2 453 L598.4 453.6 L598.7 454.2 L599 454.8 L599.5 455.4 L600.1 456 L600.8 456.6 L601.5 457.2 L602.3 457.8 L603.3 458.4 L604.3 459 L605.4 459.6 L606.6 460.2 L607.9 460.8 L606.8 461.4 L605.6 462 L604.5 462.6 L603.5 463.2 L602.5 463.8 L601.7 464.4 L600.9 465 L600.2 465.6 L599.6 466.2 L599.1 466.8 L598.7 467.4 L598.4 468 L598.2 468.6 L598 469.2 L598 469.8 L598 470.4 L598.2 471 L598.4 471.6 L598.7 472.2 L599.1 472.8 L599.6 473.4 L600.2 474 L600.8 474.6 L601.6 475.2 L602.5 475.8 L603.4 476.4 L604.4 477 L605.5 477.6 L606.7 478.2 L608 478.8 L606.7 479.4 L605.5 480 L604.4 480.6 L603.3 481.2 L602.4 481.8 L601.6 482.4 L600.8 483 L600.1 483.6 L599.6 484.2 L599.1 484.8 L598.7 485.4 L598.4 486 L598.2 486.6 L598 487.2 L598 487.8 L598.1 488.4 L598.2 489 L598.4 489.6 L598.8 490.2 L599.2 490.8 L599.7 491.4 L600.3 492 L600.9 492.6 L601.7 493.2 L602.6 493.8 L603.5 494.4 L604.6 495 L605.7 495.6 L606.9 496.2 L607.8 496.8 L606.5 497.4 L605.3 498 L604.2 498.6 L603.2 499.2 L602.3 499.8 L601.4 500.4 L600.7 501 L600.1 501.6 L599.5 502.2 L599 502.8 L598.6 503.4 L598.3 504 L598.1 504.6 L598 505.2 L598 505.8 L598.1 506.4 L598.2 507 L598.5 507.6 L598.8 508.2 L599.2 508.8 L599.7 509.4 L600.3 510 L601 510.6 L601.8 511.2 L602.7 511.8 L603.7 512.4 L604.7 513 L605.9 513.6 L607.1 514.2 L607.6 514.8 L606.3 515.4 L605.2 516 L604.1 516.6 L603.1 517.2 L602.2 517.8 L601.3 518.4 L600.6 519 L600 519.6 L599.4 520.2 L599 520.8 L598.6 521.4 L598.3 522 L598.1 522.6 L598 523.2 L598 523.8 L598.1 524.4 L598.3 525 L598.5 525.6 L598.9 526.2 L599.3 526.8 L599.8 527.4 L600.4 528 L601.1 528.6 L601.9 529.2 L602.8 529.8 L603.8 530.4 L604.9 531 L606 531.6 L607.3 532.2 L607.4 532.8 L606.2 533.4 L605 534 L603.9 534.6 L602.9 535.2 L602 535.8 L601.2 536.4 L600.5 537 L599.9 537.6 L599.4 538.2 L598.9 538.8 L598.5 539.4 L598.3 540 L598.1 540.6 L598 541.2 L598 541.8 L598.1 542.4 L598.3 543 L598.5 543.6 L598.9 544.2 L599.4 544.8 L599.9 545.4 L600.5 546 L601.2 546.6 L602 547.2 L602.9 547.8 L603.9 548.4 L605 549 L606.2 549.6 L607.4 550.2 L607.3 550.8 L606 551.4 L604.9 552 L603.8 552.6 L602.8 553.2 L601.9 553.8 L601.1 554.4 L600.4 555 L599.8 555.6 L599.3 556.2 L598.9 556.8 L598.5 557.4 L598.3 558 L598.1 558.6 L598 559.2 L692 559.2 L693.2 558.6 L694.2 558 L695.2 557.4 L696.1 556.8 L696.9 556.2 L697.6 555.6 L698.3 555 L698.9 554.4 L699.3 553.8 L699.8 553.2 L700.1 552.6 L700.3 552 L700.5 551.4 L700.6 550.8 L700.6 550.2 L700.5 549.6 L700.4 549 L700.1 548.4 L699.8 547.8 L699.4 547.2 L698.9 546.6 L698.4 546 L697.7 545.4 L697 544.8 L696.2 544.2 L695.3 543.6 L694.4 543 L693.3 542.4 L692.2 541.8 L692.2 541.2 L693.3 540.6 L694.4 540 L695.3 539.4 L696.2 538.8 L697 538.2 L697.7 537.6 L698.4 537 L698.9 536.4 L699.4 535.8 L699.8 535.2 L700.1 534.6 L700.4 534 L700.5 533.4 L700.6 532.8 L700.6 532.2 L700.5 531.6 L700.3 531 L700.1 530.4 L699.8 529.8 L699.3 529.2 L698.9 528.6 L698.3 528 L697.6 527.4 L696.9 526.8 L696.1 526.2 L695.2 525.6 L694.2 525 L693.2 524.4 L692 523.8 L692.3 523.2 L693.5 522.6 L694.5 522 L695.4 521.4 L696.3 520.8 L697.1 520.2 L697.8 519.6 L698.4 519 L699 518.4 L699.5 517.8 L699.9 517.2 L700.2 516.6 L700.4 516 L700.5 515.4 L700.6 514.8 L700.6 514.2 L700.5 513.6 L700.3 513 L700 512.4 L699.7 511.8 L699.3 511.2 L698.8 510.6 L698.2 510 L697.5 509.4 L696.8 508.8 L696 508.2 L695.1 507.6 L694.1 507 L693 506.4 L691.9 505.8 L692.5 505.2 L693.6 504.6 L694.6 504 L695.6 503.4 L696.4 502.8 L697.2 502.2 L697.9 501.6 L698.5 501 L699.1 500.4 L699.5 499.8 L699.9 499.2 L700.2 498.6 L700.4 498 L700.5 497.4 L700.6 496.8 L700.6 496.2 L700.5 495.6 L700.3 495 L700 494.4 L699.7 493.8 L699.2 493.2 L698.7 492.6 L698.1 492 L697.5 491.4 L696.7 490.8 L695.9 490.2 L694.9 489.6 L694 489 L692.9 488.4 L691.7 487.8 L692.7 487.2 L693.7 486.6 L694.8 486 L695.7 485.4 L696.5 484.8 L697.3 484.2 L698 483.6 L698.6 483 L699.1 482.4 L699.6 481.8 L699.9 481.2 L700.2 480.6 L700.4 480 L700.6 479.4 L700.6 478.8 L700.6 478.2 L700.4 477.6 L700.2 477 L700 476.4 L699.6 475.8 L699.2 475.2 L698.6 474.6 L698 474 L697.4 473.4 L696.6 472.8 L695.7 472.2 L694.8 471.6 L693.8 471 L692.7 470.4 L691.6 469.8 L692.8 469.2 L693.9 468.6 L694.9 468 L695.8 467.4 L696.6 466.8 L697.4 466.2 L698.1 465.6 L698.7 465 L699.2 464.4 L699.6 463.8 L700 463.2 L700.3 462.6 L700.5 462 L700.6 461.4 L700.6 460.8 L700.6 460.2 L700.4 459.6 L700.2 459 L699.9 458.4 L699.6 457.8 L699.1 457.2 L698.6 456.6 L698 456 L697.3 455.4 L696.5 454.8 L695.6 454.2 L694.7 453.6 L693.7 453 L692.6 452.4 L691.8 451.8 L693 451.2 L694 450.6 L695 450 L695.9 449.4 L696.8 448.8 L697.5 448.2 L698.2 447.6 L698.8 447 L699.3 446.4 L699.7 445.8 L700 445.2 L700.3 444.6 L700.5 444 L700.6 443.4 L700.6 442.8 L700.5 442.2 L700.4 441.6 L700.2 441 L699.9 440.4 L699.5 439.8 L699 439.2 L698.5 438.6 L697.9 438 L697.2 437.4 L696.4 436.8 L695.5 436.2 L694.6 435.6 L693.5 435 L692.4 434.4 L692 433.8 L693.1 433.2 L694.2 432.6 L695.1 432 L696 431.4 L696.9 430.8 L697.6 430.2 L698.2 429.6 L698.8 429 L699.3 428.4 L699.7 427.8 L700.1 427.2 L700.3 426.6 L700.5 426 L700.6 425.4 L700.6 424.8 L700.5 424.2 L700.4 423.6 L700.1 423 L699.8 422.4 L699.4 421.8 L699 421.2 L698.4 420.6 L697.8 420 L697.1 419.4 L696.3 418.8 L695.4 418.2 L694.4 417.6 L693.4 417 L692.3 416.4 L692.1 415.8 L693.2 415.2 L694.3 414.6 L695.3 414 L696.2 413.4 L697 412.8 L697.7 412.2 L698.3 411.6 L698.9 411 L699.4 410.4 L699.8 409.8 L700.1 409.2 L700.3 408.6 L700.5 408 L700.6 407.4 L700.6 406.8 L700.5 406.2 L700.3 405.6 L700.1 405 L699.8 404.4 L699.4 403.8 L698.9 403.2 L698.3 402.6 L697.7 402 L697 401.4 L696.2 400.8 L695.3 400.2 L694.3 399.6 L693.2 399 L692.1 398.4 L692.3 397.8 L693.4 397.2 L694.4 396.6 L695.4 396 L696.3 395.4 L697.1 394.8 L697.8 394.2 L698.4 393.6 L699 393 L699.4 392.4 L699.8 391.8 L700.1 391.2 L700.4 390.6 L700.5 390 L700.6 389.4 L700.6 388.8 L700.5 388.2 L700.3 387.6 L700.1 387Z" fill="none" stroke="#000" stroke-width="2.4"/>
</g>
<line x1="599" y1="387.9" x2="699.6" y2="387.9" stroke="#000" stroke-width="2.2" stroke-linecap="butt"/>
<line x1="599" y1="558.6" x2="699.6" y2="558.6" stroke="#000" stroke-width="2.0" stroke-linecap="butt"/>
<ellipse cx="698" cy="389.2" rx="3.1" ry="3.3" fill="#000"/>
<ellipse cx="600.6" cy="398.1" rx="3.1" ry="3.3" fill="#000"/>
<ellipse cx="698" cy="407.1" rx="3.1" ry="3.3" fill="#000"/>
<ellipse cx="600.6" cy="416.1" rx="3.1" ry="3.3" fill="#000"/>
<ellipse cx="698" cy="425" rx="3.1" ry="3.3" fill="#000"/>
<ellipse cx="600.6" cy="434" rx="3.1" ry="3.3" fill="#000"/>
<ellipse cx="698" cy="442.9" rx="3.1" ry="3.3" fill="#000"/>
<ellipse cx="600.6" cy="451.9" rx="3.1" ry="3.3" fill="#000"/>
<ellipse cx="698" cy="460.9" rx="3.1" ry="3.3" fill="#000"/>
<ellipse cx="600.6" cy="469.8" rx="3.1" ry="3.3" fill="#000"/>
<ellipse cx="698" cy="478.8" rx="3.1" ry="3.3" fill="#000"/>
<ellipse cx="600.6" cy="487.7" rx="3.1" ry="3.3" fill="#000"/>
<ellipse cx="698" cy="496.7" rx="3.1" ry="3.3" fill="#000"/>
<ellipse cx="600.6" cy="505.7" rx="3.1" ry="3.3" fill="#000"/>
<ellipse cx="698" cy="514.6" rx="3.1" ry="3.3" fill="#000"/>
<ellipse cx="600.6" cy="523.6" rx="3.1" ry="3.3" fill="#000"/>
<ellipse cx="698" cy="532.5" rx="3.1" ry="3.3" fill="#000"/>
<ellipse cx="600.6" cy="541.5" rx="3.1" ry="3.3" fill="#000"/>
<ellipse cx="698" cy="550.5" rx="3.1" ry="3.3" fill="#000"/>
<path d="M603.4 233.5 Q649.7 262 696 233.5" fill="none" stroke="#161616" stroke-width="1.5"/>
<path d="M609.1 387 L611 317.5 A38.2 34.5 0 0 1 687.6 318.5 L688.6 386" fill="none" stroke="#1a1a1a" stroke-width="1.8"/>
<path d="M589 53 L598 61 M708.5 53 L699.5 61" stroke="#161616" stroke-width="1.6" fill="none"/>
<path d="M589 566.2 L598.5 559 M708.5 566.2 L700 559" stroke="#161616" stroke-width="1.6" fill="none"/>
<line x1="597.5" y1="60.6" x2="700" y2="60.6" stroke="#000" stroke-width="2.2" stroke-linecap="butt"/>
<line x1="598" y1="559.5" x2="700" y2="559.5" stroke="#000" stroke-width="2.2" stroke-linecap="butt"/>
<rect x="530.5" y="53" width="236.3" height="513.2" fill="none" stroke="#1c1c1c" stroke-width="2.1"/>
<line x1="766.8" y1="79" x2="766.8" y2="531" stroke="#fff" stroke-width="2.3" stroke-linecap="butt"/>
<line x1="766.8" y1="78.5" x2="766.8" y2="531.5" stroke="#5c5c5c" stroke-width="2.4" stroke-linecap="butt"/>
<line x1="598.5" y1="46.3" x2="598.5" y2="59.5" stroke="#161616" stroke-width="1.6" stroke-linecap="butt"/>
<line x1="698" y1="46.3" x2="698" y2="68.5" stroke="#161616" stroke-width="1.6" stroke-linecap="butt"/>
<line x1="649" y1="37" x2="649" y2="291.8" stroke="#161616" stroke-width="1.6" stroke-linecap="butt"/>
<line x1="649" y1="304" x2="649" y2="316.9" stroke="#161616" stroke-width="1.6" stroke-linecap="butt"/>
<line x1="649" y1="329" x2="649" y2="584" stroke="#161616" stroke-width="1.6" stroke-linecap="butt"/>
<line x1="598.8" y1="550.5" x2="598.8" y2="632" stroke="#2a2a2a" stroke-width="1.8" stroke-linecap="butt"/>
<line x1="698.4" y1="559" x2="698.4" y2="632" stroke="#2a2a2a" stroke-width="1.8" stroke-linecap="butt"/>
<line x1="537.2" y1="624.2" x2="571" y2="624.2" stroke="#000" stroke-width="2.0" stroke-linecap="round"/>
<path d="M596.5 624.2 L569.5 629.2 L572.2 624.2 L569.5 619.2 Z" fill="#000"/>
<line x1="727" y1="624.2" x2="761" y2="624.2" stroke="#000" stroke-width="2.0" stroke-linecap="round"/>
<path d="M701 624.2 L728 619.2 L725.3 624.2 L728 629.2 Z" fill="#000"/>
<path d="M632.9 641 L632.9 606.6 L648.9 641 L665 606.6 L665 641" fill="none" stroke="#000" stroke-width="4.5" stroke-linecap="round" stroke-linejoin="round"/>
<path d="M530.8 801 L589.8 698.9 L707.7 698.9 L766.6 801 L707.7 903.1 L589.8 903.1Z" fill="none" stroke="#161616" stroke-width="1.7" stroke-linejoin="miter"/>
<circle cx="649.1" cy="801" r="98.8" fill="none" stroke="#222" stroke-width="1.8"/>
<circle cx="648.7" cy="801" r="59.4" fill="none" stroke="#161616" stroke-width="1.9"/>
<circle cx="648.7" cy="801" r="51.8" fill="none" stroke="#161616" stroke-width="1.9"/>
<circle cx="648.2" cy="801" r="40.3" fill="none" stroke="#161616" stroke-width="2.0"/>
<path d="M687.4 790.5 L687.5 789.6 L687.5 788.6 L687.4 787.7 L687.3 786.8 L687.2 785.8 L687 784.9 L686.8 784 L686.6 783 L686.3 782.1 L686 781.2 L685.7 780.3 L685.4 779.4 L685 778.5 L684.7 777.6 L684.2 776.7 L683.8 775.8 L683.4 775 L682.9 774.1 L682.4 773.2 L681.9 772.4 L681.3 771.6 L680.8 770.8 L680.2 769.9 L679.6 769.1 L679 768.4 L678.3 767.6 L677.7 766.8 L677 766.1 L676.3 765.4 L675.5 764.7 L674.8 764 L674 763.3 L673.2 762.6 L672.4 762 L671.6 761.4 L670.8 760.8 L669.9 760.2 L669.1 759.6 L668.2 759.1 L667.3 758.5 L666.4 758 L665.5 757.5 L664.5 757.1 L663.6 756.6 L662.6 756.2 L661.7 755.8 L660.7 755.4 L659.7 755.1 L658.7 754.8 L657.7 754.5 L656.6 754.2 L655.6 753.9 L654.6 753.7 L653.5 753.5 L652.5 753.3 L651.4 753.1 L650.3 753 L649.3 752.9 L648.2 752.8 L647.1 752.8" fill="none" stroke="#222" stroke-width="1.2"/>
<path d="M651.4 753.1 L648.9 752.9 L646.3 752.7 L643.7 752.8 L641.1 752.9 L638.5 753.2 L635.9 753.7 L633.4 754.3 L630.9 755.1 L628.4 756 L626 757 L623.6 758.2 L621.4 759.6 L619.1 761 L617 762.6 L615 764.3 L613.1 766.1 L611.2 768 L609.5 770 L607.9 772.2 L606.4 774.4 L605.1 776.7 L603.9 779 L602.8 781.5 L601.9 783.9 L601.1 786.5 L600.5 789 L600 791.6 L599.7 794.2 L599.5 796.8 L599.4 799.5 L599.6 802.1 L599.8 804.7 L600.2 807.2 L600.8 809.8 L601.5 812.3 L602.3 814.7 L603.3 817.1 L604.4 819.4 L605.6 821.6 L607 823.8 L608.4 825.8 L610 827.8 L611.7 829.7 L613.5 831.4 L615.3 833 L617.3 834.6 L619.3 836 L621.4 837.2 L623.5 838.4 L625.7 839.4 L627.9 840.2 L630.2 841 L632.5 841.6 L634.8 842 L637.1 842.3 L639.4 842.5 L641.7 842.5 L644 842.3 L646.2 842 L648.4 841.4" fill="none" stroke="#000" stroke-width="2.4"/>
<line x1="506.1" y1="801" x2="580.3" y2="801" stroke="#555" stroke-width="2.0" stroke-linecap="butt"/>
<line x1="591.4" y1="801" x2="604.2" y2="801" stroke="#555" stroke-width="2.0" stroke-linecap="butt"/>
<line x1="617.2" y1="801" x2="680.2" y2="801" stroke="#555" stroke-width="2.0" stroke-linecap="butt"/>
<line x1="693.2" y1="801" x2="706" y2="801" stroke="#555" stroke-width="2.0" stroke-linecap="butt"/>
<line x1="717.1" y1="801" x2="791.3" y2="801" stroke="#555" stroke-width="2.0" stroke-linecap="butt"/>
<line x1="648.4" y1="682.8" x2="648.4" y2="732.2" stroke="#111" stroke-width="1.7" stroke-linecap="butt"/>
<line x1="648.4" y1="744" x2="648.4" y2="755.9" stroke="#111" stroke-width="1.7" stroke-linecap="butt"/>
<line x1="648.4" y1="769" x2="648.4" y2="833" stroke="#111" stroke-width="1.7" stroke-linecap="butt"/>
<line x1="648.4" y1="846.1" x2="648.4" y2="858" stroke="#111" stroke-width="1.7" stroke-linecap="butt"/>
<line x1="648.4" y1="869.8" x2="648.4" y2="919.2" stroke="#111" stroke-width="1.7" stroke-linecap="butt"/>
<line x1="715" y1="698.9" x2="831.8" y2="698.9" stroke="#666" stroke-width="2.3" stroke-linecap="butt"/>
<line x1="715" y1="903.1" x2="831.8" y2="903.1" stroke="#666" stroke-width="2.3" stroke-linecap="butt"/>
<line x1="823.5" y1="728" x2="823.5" y2="780.7" stroke="#111" stroke-width="1.8" stroke-linecap="butt"/>
<line x1="823.5" y1="823.4" x2="823.5" y2="876" stroke="#111" stroke-width="1.8" stroke-linecap="butt"/>
<path d="M823.5 700.9 L828.7 728.4 L823.5 725.6 L818.3 728.4 Z" fill="#000"/>
<path d="M823.5 901.1 L818.3 873.6 L823.5 876.4 L828.7 873.6 Z" fill="#000"/>
<path d="M813.9 790.2 A18 12.6 0 1 0 833.1 790.2" fill="none" stroke="#000" stroke-width="3.2" stroke-linecap="round"/>
<text x="602.2" y="983.6" font-family="Liberation Sans, sans-serif" font-weight="bold" font-size="42" fill="#000" stroke="#000" stroke-width="0.8">Fig.2</text>
<line x1="280.2" y1="54.6" x2="358.2" y2="54.6" stroke="#7c7c7c" stroke-width="3.0" stroke-linecap="round"/>
<line x1="274.3" y1="566.2" x2="358.5" y2="566.2" stroke="#333" stroke-width="2.2" stroke-linecap="round"/>
<line x1="351.2" y1="84" x2="351.2" y2="291.6" stroke="#828282" stroke-width="2.5" stroke-linecap="butt"/>
<line x1="351.2" y1="328.1" x2="351.2" y2="538" stroke="#828282" stroke-width="2.5" stroke-linecap="butt"/>
<path d="M351.2 59.5 L356.1 85 L351.2 82.5 L346.3 85 Z" fill="#000"/>
<path d="M351.2 562.7 L346.3 537.2 L351.2 539.8 L356.1 537.2 Z" fill="#000"/>
<path d="M333.7 317.7 L368.2 317.7 L368.2 303" fill="none" stroke="#000" stroke-width="3.2" stroke-linecap="round" stroke-linejoin="round"/>
<line x1="775.2" y1="54.5" x2="901.1" y2="54.5" stroke="#777" stroke-width="2.8" stroke-linecap="round"/>
<line x1="775.2" y1="54.5" x2="838" y2="54.5" stroke="#222" stroke-width="2.8" stroke-linecap="round"/>
<line x1="770.9" y1="566.4" x2="901.1" y2="566.4" stroke="#222" stroke-width="2.2" stroke-linecap="round"/>
<line x1="893.9" y1="84" x2="893.9" y2="291.5" stroke="#828282" stroke-width="2.5" stroke-linecap="butt"/>
<line x1="893.9" y1="328.4" x2="893.9" y2="537" stroke="#828282" stroke-width="2.5" stroke-linecap="butt"/>
<path d="M893.9 57.5 L898.8 85.5 L893.9 82.7 L889 85.5 Z" fill="#000"/>
<path d="M893.9 561.5 L889 535.5 L893.9 538.1 L898.8 535.5 Z" fill="#000"/>
<path d="M876.6 317.7 L910.6 317.7 L910.6 302.7" fill="none" stroke="#000" stroke-width="3.2" stroke-linecap="round" stroke-linejoin="round"/>
<line x1="700.7" y1="233.6" x2="837.7" y2="233.6" stroke="#222" stroke-width="1.8" stroke-linecap="butt"/>
<line x1="704.2" y1="386.9" x2="840.3" y2="386.9" stroke="#777" stroke-width="1.9" stroke-linecap="butt"/>
<line x1="829.5" y1="84" x2="829.5" y2="119" stroke="#111" stroke-width="1.8" stroke-linecap="butt"/>
<line x1="829.5" y1="168.9" x2="829.5" y2="204" stroke="#111" stroke-width="1.8" stroke-linecap="butt"/>
<path d="M829.5 57.1 L834.4 85.1 L829.5 82.3 L824.6 85.1 Z" fill="#000"/>
<path d="M829.5 230.8 L824.6 203.8 L829.5 206.5 L834.4 203.8 Z" fill="#000"/>
<path d="M847.9 128.8 L810.4 144 L847.9 160.2" fill="none" stroke="#000" stroke-width="3.4" stroke-linecap="round" stroke-linejoin="round"/>
<path d="M836 134 L836 154.8" fill="none" stroke="#000" stroke-width="3.4" stroke-linecap="round" stroke-linejoin="round"/>
<line x1="832.7" y1="416" x2="832.7" y2="451.4" stroke="#111" stroke-width="1.8" stroke-linecap="butt"/>
<line x1="832.7" y1="502.4" x2="832.7" y2="538" stroke="#111" stroke-width="1.8" stroke-linecap="butt"/>
<path d="M832.7 389.5 L837.6 417.5 L832.7 414.7 L827.8 417.5 Z" fill="#000"/>
<path d="M832.7 561 L827.8 536.5 L832.7 539 L837.6 536.5 Z" fill="#000"/>
<path d="M851.2 461.2 L814.3 476.4 L851.2 492.6" fill="none" stroke="#000" stroke-width="3.4" stroke-linecap="round" stroke-linejoin="round"/>
<path d="M839.2 466.4 L839.2 487" fill="none" stroke="#000" stroke-width="3.4" stroke-linecap="round" stroke-linejoin="round"/>
</svg>
</body></html>
